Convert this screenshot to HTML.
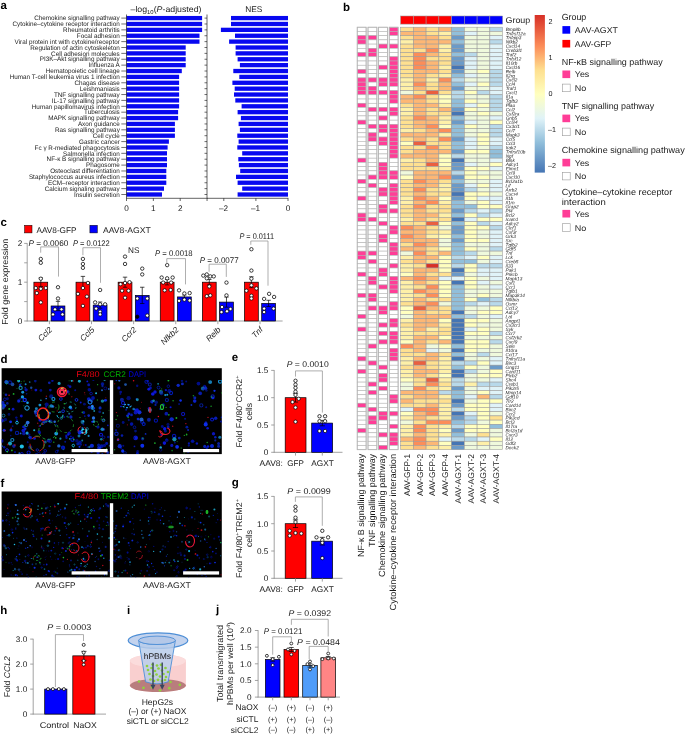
<!DOCTYPE html>
<html lang="en"><head><meta charset="utf-8"><title>Figure</title>
<style>
html,body{margin:0;padding:0;background:#fff;}
body{width:685px;height:734px;overflow:hidden;}
svg{display:block;font-family:"Liberation Sans",sans-serif;text-rendering:geometricPrecision;}
</style></head><body>
<svg width="685" height="734" viewBox="0 0 685 734">
<rect width="685" height="734" fill="#fff"/>
<text x="0.50" y="9.00" font-size="11.5" font-weight="bold" fill="#000">a</text>
<text x="119.80" y="20.30" font-size="6.5" text-anchor="end" textLength="85.6" lengthAdjust="spacingAndGlyphs" fill="#1a1a1a">Chemokine signalling pathway</text>
<line x1="121.30" y1="18.10" x2="126.50" y2="18.10" stroke="#111" stroke-width="0.6"/>
<rect x="126.50" y="15.95" width="75.60" height="4.30" fill="#0808f0"/>
<rect x="231.00" y="15.95" width="57.00" height="4.30" fill="#0808f0"/>
<line x1="204.50" y1="18.10" x2="207.00" y2="18.10" stroke="#111" stroke-width="0.6"/>
<text x="119.80" y="26.18" font-size="6.5" text-anchor="end" textLength="107.4" lengthAdjust="spacingAndGlyphs" fill="#1a1a1a">Cytokine–cytokine receptor interaction</text>
<line x1="121.30" y1="23.98" x2="126.50" y2="23.98" stroke="#111" stroke-width="0.6"/>
<rect x="126.50" y="21.83" width="75.60" height="4.30" fill="#0808f0"/>
<rect x="231.00" y="21.83" width="57.00" height="4.30" fill="#0808f0"/>
<line x1="204.50" y1="23.98" x2="207.00" y2="23.98" stroke="#111" stroke-width="0.6"/>
<text x="119.80" y="32.06" font-size="6.5" text-anchor="end" textLength="56.7" lengthAdjust="spacingAndGlyphs" fill="#1a1a1a">Rheumatoid arthritis</text>
<line x1="121.30" y1="29.86" x2="126.50" y2="29.86" stroke="#111" stroke-width="0.6"/>
<rect x="126.50" y="27.71" width="75.60" height="4.30" fill="#0808f0"/>
<rect x="220.90" y="27.71" width="67.10" height="4.30" fill="#0808f0"/>
<line x1="204.50" y1="29.86" x2="207.00" y2="29.86" stroke="#111" stroke-width="0.6"/>
<text x="119.80" y="37.94" font-size="6.5" text-anchor="end" textLength="43.0" lengthAdjust="spacingAndGlyphs" fill="#1a1a1a">Focal adhesion</text>
<line x1="121.30" y1="35.74" x2="126.50" y2="35.74" stroke="#111" stroke-width="0.6"/>
<rect x="126.50" y="33.59" width="73.00" height="4.30" fill="#0808f0"/>
<rect x="235.00" y="33.59" width="53.00" height="4.30" fill="#0808f0"/>
<line x1="204.50" y1="35.74" x2="207.00" y2="35.74" stroke="#111" stroke-width="0.6"/>
<text x="119.80" y="43.82" font-size="6.5" text-anchor="end" textLength="105.2" lengthAdjust="spacingAndGlyphs" fill="#1a1a1a">Viral protein int with cytokine/receptor</text>
<line x1="121.30" y1="41.62" x2="126.50" y2="41.62" stroke="#111" stroke-width="0.6"/>
<rect x="126.50" y="39.47" width="73.00" height="4.30" fill="#0808f0"/>
<rect x="229.10" y="39.47" width="58.90" height="4.30" fill="#0808f0"/>
<line x1="204.50" y1="41.62" x2="207.00" y2="41.62" stroke="#111" stroke-width="0.6"/>
<text x="119.80" y="49.70" font-size="6.5" text-anchor="end" textLength="89.5" lengthAdjust="spacingAndGlyphs" fill="#1a1a1a">Regulation of actin cytoskeleton</text>
<line x1="121.30" y1="47.50" x2="126.50" y2="47.50" stroke="#111" stroke-width="0.6"/>
<rect x="126.50" y="45.35" width="59.20" height="4.30" fill="#0808f0"/>
<rect x="235.60" y="45.35" width="52.40" height="4.30" fill="#0808f0"/>
<line x1="204.50" y1="47.50" x2="207.00" y2="47.50" stroke="#111" stroke-width="0.6"/>
<text x="119.80" y="55.58" font-size="6.5" text-anchor="end" textLength="68.7" lengthAdjust="spacingAndGlyphs" fill="#1a1a1a">Cell adhesion molecules</text>
<line x1="121.30" y1="53.38" x2="126.50" y2="53.38" stroke="#111" stroke-width="0.6"/>
<rect x="126.50" y="51.23" width="59.20" height="4.30" fill="#0808f0"/>
<rect x="235.60" y="51.23" width="52.40" height="4.30" fill="#0808f0"/>
<line x1="204.50" y1="53.38" x2="207.00" y2="53.38" stroke="#111" stroke-width="0.6"/>
<text x="119.80" y="61.46" font-size="6.5" text-anchor="end" textLength="80.0" lengthAdjust="spacingAndGlyphs" fill="#1a1a1a">PI3K–Akt signalling pathway</text>
<line x1="121.30" y1="59.26" x2="126.50" y2="59.26" stroke="#111" stroke-width="0.6"/>
<rect x="126.50" y="57.11" width="59.20" height="4.30" fill="#0808f0"/>
<rect x="237.60" y="57.11" width="50.40" height="4.30" fill="#0808f0"/>
<line x1="204.50" y1="59.26" x2="207.00" y2="59.26" stroke="#111" stroke-width="0.6"/>
<text x="119.80" y="67.34" font-size="6.5" text-anchor="end" textLength="31.4" lengthAdjust="spacingAndGlyphs" fill="#1a1a1a">Influenza A</text>
<line x1="121.30" y1="65.14" x2="126.50" y2="65.14" stroke="#111" stroke-width="0.6"/>
<rect x="126.50" y="62.99" width="59.20" height="4.30" fill="#0808f0"/>
<rect x="239.90" y="62.99" width="48.10" height="4.30" fill="#0808f0"/>
<line x1="204.50" y1="65.14" x2="207.00" y2="65.14" stroke="#111" stroke-width="0.6"/>
<text x="119.80" y="73.22" font-size="6.5" text-anchor="end" textLength="74.0" lengthAdjust="spacingAndGlyphs" fill="#1a1a1a">Hematopoietic cell lineage</text>
<line x1="121.30" y1="71.02" x2="126.50" y2="71.02" stroke="#111" stroke-width="0.6"/>
<rect x="126.50" y="68.87" width="55.30" height="4.30" fill="#0808f0"/>
<rect x="233.30" y="68.87" width="54.70" height="4.30" fill="#0808f0"/>
<line x1="204.50" y1="71.02" x2="207.00" y2="71.02" stroke="#111" stroke-width="0.6"/>
<text x="119.80" y="79.10" font-size="6.5" text-anchor="end" textLength="110.1" lengthAdjust="spacingAndGlyphs" fill="#1a1a1a">Human T-cell leukemia virus 1 infection</text>
<line x1="121.30" y1="76.90" x2="126.50" y2="76.90" stroke="#111" stroke-width="0.6"/>
<rect x="126.50" y="74.75" width="52.60" height="4.30" fill="#0808f0"/>
<rect x="239.30" y="74.75" width="48.70" height="4.30" fill="#0808f0"/>
<line x1="204.50" y1="76.90" x2="207.00" y2="76.90" stroke="#111" stroke-width="0.6"/>
<text x="119.80" y="84.98" font-size="6.5" text-anchor="end" textLength="45.4" lengthAdjust="spacingAndGlyphs" fill="#1a1a1a">Chagas disease</text>
<line x1="121.30" y1="82.78" x2="126.50" y2="82.78" stroke="#111" stroke-width="0.6"/>
<rect x="126.50" y="80.63" width="52.60" height="4.30" fill="#0808f0"/>
<rect x="232.40" y="80.63" width="55.60" height="4.30" fill="#0808f0"/>
<line x1="204.50" y1="82.78" x2="207.00" y2="82.78" stroke="#111" stroke-width="0.6"/>
<text x="119.80" y="90.86" font-size="6.5" text-anchor="end" textLength="40.1" lengthAdjust="spacingAndGlyphs" fill="#1a1a1a">Leishmaniasis</text>
<line x1="121.30" y1="88.66" x2="126.50" y2="88.66" stroke="#111" stroke-width="0.6"/>
<rect x="126.50" y="86.51" width="52.60" height="4.30" fill="#0808f0"/>
<rect x="234.70" y="86.51" width="53.30" height="4.30" fill="#0808f0"/>
<line x1="204.50" y1="88.66" x2="207.00" y2="88.66" stroke="#111" stroke-width="0.6"/>
<text x="119.80" y="96.74" font-size="6.5" text-anchor="end" textLength="65.9" lengthAdjust="spacingAndGlyphs" fill="#1a1a1a">TNF signalling pathway</text>
<line x1="121.30" y1="94.54" x2="126.50" y2="94.54" stroke="#111" stroke-width="0.6"/>
<rect x="126.50" y="92.39" width="52.60" height="4.30" fill="#0808f0"/>
<rect x="234.00" y="92.39" width="54.00" height="4.30" fill="#0808f0"/>
<line x1="204.50" y1="94.54" x2="207.00" y2="94.54" stroke="#111" stroke-width="0.6"/>
<text x="119.80" y="102.62" font-size="6.5" text-anchor="end" textLength="68.0" lengthAdjust="spacingAndGlyphs" fill="#1a1a1a">IL-17 signalling pathway</text>
<line x1="121.30" y1="100.42" x2="126.50" y2="100.42" stroke="#111" stroke-width="0.6"/>
<rect x="126.50" y="98.27" width="52.60" height="4.30" fill="#0808f0"/>
<rect x="235.30" y="98.27" width="52.70" height="4.30" fill="#0808f0"/>
<line x1="204.50" y1="100.42" x2="207.00" y2="100.42" stroke="#111" stroke-width="0.6"/>
<text x="119.80" y="108.50" font-size="6.5" text-anchor="end" textLength="88.0" lengthAdjust="spacingAndGlyphs" fill="#1a1a1a">Human papillomavirus infection</text>
<line x1="121.30" y1="106.30" x2="126.50" y2="106.30" stroke="#111" stroke-width="0.6"/>
<rect x="126.50" y="104.15" width="52.60" height="4.30" fill="#0808f0"/>
<rect x="241.60" y="104.15" width="46.40" height="4.30" fill="#0808f0"/>
<line x1="204.50" y1="106.30" x2="207.00" y2="106.30" stroke="#111" stroke-width="0.6"/>
<text x="119.80" y="114.38" font-size="6.5" text-anchor="end" textLength="35.7" lengthAdjust="spacingAndGlyphs" fill="#1a1a1a">Tuberculosis</text>
<line x1="121.30" y1="112.18" x2="126.50" y2="112.18" stroke="#111" stroke-width="0.6"/>
<rect x="126.50" y="110.03" width="51.60" height="4.30" fill="#0808f0"/>
<rect x="237.60" y="110.03" width="50.40" height="4.30" fill="#0808f0"/>
<line x1="204.50" y1="112.18" x2="207.00" y2="112.18" stroke="#111" stroke-width="0.6"/>
<text x="119.80" y="120.26" font-size="6.5" text-anchor="end" textLength="71.5" lengthAdjust="spacingAndGlyphs" fill="#1a1a1a">MAPK signalling pathway</text>
<line x1="121.30" y1="118.06" x2="126.50" y2="118.06" stroke="#111" stroke-width="0.6"/>
<rect x="126.50" y="115.91" width="51.60" height="4.30" fill="#0808f0"/>
<rect x="240.90" y="115.91" width="47.10" height="4.30" fill="#0808f0"/>
<line x1="204.50" y1="118.06" x2="207.00" y2="118.06" stroke="#111" stroke-width="0.6"/>
<text x="119.80" y="126.14" font-size="6.5" text-anchor="end" textLength="41.9" lengthAdjust="spacingAndGlyphs" fill="#1a1a1a">Axon guidance</text>
<line x1="121.30" y1="123.94" x2="126.50" y2="123.94" stroke="#111" stroke-width="0.6"/>
<rect x="126.50" y="121.79" width="48.40" height="4.30" fill="#0808f0"/>
<rect x="238.60" y="121.79" width="49.40" height="4.30" fill="#0808f0"/>
<line x1="204.50" y1="123.94" x2="207.00" y2="123.94" stroke="#111" stroke-width="0.6"/>
<text x="119.80" y="132.02" font-size="6.5" text-anchor="end" textLength="64.8" lengthAdjust="spacingAndGlyphs" fill="#1a1a1a">Ras signalling pathway</text>
<line x1="121.30" y1="129.82" x2="126.50" y2="129.82" stroke="#111" stroke-width="0.6"/>
<rect x="126.50" y="127.67" width="48.40" height="4.30" fill="#0808f0"/>
<rect x="239.90" y="127.67" width="48.10" height="4.30" fill="#0808f0"/>
<line x1="204.50" y1="129.82" x2="207.00" y2="129.82" stroke="#111" stroke-width="0.6"/>
<text x="119.80" y="137.90" font-size="6.5" text-anchor="end" textLength="27.1" lengthAdjust="spacingAndGlyphs" fill="#1a1a1a">Cell cycle</text>
<line x1="121.30" y1="135.70" x2="126.50" y2="135.70" stroke="#111" stroke-width="0.6"/>
<rect x="126.50" y="133.55" width="48.40" height="4.30" fill="#0808f0"/>
<rect x="237.30" y="133.55" width="50.70" height="4.30" fill="#0808f0"/>
<line x1="204.50" y1="135.70" x2="207.00" y2="135.70" stroke="#111" stroke-width="0.6"/>
<text x="119.80" y="143.78" font-size="6.5" text-anchor="end" textLength="40.8" lengthAdjust="spacingAndGlyphs" fill="#1a1a1a">Gastric cancer</text>
<line x1="121.30" y1="141.58" x2="126.50" y2="141.58" stroke="#111" stroke-width="0.6"/>
<rect x="126.50" y="139.43" width="42.40" height="4.30" fill="#0808f0"/>
<rect x="238.60" y="139.43" width="49.40" height="4.30" fill="#0808f0"/>
<line x1="204.50" y1="141.58" x2="207.00" y2="141.58" stroke="#111" stroke-width="0.6"/>
<text x="119.80" y="149.66" font-size="6.5" text-anchor="end" textLength="85.2" lengthAdjust="spacingAndGlyphs" fill="#1a1a1a">Fc γ R-mediated phagocytosis</text>
<line x1="121.30" y1="147.46" x2="126.50" y2="147.46" stroke="#111" stroke-width="0.6"/>
<rect x="126.50" y="145.31" width="41.10" height="4.30" fill="#0808f0"/>
<rect x="237.30" y="145.31" width="50.70" height="4.30" fill="#0808f0"/>
<line x1="204.50" y1="147.46" x2="207.00" y2="147.46" stroke="#111" stroke-width="0.6"/>
<text x="119.80" y="155.54" font-size="6.5" text-anchor="end" textLength="56.7" lengthAdjust="spacingAndGlyphs" fill="#1a1a1a">Salmonella infection</text>
<line x1="121.30" y1="153.34" x2="126.50" y2="153.34" stroke="#111" stroke-width="0.6"/>
<rect x="126.50" y="151.19" width="40.50" height="4.30" fill="#0808f0"/>
<rect x="242.20" y="151.19" width="45.80" height="4.30" fill="#0808f0"/>
<line x1="204.50" y1="153.34" x2="207.00" y2="153.34" stroke="#111" stroke-width="0.6"/>
<text x="119.80" y="161.42" font-size="6.5" text-anchor="end" textLength="73.2" lengthAdjust="spacingAndGlyphs" fill="#1a1a1a">NF-κ B signalling pathway</text>
<line x1="121.30" y1="159.22" x2="126.50" y2="159.22" stroke="#111" stroke-width="0.6"/>
<rect x="126.50" y="157.07" width="40.50" height="4.30" fill="#0808f0"/>
<rect x="238.30" y="157.07" width="49.70" height="4.30" fill="#0808f0"/>
<line x1="204.50" y1="159.22" x2="207.00" y2="159.22" stroke="#111" stroke-width="0.6"/>
<text x="119.80" y="167.30" font-size="6.5" text-anchor="end" textLength="33.8" lengthAdjust="spacingAndGlyphs" fill="#1a1a1a">Phagosome</text>
<line x1="121.30" y1="165.10" x2="126.50" y2="165.10" stroke="#111" stroke-width="0.6"/>
<rect x="126.50" y="162.95" width="40.50" height="4.30" fill="#0808f0"/>
<rect x="238.90" y="162.95" width="49.10" height="4.30" fill="#0808f0"/>
<line x1="204.50" y1="165.10" x2="207.00" y2="165.10" stroke="#111" stroke-width="0.6"/>
<text x="119.80" y="173.18" font-size="6.5" text-anchor="end" textLength="69.6" lengthAdjust="spacingAndGlyphs" fill="#1a1a1a">Osteoclast differentiation</text>
<line x1="121.30" y1="170.98" x2="126.50" y2="170.98" stroke="#111" stroke-width="0.6"/>
<rect x="126.50" y="168.83" width="39.80" height="4.30" fill="#0808f0"/>
<rect x="240.20" y="168.83" width="47.80" height="4.30" fill="#0808f0"/>
<line x1="204.50" y1="170.98" x2="207.00" y2="170.98" stroke="#111" stroke-width="0.6"/>
<text x="119.80" y="179.06" font-size="6.5" text-anchor="end" textLength="90.9" lengthAdjust="spacingAndGlyphs" fill="#1a1a1a">Staphylococcus aureus infection</text>
<line x1="121.30" y1="176.86" x2="126.50" y2="176.86" stroke="#111" stroke-width="0.6"/>
<rect x="126.50" y="174.71" width="39.80" height="4.30" fill="#0808f0"/>
<rect x="236.00" y="174.71" width="52.00" height="4.30" fill="#0808f0"/>
<line x1="204.50" y1="176.86" x2="207.00" y2="176.86" stroke="#111" stroke-width="0.6"/>
<text x="119.80" y="184.94" font-size="6.5" text-anchor="end" textLength="71.8" lengthAdjust="spacingAndGlyphs" fill="#1a1a1a">ECM–receptor interaction</text>
<line x1="121.30" y1="182.74" x2="126.50" y2="182.74" stroke="#111" stroke-width="0.6"/>
<rect x="126.50" y="180.59" width="39.80" height="4.30" fill="#0808f0"/>
<rect x="237.60" y="180.59" width="50.40" height="4.30" fill="#0808f0"/>
<line x1="204.50" y1="182.74" x2="207.00" y2="182.74" stroke="#111" stroke-width="0.6"/>
<text x="119.80" y="190.82" font-size="6.5" text-anchor="end" textLength="75.0" lengthAdjust="spacingAndGlyphs" fill="#1a1a1a">Calcium signaling pathway</text>
<line x1="121.30" y1="188.62" x2="126.50" y2="188.62" stroke="#111" stroke-width="0.6"/>
<rect x="126.50" y="186.47" width="37.50" height="4.30" fill="#0808f0"/>
<rect x="242.20" y="186.47" width="45.80" height="4.30" fill="#0808f0"/>
<line x1="204.50" y1="188.62" x2="207.00" y2="188.62" stroke="#111" stroke-width="0.6"/>
<text x="119.80" y="196.70" font-size="6.5" text-anchor="end" textLength="45.8" lengthAdjust="spacingAndGlyphs" fill="#1a1a1a">Insulin secretion</text>
<line x1="121.30" y1="194.50" x2="126.50" y2="194.50" stroke="#111" stroke-width="0.6"/>
<rect x="126.50" y="192.35" width="35.50" height="4.30" fill="#0808f0"/>
<rect x="237.60" y="192.35" width="50.40" height="4.30" fill="#0808f0"/>
<line x1="204.50" y1="194.50" x2="207.00" y2="194.50" stroke="#111" stroke-width="0.6"/>
<line x1="126.50" y1="14.50" x2="126.50" y2="198.30" stroke="#111" stroke-width="0.65"/>
<line x1="126.20" y1="198.30" x2="207.30" y2="198.30" stroke="#111" stroke-width="0.65"/>
<line x1="207.00" y1="14.50" x2="207.00" y2="198.30" stroke="#111" stroke-width="0.65"/>
<line x1="126.50" y1="198.30" x2="126.50" y2="201.00" stroke="#111" stroke-width="0.65"/>
<text x="126.50" y="211.00" font-size="8.2" text-anchor="middle" fill="#1a1a1a">0</text>
<line x1="153.35" y1="198.30" x2="153.35" y2="201.00" stroke="#111" stroke-width="0.65"/>
<text x="153.35" y="211.00" font-size="8.2" text-anchor="middle" fill="#1a1a1a">1</text>
<line x1="180.20" y1="198.30" x2="180.20" y2="201.00" stroke="#111" stroke-width="0.65"/>
<text x="180.20" y="211.00" font-size="8.2" text-anchor="middle" fill="#1a1a1a">2</text>
<line x1="207.05" y1="198.30" x2="207.05" y2="201.00" stroke="#111" stroke-width="0.65"/>
<line x1="207.00" y1="198.30" x2="288.30" y2="198.30" stroke="#111" stroke-width="0.65"/>
<line x1="223.80" y1="198.30" x2="223.80" y2="201.00" stroke="#111" stroke-width="0.65"/>
<text x="223.50" y="211.00" font-size="8.2" text-anchor="middle" fill="#1a1a1a">–2</text>
<line x1="255.90" y1="198.30" x2="255.90" y2="201.00" stroke="#111" stroke-width="0.65"/>
<text x="255.60" y="211.00" font-size="8.2" text-anchor="middle" fill="#1a1a1a">–1</text>
<line x1="288.00" y1="198.30" x2="288.00" y2="201.00" stroke="#111" stroke-width="0.65"/>
<text x="288.00" y="211.00" font-size="8.2" text-anchor="middle" fill="#1a1a1a">0</text>
<text x="130.5" y="12.2" font-size="8.3" fill="#1a1a1a" textLength="71" lengthAdjust="spacingAndGlyphs">–log<tspan font-size="5.6" dy="1.8">10</tspan><tspan dy="-1.8">(</tspan><tspan font-style="italic">P</tspan>-adjusted)</text>
<text x="253.80" y="12.20" font-size="8.3" text-anchor="middle" fill="#1a1a1a">NES</text>
<text x="0.50" y="226.00" font-size="11.5" font-weight="bold" fill="#000">c</text>
<rect x="24.60" y="225.30" width="7.40" height="7.60" fill="#ff0000" stroke="#000" stroke-width="0.5"/>
<text x="36.40" y="232.60" font-size="8.2" textLength="40.2" lengthAdjust="spacingAndGlyphs" fill="#1a1a1a">AAV8-GFP</text>
<rect x="89.90" y="225.30" width="7.40" height="7.60" fill="#0000ff" stroke="#000" stroke-width="0.5"/>
<text x="103.00" y="232.60" font-size="8.2" textLength="47.8" lengthAdjust="spacingAndGlyphs" fill="#1a1a1a">AAV8-AGXT</text>
<line x1="27.20" y1="243.20" x2="27.20" y2="321.30" stroke="#8c8c8c" stroke-width="0.8"/>
<line x1="26.80" y1="321.00" x2="282.60" y2="321.00" stroke="#8c8c8c" stroke-width="0.8"/>
<line x1="24.20" y1="321.00" x2="27.20" y2="321.00" stroke="#8c8c8c" stroke-width="0.8"/>
<text x="22.30" y="323.90" font-size="8.2" text-anchor="end" fill="#1a1a1a">0</text>
<line x1="24.20" y1="301.60" x2="27.20" y2="301.60" stroke="#8c8c8c" stroke-width="0.8"/>
<line x1="24.20" y1="282.20" x2="27.20" y2="282.20" stroke="#8c8c8c" stroke-width="0.8"/>
<text x="22.30" y="285.10" font-size="8.2" text-anchor="end" fill="#1a1a1a">1</text>
<line x1="24.20" y1="262.80" x2="27.20" y2="262.80" stroke="#8c8c8c" stroke-width="0.8"/>
<line x1="24.20" y1="243.40" x2="27.20" y2="243.40" stroke="#8c8c8c" stroke-width="0.8"/>
<text x="22.30" y="246.30" font-size="8.2" text-anchor="end" fill="#1a1a1a">2</text>
<text x="8.50" y="281.80" font-size="8.7" text-anchor="middle" transform="rotate(-90 8.50 281.80)" textLength="86.0" lengthAdjust="spacingAndGlyphs" fill="#1a1a1a">Fold gene expression</text>
<rect x="33.90" y="282.20" width="13.80" height="38.80" fill="#ff0000" stroke="#000" stroke-width="0.7"/>
<rect x="51.10" y="305.98" width="13.80" height="15.02" fill="#0000ff" stroke="#000" stroke-width="0.7"/>
<line x1="40.80" y1="277.93" x2="40.80" y2="286.47" stroke="#000" stroke-width="0.7"/>
<line x1="38.60" y1="277.93" x2="43.00" y2="277.93" stroke="#000" stroke-width="0.7"/>
<line x1="38.60" y1="286.47" x2="43.00" y2="286.47" stroke="#000" stroke-width="0.7"/>
<line x1="58.00" y1="301.33" x2="58.00" y2="310.64" stroke="#000" stroke-width="0.7"/>
<line x1="55.80" y1="301.33" x2="60.20" y2="301.33" stroke="#000" stroke-width="0.7"/>
<line x1="55.80" y1="310.64" x2="60.20" y2="310.64" stroke="#000" stroke-width="0.7"/>
<circle cx="40.80" cy="258.92" r="1.7" fill="#fff" stroke="#000" stroke-width="0.75"/>
<circle cx="40.80" cy="262.80" r="1.7" fill="#fff" stroke="#000" stroke-width="0.75"/>
<circle cx="40.80" cy="278.71" r="1.7" fill="#fff" stroke="#000" stroke-width="0.75"/>
<circle cx="35.80" cy="288.02" r="1.7" fill="#fff" stroke="#000" stroke-width="0.75"/>
<circle cx="40.80" cy="288.80" r="1.7" fill="#fff" stroke="#000" stroke-width="0.75"/>
<circle cx="45.80" cy="288.02" r="1.7" fill="#fff" stroke="#000" stroke-width="0.75"/>
<circle cx="36.80" cy="293.06" r="1.7" fill="#fff" stroke="#000" stroke-width="0.75"/>
<circle cx="40.80" cy="302.38" r="1.7" fill="#fff" stroke="#000" stroke-width="0.75"/>
<circle cx="58.00" cy="287.24" r="1.7" fill="#fff" stroke="#000" stroke-width="0.75"/>
<circle cx="58.00" cy="298.50" r="1.7" fill="#fff" stroke="#000" stroke-width="0.75"/>
<circle cx="55.00" cy="309.36" r="1.7" fill="#fff" stroke="#000" stroke-width="0.75"/>
<circle cx="61.50" cy="309.36" r="1.7" fill="#fff" stroke="#000" stroke-width="0.75"/>
<circle cx="53.00" cy="314.40" r="1.7" fill="#fff" stroke="#000" stroke-width="0.75"/>
<circle cx="62.50" cy="314.40" r="1.7" fill="#fff" stroke="#000" stroke-width="0.75"/>
<line x1="49.40" y1="321.00" x2="49.40" y2="324.20" stroke="#8c8c8c" stroke-width="0.8"/>
<text x="52.80" y="330.20" font-size="8.2" text-anchor="end" font-style="italic" transform="rotate(-45 52.80 330.20)" fill="#1a1a1a">Ccl2</text>
<rect x="76.02" y="282.20" width="13.80" height="38.80" fill="#ff0000" stroke="#000" stroke-width="0.7"/>
<rect x="93.22" y="305.09" width="13.80" height="15.91" fill="#0000ff" stroke="#000" stroke-width="0.7"/>
<line x1="82.92" y1="276.38" x2="82.92" y2="288.02" stroke="#000" stroke-width="0.7"/>
<line x1="80.72" y1="276.38" x2="85.12" y2="276.38" stroke="#000" stroke-width="0.7"/>
<line x1="80.72" y1="288.02" x2="85.12" y2="288.02" stroke="#000" stroke-width="0.7"/>
<line x1="100.12" y1="301.99" x2="100.12" y2="308.20" stroke="#000" stroke-width="0.7"/>
<line x1="97.92" y1="301.99" x2="102.32" y2="301.99" stroke="#000" stroke-width="0.7"/>
<line x1="97.92" y1="308.20" x2="102.32" y2="308.20" stroke="#000" stroke-width="0.7"/>
<circle cx="82.92" cy="258.92" r="1.7" fill="#fff" stroke="#000" stroke-width="0.75"/>
<circle cx="82.92" cy="263.96" r="1.7" fill="#fff" stroke="#000" stroke-width="0.75"/>
<circle cx="82.92" cy="267.84" r="1.7" fill="#fff" stroke="#000" stroke-width="0.75"/>
<circle cx="87.92" cy="282.98" r="1.7" fill="#fff" stroke="#000" stroke-width="0.75"/>
<circle cx="82.92" cy="288.02" r="1.7" fill="#fff" stroke="#000" stroke-width="0.75"/>
<circle cx="77.92" cy="293.84" r="1.7" fill="#fff" stroke="#000" stroke-width="0.75"/>
<circle cx="86.92" cy="296.56" r="1.7" fill="#fff" stroke="#000" stroke-width="0.75"/>
<circle cx="82.92" cy="305.87" r="1.7" fill="#fff" stroke="#000" stroke-width="0.75"/>
<circle cx="100.12" cy="289.96" r="1.7" fill="#fff" stroke="#000" stroke-width="0.75"/>
<circle cx="95.12" cy="302.38" r="1.7" fill="#fff" stroke="#000" stroke-width="0.75"/>
<circle cx="100.12" cy="304.32" r="1.7" fill="#fff" stroke="#000" stroke-width="0.75"/>
<circle cx="105.12" cy="304.32" r="1.7" fill="#fff" stroke="#000" stroke-width="0.75"/>
<circle cx="96.12" cy="308.58" r="1.7" fill="#fff" stroke="#000" stroke-width="0.75"/>
<circle cx="100.12" cy="311.69" r="1.7" fill="#fff" stroke="#000" stroke-width="0.75"/>
<circle cx="100.12" cy="314.40" r="1.7" fill="#fff" stroke="#000" stroke-width="0.75"/>
<line x1="91.52" y1="321.00" x2="91.52" y2="324.20" stroke="#8c8c8c" stroke-width="0.8"/>
<text x="94.92" y="330.20" font-size="8.2" text-anchor="end" font-style="italic" transform="rotate(-45 94.92 330.20)" fill="#1a1a1a">Ccl5</text>
<rect x="118.14" y="282.20" width="13.80" height="38.80" fill="#ff0000" stroke="#000" stroke-width="0.7"/>
<rect x="135.34" y="295.39" width="13.80" height="25.61" fill="#0000ff" stroke="#000" stroke-width="0.7"/>
<line x1="125.04" y1="277.16" x2="125.04" y2="287.24" stroke="#000" stroke-width="0.7"/>
<line x1="122.84" y1="277.16" x2="127.24" y2="277.16" stroke="#000" stroke-width="0.7"/>
<line x1="122.84" y1="287.24" x2="127.24" y2="287.24" stroke="#000" stroke-width="0.7"/>
<line x1="142.24" y1="287.24" x2="142.24" y2="303.54" stroke="#000" stroke-width="0.7"/>
<line x1="140.04" y1="287.24" x2="144.44" y2="287.24" stroke="#000" stroke-width="0.7"/>
<line x1="140.04" y1="303.54" x2="144.44" y2="303.54" stroke="#000" stroke-width="0.7"/>
<circle cx="125.04" cy="256.59" r="1.7" fill="#fff" stroke="#000" stroke-width="0.75"/>
<circle cx="125.04" cy="263.96" r="1.7" fill="#fff" stroke="#000" stroke-width="0.75"/>
<circle cx="125.04" cy="282.98" r="1.7" fill="#fff" stroke="#000" stroke-width="0.75"/>
<circle cx="120.54" cy="284.14" r="1.7" fill="#fff" stroke="#000" stroke-width="0.75"/>
<circle cx="129.54" cy="282.20" r="1.7" fill="#fff" stroke="#000" stroke-width="0.75"/>
<circle cx="122.04" cy="290.74" r="1.7" fill="#fff" stroke="#000" stroke-width="0.75"/>
<circle cx="128.54" cy="290.74" r="1.7" fill="#fff" stroke="#000" stroke-width="0.75"/>
<circle cx="125.04" cy="297.72" r="1.7" fill="#fff" stroke="#000" stroke-width="0.75"/>
<circle cx="142.24" cy="268.62" r="1.7" fill="#fff" stroke="#000" stroke-width="0.75"/>
<circle cx="142.24" cy="274.44" r="1.7" fill="#fff" stroke="#000" stroke-width="0.75"/>
<circle cx="137.24" cy="298.50" r="1.7" fill="#fff" stroke="#000" stroke-width="0.75"/>
<circle cx="147.24" cy="298.50" r="1.7" fill="#fff" stroke="#000" stroke-width="0.75"/>
<circle cx="137.24" cy="316.73" r="1.7" fill="#000" stroke="#000" stroke-width="0.75"/>
<circle cx="147.24" cy="315.57" r="1.7" fill="#fff" stroke="#000" stroke-width="0.75"/>
<line x1="133.64" y1="321.00" x2="133.64" y2="324.20" stroke="#8c8c8c" stroke-width="0.8"/>
<text x="137.04" y="330.20" font-size="8.2" text-anchor="end" font-style="italic" transform="rotate(-45 137.04 330.20)" fill="#1a1a1a">Ccr2</text>
<rect x="160.26" y="282.20" width="13.80" height="38.80" fill="#ff0000" stroke="#000" stroke-width="0.7"/>
<rect x="177.46" y="296.94" width="13.80" height="24.06" fill="#0000ff" stroke="#000" stroke-width="0.7"/>
<line x1="167.16" y1="279.48" x2="167.16" y2="284.92" stroke="#000" stroke-width="0.7"/>
<line x1="164.96" y1="279.48" x2="169.36" y2="279.48" stroke="#000" stroke-width="0.7"/>
<line x1="164.96" y1="284.92" x2="169.36" y2="284.92" stroke="#000" stroke-width="0.7"/>
<line x1="184.36" y1="295.00" x2="184.36" y2="298.88" stroke="#000" stroke-width="0.7"/>
<line x1="182.16" y1="295.00" x2="186.56" y2="295.00" stroke="#000" stroke-width="0.7"/>
<line x1="182.16" y1="298.88" x2="186.56" y2="298.88" stroke="#000" stroke-width="0.7"/>
<circle cx="167.16" cy="265.13" r="1.7" fill="#fff" stroke="#000" stroke-width="0.75"/>
<circle cx="161.66" cy="277.54" r="1.7" fill="#fff" stroke="#000" stroke-width="0.75"/>
<circle cx="167.16" cy="278.32" r="1.7" fill="#fff" stroke="#000" stroke-width="0.75"/>
<circle cx="172.66" cy="277.54" r="1.7" fill="#fff" stroke="#000" stroke-width="0.75"/>
<circle cx="163.16" cy="282.59" r="1.7" fill="#fff" stroke="#000" stroke-width="0.75"/>
<circle cx="171.16" cy="282.59" r="1.7" fill="#fff" stroke="#000" stroke-width="0.75"/>
<circle cx="164.66" cy="290.35" r="1.7" fill="#fff" stroke="#000" stroke-width="0.75"/>
<circle cx="170.66" cy="289.96" r="1.7" fill="#fff" stroke="#000" stroke-width="0.75"/>
<circle cx="179.06" cy="290.35" r="1.7" fill="#fff" stroke="#000" stroke-width="0.75"/>
<circle cx="184.36" cy="293.45" r="1.7" fill="#fff" stroke="#000" stroke-width="0.75"/>
<circle cx="189.66" cy="293.06" r="1.7" fill="#fff" stroke="#000" stroke-width="0.75"/>
<circle cx="179.06" cy="300.82" r="1.7" fill="#fff" stroke="#000" stroke-width="0.75"/>
<circle cx="184.36" cy="299.66" r="1.7" fill="#fff" stroke="#000" stroke-width="0.75"/>
<circle cx="189.66" cy="300.44" r="1.7" fill="#fff" stroke="#000" stroke-width="0.75"/>
<line x1="175.76" y1="321.00" x2="175.76" y2="324.20" stroke="#8c8c8c" stroke-width="0.8"/>
<text x="179.16" y="330.20" font-size="8.2" text-anchor="end" font-style="italic" transform="rotate(-45 179.16 330.20)" fill="#1a1a1a">Nfkb2</text>
<rect x="202.38" y="282.20" width="13.80" height="38.80" fill="#ff0000" stroke="#000" stroke-width="0.7"/>
<rect x="219.58" y="302.10" width="13.80" height="18.90" fill="#0000ff" stroke="#000" stroke-width="0.7"/>
<line x1="209.28" y1="279.48" x2="209.28" y2="284.92" stroke="#000" stroke-width="0.7"/>
<line x1="207.08" y1="279.48" x2="211.48" y2="279.48" stroke="#000" stroke-width="0.7"/>
<line x1="207.08" y1="284.92" x2="211.48" y2="284.92" stroke="#000" stroke-width="0.7"/>
<line x1="226.48" y1="297.06" x2="226.48" y2="307.15" stroke="#000" stroke-width="0.7"/>
<line x1="224.28" y1="297.06" x2="228.68" y2="297.06" stroke="#000" stroke-width="0.7"/>
<line x1="224.28" y1="307.15" x2="228.68" y2="307.15" stroke="#000" stroke-width="0.7"/>
<circle cx="203.28" cy="275.60" r="1.7" fill="#fff" stroke="#000" stroke-width="0.75"/>
<circle cx="206.78" cy="274.44" r="1.7" fill="#fff" stroke="#000" stroke-width="0.75"/>
<circle cx="210.28" cy="276.38" r="1.7" fill="#fff" stroke="#000" stroke-width="0.75"/>
<circle cx="213.78" cy="276.38" r="1.7" fill="#fff" stroke="#000" stroke-width="0.75"/>
<circle cx="206.78" cy="278.32" r="1.7" fill="#fff" stroke="#000" stroke-width="0.75"/>
<circle cx="209.28" cy="286.47" r="1.7" fill="#fff" stroke="#000" stroke-width="0.75"/>
<circle cx="210.28" cy="295.39" r="1.7" fill="#fff" stroke="#000" stroke-width="0.75"/>
<circle cx="206.78" cy="296.17" r="1.7" fill="#fff" stroke="#000" stroke-width="0.75"/>
<circle cx="226.48" cy="282.59" r="1.7" fill="#fff" stroke="#000" stroke-width="0.75"/>
<circle cx="226.48" cy="295.39" r="1.7" fill="#fff" stroke="#000" stroke-width="0.75"/>
<circle cx="221.98" cy="307.03" r="1.7" fill="#fff" stroke="#000" stroke-width="0.75"/>
<circle cx="230.48" cy="308.97" r="1.7" fill="#fff" stroke="#000" stroke-width="0.75"/>
<circle cx="221.48" cy="312.08" r="1.7" fill="#fff" stroke="#000" stroke-width="0.75"/>
<circle cx="226.98" cy="311.30" r="1.7" fill="#fff" stroke="#000" stroke-width="0.75"/>
<line x1="217.88" y1="321.00" x2="217.88" y2="324.20" stroke="#8c8c8c" stroke-width="0.8"/>
<text x="221.28" y="330.20" font-size="8.2" text-anchor="end" font-style="italic" transform="rotate(-45 221.28 330.20)" fill="#1a1a1a">Relb</text>
<rect x="244.50" y="282.20" width="13.80" height="38.80" fill="#ff0000" stroke="#000" stroke-width="0.7"/>
<rect x="261.70" y="303.38" width="13.80" height="17.62" fill="#0000ff" stroke="#000" stroke-width="0.7"/>
<line x1="251.40" y1="276.77" x2="251.40" y2="287.63" stroke="#000" stroke-width="0.7"/>
<line x1="249.20" y1="276.77" x2="253.60" y2="276.77" stroke="#000" stroke-width="0.7"/>
<line x1="249.20" y1="287.63" x2="253.60" y2="287.63" stroke="#000" stroke-width="0.7"/>
<line x1="268.60" y1="300.28" x2="268.60" y2="306.49" stroke="#000" stroke-width="0.7"/>
<line x1="266.40" y1="300.28" x2="270.80" y2="300.28" stroke="#000" stroke-width="0.7"/>
<line x1="266.40" y1="306.49" x2="270.80" y2="306.49" stroke="#000" stroke-width="0.7"/>
<circle cx="251.40" cy="249.22" r="1.7" fill="#fff" stroke="#000" stroke-width="0.75"/>
<circle cx="251.40" cy="270.56" r="1.7" fill="#fff" stroke="#000" stroke-width="0.75"/>
<circle cx="251.40" cy="278.71" r="1.7" fill="#fff" stroke="#000" stroke-width="0.75"/>
<circle cx="251.40" cy="285.30" r="1.7" fill="#fff" stroke="#000" stroke-width="0.75"/>
<circle cx="256.40" cy="288.41" r="1.7" fill="#fff" stroke="#000" stroke-width="0.75"/>
<circle cx="246.40" cy="290.74" r="1.7" fill="#fff" stroke="#000" stroke-width="0.75"/>
<circle cx="251.40" cy="295.78" r="1.7" fill="#fff" stroke="#000" stroke-width="0.75"/>
<circle cx="251.40" cy="298.50" r="1.7" fill="#fff" stroke="#000" stroke-width="0.75"/>
<circle cx="269.10" cy="293.84" r="1.7" fill="#fff" stroke="#000" stroke-width="0.75"/>
<circle cx="274.10" cy="296.94" r="1.7" fill="#fff" stroke="#000" stroke-width="0.75"/>
<circle cx="264.10" cy="298.88" r="1.7" fill="#fff" stroke="#000" stroke-width="0.75"/>
<circle cx="264.10" cy="308.58" r="1.7" fill="#fff" stroke="#000" stroke-width="0.75"/>
<circle cx="273.60" cy="308.58" r="1.7" fill="#fff" stroke="#000" stroke-width="0.75"/>
<circle cx="264.10" cy="312.08" r="1.7" fill="#fff" stroke="#000" stroke-width="0.75"/>
<line x1="260.00" y1="321.00" x2="260.00" y2="324.20" stroke="#8c8c8c" stroke-width="0.8"/>
<text x="263.40" y="330.20" font-size="8.2" text-anchor="end" font-style="italic" transform="rotate(-45 263.40 330.20)" fill="#1a1a1a">Tnf</text>
<text x="28.40" y="245.50" font-size="8.2" fill="#1a1a1a" textLength="39.9" lengthAdjust="spacingAndGlyphs"><tspan font-style="italic">P</tspan> = 0.0060</text>
<path d="M40.70 252.70V246.90H58.50V276.60" fill="none" stroke="#8c8c8c" stroke-width="0.7"/>
<text x="72.90" y="246.30" font-size="8.2" fill="#1a1a1a" textLength="36.9" lengthAdjust="spacingAndGlyphs"><tspan font-style="italic">P</tspan> = 0.0122</text>
<path d="M82.90 255.20V247.70H100.50V282.80" fill="none" stroke="#8c8c8c" stroke-width="0.7"/>
<text x="133.80" y="253.10" font-size="8.2" text-anchor="middle" fill="#1a1a1a">NS</text>
<text x="155.00" y="256.40" font-size="8.2" fill="#1a1a1a" textLength="37.5" lengthAdjust="spacingAndGlyphs"><tspan font-style="italic">P</tspan> = 0.0018</text>
<path d="M166.80 264.00V258.60H185.50V284.40" fill="none" stroke="#8c8c8c" stroke-width="0.7"/>
<text x="199.80" y="262.90" font-size="8.2" fill="#1a1a1a" textLength="38.9" lengthAdjust="spacingAndGlyphs"><tspan font-style="italic">P</tspan> = 0.0077</text>
<path d="M209.10 271.80V264.20H226.30V276.90" fill="none" stroke="#8c8c8c" stroke-width="0.7"/>
<text x="239.40" y="239.40" font-size="8.2" fill="#1a1a1a" textLength="34.6" lengthAdjust="spacingAndGlyphs"><tspan font-style="italic">P</tspan> = 0.0111</text>
<path d="M250.80 244.80V241.00H268.00V285.70" fill="none" stroke="#8c8c8c" stroke-width="0.7"/>
<defs><filter id="bl" x="-5%" y="-5%" width="110%" height="110%"><feGaussianBlur stdDeviation="0.35"/></filter></defs>
<text x="0.50" y="362.60" font-size="11.5" font-weight="bold" fill="#000">d</text>
<rect x="1.60" y="368.20" width="220.20" height="85.90" fill="#000"/>
<clipPath id="cl11"><rect x="1.6" y="380" width="108.30000000000001" height="74.10000000000002"/></clipPath>
<g clip-path="url(#cl11)" filter="url(#bl)">
<circle cx="50.6" cy="421.5" r="1.98" fill="#0820c8" opacity="0.63"/>
<circle cx="69.8" cy="438.8" r="0.92" fill="#1aa0e8" opacity="0.79"/>
<circle cx="98.0" cy="427.0" r="1.56" fill="#0614b0" opacity="0.84"/>
<circle cx="18.7" cy="381.1" r="1.48" fill="#1aa0e8" opacity="0.95"/>
<circle cx="66.5" cy="437.7" r="1.22" fill="#0820c8" opacity="0.78"/>
<circle cx="70.9" cy="417.0" r="1.65" fill="#1030f0" opacity="0.73"/>
<circle cx="102.5" cy="386.2" r="1.13" fill="#1030f0" opacity="0.56"/>
<circle cx="62.6" cy="388.0" r="0.94" fill="#1aa0e8" opacity="0.98"/>
<circle cx="93.4" cy="380.0" r="1.07" fill="#0614b0" opacity="0.72"/>
<circle cx="35.3" cy="381.1" r="1.32" fill="#0820c8" opacity="0.66"/>
<circle cx="12.5" cy="384.4" r="1.82" fill="#2a78f0" opacity="0.63"/>
<circle cx="108.3" cy="437.0" r="1.34" fill="#0614b0" opacity="0.74"/>
<circle cx="24.7" cy="400.0" r="1.63" fill="none" stroke="#1030f0" stroke-width="1.12" opacity="1.00"/>
<circle cx="21.9" cy="453.8" r="1.26" fill="none" stroke="#0a18e0" stroke-width="0.86" opacity="1.00"/>
<circle cx="29.6" cy="437.3" r="1.22" fill="#1aa0e8" opacity="0.58"/>
<circle cx="24.2" cy="427.2" r="0.82" fill="#0614b0" opacity="0.61"/>
<circle cx="65.2" cy="441.7" r="0.97" fill="#0820c8" opacity="0.69"/>
<circle cx="26.3" cy="425.2" r="1.38" fill="none" stroke="#2a78f0" stroke-width="0.95" opacity="0.97"/>
<circle cx="104.5" cy="445.4" r="1.57" fill="#0a18e0" opacity="0.60"/>
<circle cx="29.2" cy="434.8" r="1.30" fill="#0614b0" opacity="0.68"/>
<circle cx="20.6" cy="433.4" r="0.89" fill="#2a78f0" opacity="0.84"/>
<circle cx="68.3" cy="385.5" r="1.07" fill="#0a18e0" opacity="0.58"/>
<circle cx="46.2" cy="398.5" r="0.86" fill="#2a78f0" opacity="0.81"/>
<circle cx="98.1" cy="452.7" r="1.64" fill="#0820c8" opacity="0.82"/>
<circle cx="53.0" cy="406.5" r="1.20" fill="#2a78f0" opacity="0.84"/>
<circle cx="36.1" cy="454.1" r="0.90" fill="#0a18e0" opacity="0.96"/>
<circle cx="81.4" cy="432.1" r="1.82" fill="#1030f0" opacity="0.59"/>
<circle cx="10.0" cy="443.5" r="2.01" fill="#20c8f0" opacity="0.81"/>
<circle cx="43.0" cy="423.2" r="1.26" fill="none" stroke="#2a78f0" stroke-width="0.87" opacity="0.60"/>
<circle cx="46.7" cy="404.5" r="2.00" fill="#0614b0" opacity="0.75"/>
<circle cx="10.7" cy="435.6" r="0.84" fill="#0614b0" opacity="0.56"/>
<circle cx="105.3" cy="388.4" r="1.44" fill="none" stroke="#0614b0" stroke-width="0.99" opacity="0.67"/>
<circle cx="34.2" cy="430.2" r="1.06" fill="#20c8f0" opacity="0.85"/>
<circle cx="49.5" cy="446.1" r="1.22" fill="#0820c8" opacity="0.84"/>
<circle cx="88.6" cy="435.9" r="1.06" fill="#1aa0e8" opacity="0.81"/>
<circle cx="35.9" cy="390.1" r="1.44" fill="#0a18e0" opacity="0.87"/>
<circle cx="104.5" cy="400.5" r="1.02" fill="#1030f0" opacity="0.97"/>
<circle cx="91.6" cy="408.3" r="1.47" fill="#0614b0" opacity="0.69"/>
<circle cx="91.4" cy="400.6" r="1.26" fill="none" stroke="#1030f0" stroke-width="0.87" opacity="0.81"/>
<circle cx="87.3" cy="381.4" r="0.97" fill="#0a18e0" opacity="0.90"/>
<circle cx="30.5" cy="437.7" r="1.82" fill="#0a18e0" opacity="0.75"/>
<circle cx="72.5" cy="439.8" r="1.62" fill="none" stroke="#0820c8" stroke-width="1.11" opacity="0.92"/>
<circle cx="79.0" cy="435.9" r="1.48" fill="#1aa0e8" opacity="0.67"/>
<circle cx="39.0" cy="431.7" r="1.47" fill="#0820c8" opacity="0.73"/>
<circle cx="87.4" cy="447.2" r="0.91" fill="#0614b0" opacity="0.61"/>
<circle cx="100.1" cy="407.9" r="1.53" fill="#1030f0" opacity="0.76"/>
<circle cx="23.8" cy="433.5" r="1.85" fill="#0a18e0" opacity="0.65"/>
<circle cx="107.8" cy="452.4" r="1.49" fill="#1030f0" opacity="0.67"/>
<circle cx="79.4" cy="381.2" r="1.45" fill="#20c8f0" opacity="0.80"/>
<circle cx="84.8" cy="416.1" r="0.84" fill="#0a18e0" opacity="0.74"/>
<circle cx="5.4" cy="419.5" r="1.68" fill="#0614b0" opacity="0.62"/>
<circle cx="80.0" cy="442.2" r="1.68" fill="#0614b0" opacity="0.81"/>
<circle cx="83.7" cy="412.6" r="1.52" fill="#0820c8" opacity="0.79"/>
<circle cx="93.0" cy="421.5" r="1.20" fill="#0820c8" opacity="0.69"/>
<circle cx="16.9" cy="420.4" r="1.15" fill="#0614b0" opacity="0.79"/>
<circle cx="56.1" cy="424.8" r="0.84" fill="#0614b0" opacity="0.79"/>
<circle cx="108.8" cy="389.0" r="0.92" fill="#2a78f0" opacity="0.76"/>
<circle cx="101.3" cy="439.3" r="1.32" fill="#20c8f0" opacity="0.61"/>
<circle cx="48.6" cy="440.4" r="1.95" fill="#1030f0" opacity="0.60"/>
<circle cx="4.8" cy="399.3" r="1.36" fill="none" stroke="#0a18e0" stroke-width="0.93" opacity="0.64"/>
<circle cx="40.1" cy="425.9" r="0.93" fill="#0a18e0" opacity="0.93"/>
<circle cx="69.1" cy="433.2" r="1.70" fill="#0a18e0" opacity="0.72"/>
<circle cx="23.7" cy="426.8" r="1.62" fill="#0820c8" opacity="0.65"/>
<circle cx="89.4" cy="446.9" r="1.20" fill="#1aa0e8" opacity="0.65"/>
<circle cx="109.7" cy="445.8" r="0.97" fill="#2a78f0" opacity="0.59"/>
<circle cx="103.5" cy="420.3" r="1.36" fill="none" stroke="#2a78f0" stroke-width="0.94" opacity="0.86"/>
<circle cx="23.4" cy="430.6" r="1.97" fill="#0a18e0" opacity="0.87"/>
<circle cx="38.8" cy="454.0" r="1.49" fill="none" stroke="#0614b0" stroke-width="1.03" opacity="0.60"/>
<circle cx="61.3" cy="418.1" r="1.22" fill="none" stroke="#1aa0e8" stroke-width="0.84" opacity="0.60"/>
<circle cx="18.7" cy="401.0" r="1.66" fill="#0820c8" opacity="0.98"/>
<circle cx="84.4" cy="404.2" r="1.40" fill="#0614b0" opacity="0.64"/>
<circle cx="6.0" cy="394.8" r="1.32" fill="#1030f0" opacity="0.73"/>
<circle cx="22.7" cy="392.2" r="1.46" fill="#1aa0e8" opacity="0.91"/>
<circle cx="77.9" cy="443.8" r="1.61" fill="#0820c8" opacity="0.78"/>
<circle cx="88.8" cy="399.1" r="1.97" fill="#0820c8" opacity="0.92"/>
<circle cx="98.7" cy="445.2" r="1.69" fill="#0820c8" opacity="0.73"/>
<circle cx="52.4" cy="380.8" r="1.26" fill="#0a18e0" opacity="0.65"/>
<circle cx="103.9" cy="429.4" r="1.23" fill="#0820c8" opacity="0.79"/>
<circle cx="43.8" cy="454.1" r="1.30" fill="none" stroke="#0614b0" stroke-width="0.89" opacity="0.99"/>
<circle cx="68.2" cy="434.7" r="1.13" fill="#0a18e0" opacity="0.89"/>
<circle cx="71.8" cy="380.8" r="1.13" fill="#20c8f0" opacity="0.80"/>
<circle cx="56.6" cy="451.7" r="1.22" fill="none" stroke="#0614b0" stroke-width="0.84" opacity="0.91"/>
<circle cx="66.3" cy="436.3" r="0.86" fill="#0820c8" opacity="0.72"/>
<circle cx="106.7" cy="443.4" r="1.49" fill="#0614b0" opacity="0.98"/>
<circle cx="47.2" cy="419.0" r="1.25" fill="none" stroke="#1030f0" stroke-width="0.86" opacity="0.77"/>
<circle cx="102.3" cy="429.2" r="1.76" fill="#1aa0e8" opacity="0.81"/>
<circle cx="7.3" cy="403.4" r="1.31" fill="#1030f0" opacity="0.58"/>
<circle cx="99.7" cy="411.8" r="1.41" fill="#0820c8" opacity="0.57"/>
<circle cx="12.3" cy="440.0" r="1.57" fill="none" stroke="#1aa0e8" stroke-width="1.08" opacity="0.82"/>
<circle cx="69.2" cy="413.8" r="1.06" fill="#2a78f0" opacity="0.62"/>
<circle cx="40.9" cy="390.4" r="1.33" fill="#0614b0" opacity="0.71"/>
<circle cx="82.2" cy="440.4" r="0.98" fill="#1aa0e8" opacity="0.66"/>
<circle cx="13.9" cy="446.1" r="1.80" fill="#1030f0" opacity="0.67"/>
<circle cx="80.1" cy="431.8" r="1.04" fill="#1aa0e8" opacity="0.64"/>
<circle cx="28.6" cy="452.6" r="1.58" fill="none" stroke="#0a18e0" stroke-width="1.08" opacity="0.83"/>
<circle cx="29.7" cy="382.0" r="0.85" fill="#20c8f0" opacity="0.58"/>
<circle cx="11.0" cy="430.1" r="1.50" fill="#1030f0" opacity="0.77"/>
<circle cx="39.9" cy="405.1" r="1.43" fill="#1aa0e8" opacity="0.91"/>
<circle cx="50.0" cy="440.9" r="1.50" fill="none" stroke="#0614b0" stroke-width="1.03" opacity="0.74"/>
<circle cx="89.3" cy="407.3" r="1.64" fill="#1030f0" opacity="0.68"/>
<circle cx="91.1" cy="393.6" r="1.31" fill="none" stroke="#0614b0" stroke-width="0.90" opacity="0.94"/>
<circle cx="10.6" cy="421.8" r="1.42" fill="#1030f0" opacity="0.92"/>
<circle cx="2.6" cy="403.0" r="1.97" fill="#1030f0" opacity="0.77"/>
<circle cx="25.3" cy="428.7" r="1.22" fill="#1030f0" opacity="0.87"/>
<circle cx="63.3" cy="448.1" r="2.00" fill="#0614b0" opacity="0.79"/>
<circle cx="51.2" cy="396.4" r="2.04" fill="#0820c8" opacity="0.59"/>
<circle cx="4.2" cy="430.2" r="1.55" fill="#1030f0" opacity="0.91"/>
<circle cx="92.2" cy="421.7" r="1.03" fill="#1030f0" opacity="0.92"/>
<circle cx="25.6" cy="384.3" r="1.00" fill="#1aa0e8" opacity="0.84"/>
<circle cx="88.7" cy="384.7" r="1.50" fill="#0a18e0" opacity="0.70"/>
<circle cx="31.2" cy="387.8" r="1.20" fill="#2a78f0" opacity="0.61"/>
<circle cx="82.4" cy="428.1" r="1.11" fill="#2a78f0" opacity="0.70"/>
<circle cx="51.3" cy="406.0" r="1.83" fill="#1aa0e8" opacity="0.77"/>
<circle cx="79.7" cy="432.5" r="1.97" fill="#1030f0" opacity="0.93"/>
<circle cx="91.9" cy="445.8" r="2.03" fill="#1030f0" opacity="0.87"/>
<circle cx="47.3" cy="411.2" r="0.99" fill="#0614b0" opacity="0.86"/>
<circle cx="36.4" cy="408.8" r="1.48" fill="#1aa0e8" opacity="0.76"/>
<circle cx="80.7" cy="402.5" r="1.00" fill="#0a18e0" opacity="0.89"/>
<circle cx="3.5" cy="415.6" r="1.46" fill="none" stroke="#1aa0e8" stroke-width="1.00" opacity="0.63"/>
<circle cx="27.1" cy="433.1" r="1.56" fill="#1aa0e8" opacity="0.95"/>
<circle cx="100.2" cy="449.5" r="1.60" fill="#0614b0" opacity="0.93"/>
<circle cx="45.2" cy="450.8" r="1.32" fill="none" stroke="#0a18e0" stroke-width="0.90" opacity="0.77"/>
<circle cx="7.0" cy="450.2" r="1.46" fill="none" stroke="#1030f0" stroke-width="1.00" opacity="0.90"/>
<circle cx="101.7" cy="446.1" r="1.92" fill="#0614b0" opacity="0.91"/>
<circle cx="67.2" cy="391.7" r="1.00" fill="#20c8f0" opacity="0.96"/>
<circle cx="89.3" cy="389.7" r="1.75" fill="#0a18e0" opacity="0.62"/>
<circle cx="1.7" cy="440.9" r="1.88" fill="#0a18e0" opacity="0.71"/>
<circle cx="58.8" cy="445.9" r="1.69" fill="#2a78f0" opacity="0.81"/>
<circle cx="34.5" cy="438.5" r="1.33" fill="#0a18e0" opacity="0.90"/>
<circle cx="49.3" cy="382.8" r="1.33" fill="#1030f0" opacity="0.69"/>
<circle cx="45.5" cy="421.2" r="2.08" fill="#0a18e0" opacity="0.71"/>
<circle cx="13.1" cy="409.2" r="1.39" fill="#0a18e0" opacity="0.84"/>
<circle cx="2.9" cy="407.9" r="1.71" fill="#2a78f0" opacity="0.60"/>
<circle cx="79.5" cy="446.8" r="0.99" fill="#1030f0" opacity="0.98"/>
<circle cx="83.4" cy="421.2" r="0.91" fill="#20c8f0" opacity="0.88"/>
<circle cx="37.3" cy="450.0" r="1.22" fill="none" stroke="#1030f0" stroke-width="0.84" opacity="0.75"/>
<circle cx="12.6" cy="426.1" r="0.97" fill="#0820c8" opacity="0.63"/>
<circle cx="45.2" cy="442.0" r="1.56" fill="#1aa0e8" opacity="0.56"/>
<circle cx="102.0" cy="390.3" r="1.06" fill="#2a78f0" opacity="0.72"/>
<circle cx="37.5" cy="410.5" r="0.82" fill="#1030f0" opacity="0.99"/>
<circle cx="87.1" cy="428.9" r="1.26" fill="none" stroke="#20c8f0" stroke-width="0.87" opacity="0.63"/>
<circle cx="49.4" cy="421.3" r="1.06" fill="#20c8f0" opacity="0.92"/>
<circle cx="67.8" cy="391.7" r="1.78" fill="#0820c8" opacity="0.71"/>
<circle cx="17.0" cy="432.9" r="1.65" fill="none" stroke="#0820c8" stroke-width="1.13" opacity="0.81"/>
<circle cx="73.0" cy="437.5" r="0.97" fill="#0614b0" opacity="0.86"/>
<circle cx="15.0" cy="452.1" r="0.97" fill="#0a18e0" opacity="0.80"/>
<circle cx="30.2" cy="447.4" r="2.07" fill="#0820c8" opacity="0.61"/>
<circle cx="27.7" cy="422.5" r="1.86" fill="#2a78f0" opacity="0.92"/>
<circle cx="102.3" cy="454.0" r="0.98" fill="#0614b0" opacity="0.83"/>
<circle cx="70.9" cy="436.6" r="1.00" fill="#0a18e0" opacity="0.61"/>
<circle cx="43.4" cy="422.2" r="1.02" fill="#1030f0" opacity="0.66"/>
<circle cx="102.5" cy="384.0" r="1.80" fill="#0820c8" opacity="0.73"/>
<circle cx="98.7" cy="447.7" r="1.52" fill="#1030f0" opacity="0.77"/>
<circle cx="62.9" cy="447.1" r="1.47" fill="#0614b0" opacity="0.74"/>
<circle cx="4.2" cy="447.2" r="1.18" fill="#0614b0" opacity="0.88"/>
<circle cx="66.3" cy="435.7" r="1.19" fill="#0a18e0" opacity="0.66"/>
<circle cx="93.0" cy="398.0" r="1.92" fill="#0614b0" opacity="0.86"/>
<circle cx="27.5" cy="402.7" r="1.31" fill="#1aa0e8" opacity="1.00"/>
<circle cx="80.7" cy="444.6" r="1.27" fill="#0820c8" opacity="0.65"/>
<circle cx="82.5" cy="422.0" r="1.96" fill="#1aa0e8" opacity="0.61"/>
<circle cx="104.6" cy="380.0" r="1.11" fill="#20c8f0" opacity="0.63"/>
<circle cx="49.3" cy="413.3" r="1.48" fill="#2a78f0" opacity="0.81"/>
<circle cx="6.6" cy="382.3" r="1.95" fill="#20c8f0" opacity="0.61"/>
<circle cx="85.7" cy="445.1" r="1.06" fill="#0a18e0" opacity="0.64"/>
<circle cx="92.3" cy="406.2" r="1.40" fill="#2a78f0" opacity="1.00"/>
<circle cx="23.5" cy="426.9" r="1.05" fill="#0a18e0" opacity="0.84"/>
<circle cx="105.7" cy="400.3" r="1.34" fill="#1030f0" opacity="0.86"/>
<circle cx="103.2" cy="413.0" r="0.90" fill="#20c8f0" opacity="0.60"/>
<circle cx="76.5" cy="399.9" r="1.38" fill="none" stroke="#1030f0" stroke-width="0.95" opacity="0.91"/>
<circle cx="73.3" cy="445.5" r="1.24" fill="none" stroke="#20c8f0" stroke-width="0.86" opacity="0.95"/>
<circle cx="26.1" cy="389.8" r="1.65" fill="#0a18e0" opacity="0.75"/>
<circle cx="59.1" cy="383.4" r="1.57" fill="#20c8f0" opacity="0.74"/>
<circle cx="19.4" cy="453.2" r="1.04" fill="#2a78f0" opacity="0.80"/>
<circle cx="21.8" cy="446.5" r="2.06" fill="#20c8f0" opacity="0.96"/>
<circle cx="1.9" cy="446.1" r="0.88" fill="#2a78f0" opacity="0.96"/>
<circle cx="36.3" cy="415.8" r="0.84" fill="#2a78f0" opacity="0.86"/>
<circle cx="58.0" cy="450.5" r="1.02" fill="#0820c8" opacity="0.60"/>
<circle cx="60.9" cy="399.0" r="1.37" fill="none" stroke="#1030f0" stroke-width="0.94" opacity="0.77"/>
<circle cx="64.4" cy="417.0" r="0.85" fill="#0a18e0" opacity="0.81"/>
<circle cx="96.1" cy="393.3" r="0.99" fill="#20c8f0" opacity="0.91"/>
<circle cx="56.2" cy="433.6" r="1.90" fill="#1aa0e8" opacity="0.96"/>
<circle cx="60.4" cy="438.7" r="1.10" fill="#20c8f0" opacity="0.74"/>
<circle cx="76.9" cy="440.7" r="1.75" fill="#0614b0" opacity="0.59"/>
<circle cx="20.2" cy="398.9" r="1.00" fill="#0614b0" opacity="0.58"/>
<circle cx="46.1" cy="407.0" r="1.08" fill="#0a18e0" opacity="0.61"/>
<circle cx="83.4" cy="424.5" r="0.97" fill="#0a18e0" opacity="0.55"/>
<circle cx="46.0" cy="418.9" r="0.92" fill="#0614b0" opacity="0.74"/>
<circle cx="9.9" cy="382.5" r="1.66" fill="none" stroke="#0820c8" stroke-width="1.14" opacity="0.68"/>
<circle cx="94.2" cy="411.0" r="0.91" fill="#20c8f0" opacity="0.70"/>
<circle cx="107.9" cy="425.3" r="0.85" fill="#0a18e0" opacity="0.88"/>
<circle cx="63.0" cy="447.6" r="1.55" fill="none" stroke="#0820c8" stroke-width="1.06" opacity="0.76"/>
<circle cx="92.9" cy="408.2" r="1.80" fill="#20c8f0" opacity="0.66"/>
<circle cx="88.7" cy="415.6" r="1.31" fill="#1030f0" opacity="0.76"/>
<circle cx="21.3" cy="416.1" r="1.49" fill="#0a18e0" opacity="0.86"/>
<circle cx="40.9" cy="400.3" r="0.82" fill="#20c8f0" opacity="0.78"/>
<circle cx="25.2" cy="387.7" r="0.87" fill="#1030f0" opacity="0.61"/>
<circle cx="27.7" cy="442.2" r="0.95" fill="#0614b0" opacity="0.75"/>
<circle cx="94.1" cy="408.3" r="1.13" fill="#0a18e0" opacity="0.69"/>
<circle cx="67.4" cy="416.2" r="1.04" fill="#0820c8" opacity="0.56"/>
<circle cx="35.4" cy="411.4" r="1.50" fill="#2a78f0" opacity="0.80"/>
<circle cx="35.6" cy="413.5" r="1.28" fill="#1030f0" opacity="0.79"/>
<circle cx="50.3" cy="390.1" r="1.46" fill="#0a18e0" opacity="0.68"/>
<circle cx="6.0" cy="381.8" r="1.29" fill="none" stroke="#1030f0" stroke-width="0.88" opacity="0.85"/>
<circle cx="94.0" cy="421.4" r="1.25" fill="#20c8f0" opacity="0.66"/>
<circle cx="70.1" cy="386.7" r="1.35" fill="#0a18e0" opacity="0.77"/>
<circle cx="102.4" cy="401.1" r="1.70" fill="#20c8f0" opacity="0.64"/>
<circle cx="39.6" cy="432.8" r="1.47" fill="#0614b0" opacity="0.91"/>
<circle cx="53.4" cy="399.0" r="1.51" fill="none" stroke="#1aa0e8" stroke-width="1.04" opacity="0.96"/>
<circle cx="100.1" cy="447.6" r="1.15" fill="#1030f0" opacity="0.76"/>
<circle cx="4.1" cy="405.7" r="1.94" fill="#1030f0" opacity="0.92"/>
<circle cx="71.2" cy="408.5" r="1.24" fill="#0a18e0" opacity="0.81"/>
<circle cx="103.7" cy="437.2" r="1.28" fill="none" stroke="#0614b0" stroke-width="0.88" opacity="0.83"/>
<circle cx="9.0" cy="414.4" r="1.38" fill="#0614b0" opacity="0.57"/>
<circle cx="16.3" cy="417.6" r="1.20" fill="#0a18e0" opacity="0.62"/>
<circle cx="22.4" cy="396.9" r="1.67" fill="#1aa0e8" opacity="0.97"/>
<circle cx="2.0" cy="420.5" r="1.89" fill="#0a18e0" opacity="0.83"/>
<circle cx="91.6" cy="451.8" r="1.23" fill="#0a18e0" opacity="0.69"/>
<circle cx="79.1" cy="431.5" r="1.68" fill="#0820c8" opacity="0.62"/>
<circle cx="54.7" cy="421.8" r="1.27" fill="#2a78f0" opacity="0.85"/>
<circle cx="101.0" cy="434.7" r="1.54" fill="none" stroke="#0a18e0" stroke-width="1.06" opacity="0.95"/>
<circle cx="93.5" cy="418.0" r="1.67" fill="#2a78f0" opacity="0.94"/>
<circle cx="7.4" cy="398.8" r="1.45" fill="#0614b0" opacity="0.66"/>
<circle cx="70.3" cy="407.2" r="1.67" fill="#1aa0e8" opacity="0.93"/>
<circle cx="63.1" cy="411.2" r="1.36" fill="none" stroke="#1030f0" stroke-width="0.94" opacity="0.91"/>
<circle cx="26.6" cy="393.7" r="0.82" fill="#0820c8" opacity="0.67"/>
<circle cx="75.2" cy="390.3" r="1.00" fill="#0a18e0" opacity="0.64"/>
<circle cx="40.2" cy="419.9" r="1.83" fill="#0a18e0" opacity="0.92"/>
<circle cx="20.1" cy="385.0" r="1.36" fill="#1030f0" opacity="0.65"/>
<circle cx="17.0" cy="422.7" r="1.33" fill="none" stroke="#20c8f0" stroke-width="0.92" opacity="0.91"/>
<circle cx="20.6" cy="387.9" r="1.60" fill="none" stroke="#20c8f0" stroke-width="1.10" opacity="0.74"/>
<circle cx="97.4" cy="400.0" r="0.73" fill="#20c030" opacity="0.64"/>
<circle cx="44.9" cy="403.9" r="0.49" fill="#20c030" opacity="0.60"/>
<circle cx="18.0" cy="380.5" r="0.83" fill="#20c030" opacity="0.84"/>
<circle cx="2.0" cy="404.9" r="0.52" fill="#20c030" opacity="0.89"/>
<circle cx="109.0" cy="410.3" r="0.47" fill="#20c030" opacity="0.68"/>
<circle cx="24.9" cy="425.7" r="0.86" fill="#20c030" opacity="0.63"/>
<circle cx="22.0" cy="401.5" r="0.57" fill="#20c030" opacity="0.90"/>
<circle cx="63.5" cy="449.7" r="0.47" fill="#20c030" opacity="0.93"/>
<circle cx="103.9" cy="419.9" r="0.79" fill="#20c030" opacity="0.64"/>
<circle cx="4.2" cy="421.2" r="0.48" fill="#20c030" opacity="0.73"/>
<circle cx="97.6" cy="384.7" r="0.63" fill="#20c030" opacity="0.88"/>
<circle cx="101.7" cy="416.7" r="0.60" fill="#20c030" opacity="0.77"/>
<circle cx="73.7" cy="439.5" r="0.83" fill="#20c030" opacity="0.97"/>
<circle cx="53.8" cy="442.2" r="0.65" fill="#20c030" opacity="0.95"/>
<circle cx="69.1" cy="380.7" r="0.52" fill="#20c030" opacity="0.66"/>
<circle cx="80.0" cy="417.5" r="0.59" fill="#20c030" opacity="1.00"/>
<circle cx="69.5" cy="413.3" r="0.61" fill="#20c030" opacity="0.53"/>
<circle cx="21.1" cy="383.5" r="0.52" fill="#20c030" opacity="0.65"/>
<circle cx="23.9" cy="405.7" r="0.53" fill="#20c030" opacity="0.69"/>
<circle cx="21.3" cy="381.6" r="0.65" fill="#20c030" opacity="0.53"/>
<circle cx="11.9" cy="450.4" r="0.87" fill="#20c030" opacity="0.88"/>
<circle cx="3.9" cy="392.9" r="0.48" fill="#20c030" opacity="0.79"/>
<circle cx="64.3" cy="403.8" r="0.69" fill="#20c030" opacity="0.97"/>
<circle cx="55.7" cy="437.8" r="0.89" fill="#20c030" opacity="0.91"/>
<circle cx="9.2" cy="408.9" r="0.91" fill="#20c030" opacity="0.94"/>
<circle cx="85.8" cy="418.9" r="0.46" fill="#20c030" opacity="0.87"/>
<circle cx="73.3" cy="447.5" r="0.48" fill="#20c030" opacity="0.81"/>
<circle cx="106.6" cy="448.5" r="0.51" fill="#20c030" opacity="0.87"/>
<circle cx="82.2" cy="412.3" r="0.68" fill="#20c030" opacity="0.92"/>
<circle cx="55.9" cy="407.8" r="0.72" fill="#20c030" opacity="0.52"/>
<circle cx="101.2" cy="419.1" r="0.68" fill="#20c030" opacity="0.64"/>
<circle cx="6.6" cy="384.0" r="0.61" fill="#20c030" opacity="0.77"/>
<circle cx="69.1" cy="394.0" r="0.68" fill="#20c030" opacity="0.78"/>
<circle cx="7.3" cy="451.7" r="0.83" fill="#20c030" opacity="0.95"/>
<circle cx="13.6" cy="393.9" r="0.91" fill="#20c030" opacity="0.89"/>
<circle cx="17.0" cy="388.5" r="0.50" fill="#20c030" opacity="0.63"/>
<circle cx="5.7" cy="405.4" r="0.71" fill="#20c030" opacity="0.67"/>
<circle cx="24.1" cy="381.1" r="0.66" fill="#20c030" opacity="0.74"/>
<circle cx="105.8" cy="397.7" r="0.50" fill="#e01020" opacity="0.72"/>
<circle cx="83.6" cy="445.0" r="0.49" fill="#e01020" opacity="0.75"/>
<circle cx="7.7" cy="444.5" r="0.94" fill="#e01020" opacity="0.53"/>
<circle cx="103.6" cy="440.1" r="0.54" fill="#e01020" opacity="0.67"/>
<circle cx="102.2" cy="450.8" r="0.56" fill="#e01020" opacity="0.64"/>
<circle cx="5.0" cy="430.5" r="0.68" fill="#e01020" opacity="0.74"/>
<circle cx="11.2" cy="428.1" r="0.72" fill="#e01020" opacity="0.66"/>
<circle cx="105.2" cy="451.9" r="0.73" fill="#e01020" opacity="1.00"/>
<circle cx="42.6" cy="440.5" r="0.80" fill="#e01020" opacity="0.92"/>
<circle cx="104.0" cy="428.8" r="0.55" fill="#e01020" opacity="0.60"/>
<circle cx="84.6" cy="392.7" r="0.74" fill="#e01020" opacity="0.52"/>
<circle cx="38.9" cy="426.2" r="0.60" fill="#e01020" opacity="0.50"/>
<circle cx="9.1" cy="395.2" r="0.81" fill="#e01020" opacity="0.94"/>
<circle cx="85.0" cy="394.8" r="0.49" fill="#e01020" opacity="0.63"/>
<circle cx="31.8" cy="389.9" r="0.51" fill="#e01020" opacity="0.55"/>
<circle cx="57.2" cy="411.0" r="0.70" fill="#e01020" opacity="0.56"/>
<circle cx="14.9" cy="445.0" r="0.93" fill="#e01020" opacity="0.54"/>
<circle cx="71.8" cy="396.7" r="0.69" fill="#e01020" opacity="0.60"/>
<circle cx="46.4" cy="396.3" r="0.77" fill="#e01020" opacity="0.68"/>
<circle cx="37.7" cy="423.3" r="0.78" fill="#e01020" opacity="0.63"/>
<circle cx="73.3" cy="380.9" r="0.76" fill="#e01020" opacity="0.51"/>
<circle cx="42.2" cy="424.0" r="0.88" fill="#e01020" opacity="0.69"/>
<ellipse cx="43" cy="414" rx="5.5" ry="6" fill="none" stroke="#f02020" stroke-width="1.3"/>
<ellipse cx="44" cy="415" rx="5" ry="5.5" fill="none" stroke="#f0c020" stroke-width="0.8" stroke-dasharray="4 9"/>
<ellipse cx="62" cy="392" rx="4.5" ry="4.5" fill="none" stroke="#f01830" stroke-width="1.6"/>
<ellipse cx="63" cy="390" rx="2.5" ry="2" fill="none" stroke="#e8e030" stroke-width="1.2" stroke-dasharray="3 5"/>
<ellipse cx="37" cy="444" rx="7" ry="7.5" fill="none" stroke="#d01818" stroke-width="0.9" stroke-dasharray="9 5"/>
<ellipse cx="37" cy="444" rx="7.5" ry="8" fill="none" stroke="#20b030" stroke-width="0.7" stroke-dasharray="5 12"/>
<ellipse cx="82" cy="430" rx="4" ry="3.5" fill="none" stroke="#e02030" stroke-width="1.0" stroke-dasharray="6 4"/>
<ellipse cx="84" cy="432" rx="3" ry="2.5" fill="none" stroke="#20d0f0" stroke-width="1.0" stroke-dasharray="4 5"/>
<ellipse cx="54" cy="407" rx="5" ry="5" fill="none" stroke="#20b030" stroke-width="0.7" stroke-dasharray="3 4"/>
<ellipse cx="60" cy="415" rx="3" ry="3" fill="none" stroke="#20c8f0" stroke-width="1.0" stroke-dasharray="3 3"/>
<ellipse cx="27" cy="408" rx="2.2" ry="2.2" fill="none" stroke="#20a8f0" stroke-width="1.0"/>
<ellipse cx="90" cy="402" rx="2" ry="2" fill="none" stroke="#2088f0" stroke-width="1.0"/>
<ellipse cx="47.8" cy="430.5" rx="9" ry="9" fill="none" stroke="#20b038" stroke-width="0.8" stroke-dasharray="3 2.5"/>
<ellipse cx="65.5" cy="424.6" rx="8" ry="8" fill="none" stroke="#20b038" stroke-width="0.7" stroke-dasharray="2.5 3"/>
<ellipse cx="62" cy="392" rx="2.2" ry="2.2" fill="none" stroke="#f03050" stroke-width="2.2"/>
<ellipse cx="70" cy="407" rx="6" ry="5" fill="none" stroke="#20b8a0" stroke-width="0.7" stroke-dasharray="2 3"/>
<ellipse cx="84" cy="431" rx="2.5" ry="2" fill="none" stroke="#30d8f0" stroke-width="1.6" stroke-dasharray="2 2"/>
<ellipse cx="96" cy="424" rx="2.5" ry="2.5" fill="none" stroke="#20b038" stroke-width="0.9" stroke-dasharray="1.5 1.5"/>
</g>
<clipPath id="cl12"><rect x="113.2" y="380" width="108.60000000000001" height="74.10000000000002"/></clipPath>
<g clip-path="url(#cl12)" filter="url(#bl)">
<circle cx="164.7" cy="428.7" r="1.70" fill="#0a18e0" opacity="1.00"/>
<circle cx="183.1" cy="414.1" r="1.57" fill="none" stroke="#0a18e0" stroke-width="1.08" opacity="0.85"/>
<circle cx="161.0" cy="392.0" r="2.02" fill="#1aa0e8" opacity="0.58"/>
<circle cx="149.8" cy="410.0" r="1.94" fill="#1aa0e8" opacity="0.92"/>
<circle cx="137.4" cy="453.3" r="1.38" fill="#0614b0" opacity="0.99"/>
<circle cx="171.8" cy="445.4" r="1.56" fill="#0a18e0" opacity="0.80"/>
<circle cx="168.3" cy="386.2" r="1.30" fill="none" stroke="#0614b0" stroke-width="0.89" opacity="0.76"/>
<circle cx="116.5" cy="433.8" r="1.68" fill="none" stroke="#1030f0" stroke-width="1.16" opacity="0.71"/>
<circle cx="188.1" cy="429.9" r="0.98" fill="#1030f0" opacity="0.72"/>
<circle cx="175.5" cy="436.7" r="1.06" fill="#0614b0" opacity="0.56"/>
<circle cx="116.0" cy="430.1" r="0.88" fill="#0a18e0" opacity="0.89"/>
<circle cx="137.2" cy="385.8" r="1.19" fill="#0614b0" opacity="0.70"/>
<circle cx="182.4" cy="383.9" r="1.43" fill="#1030f0" opacity="0.76"/>
<circle cx="188.9" cy="443.4" r="1.14" fill="#0614b0" opacity="0.97"/>
<circle cx="152.8" cy="394.0" r="1.81" fill="#0a18e0" opacity="0.98"/>
<circle cx="200.2" cy="393.3" r="1.87" fill="#0820c8" opacity="0.83"/>
<circle cx="221.6" cy="417.3" r="0.86" fill="#1030f0" opacity="0.84"/>
<circle cx="138.1" cy="419.1" r="1.46" fill="#1030f0" opacity="0.86"/>
<circle cx="161.5" cy="434.7" r="1.42" fill="#0a18e0" opacity="0.68"/>
<circle cx="215.7" cy="418.2" r="1.74" fill="#0820c8" opacity="0.88"/>
<circle cx="116.3" cy="380.3" r="0.86" fill="#1030f0" opacity="0.74"/>
<circle cx="139.4" cy="412.3" r="2.12" fill="#1030f0" opacity="0.89"/>
<circle cx="177.1" cy="446.8" r="1.87" fill="#1030f0" opacity="0.99"/>
<circle cx="155.0" cy="391.9" r="1.73" fill="#0a18e0" opacity="0.91"/>
<circle cx="212.1" cy="419.6" r="1.49" fill="none" stroke="#0a18e0" stroke-width="1.03" opacity="0.87"/>
<circle cx="142.6" cy="438.8" r="1.73" fill="#0a18e0" opacity="0.65"/>
<circle cx="121.0" cy="406.4" r="0.93" fill="#0a18e0" opacity="0.87"/>
<circle cx="186.9" cy="427.2" r="1.40" fill="#0820c8" opacity="0.77"/>
<circle cx="161.4" cy="393.3" r="1.36" fill="none" stroke="#0820c8" stroke-width="0.94" opacity="0.95"/>
<circle cx="137.6" cy="451.4" r="1.31" fill="#0614b0" opacity="0.68"/>
<circle cx="169.3" cy="390.9" r="2.02" fill="#0614b0" opacity="0.72"/>
<circle cx="198.5" cy="383.6" r="1.84" fill="#0614b0" opacity="0.78"/>
<circle cx="118.9" cy="387.9" r="1.58" fill="#0a18e0" opacity="0.70"/>
<circle cx="152.4" cy="402.8" r="1.00" fill="#0820c8" opacity="0.66"/>
<circle cx="118.2" cy="439.5" r="1.20" fill="#1030f0" opacity="0.73"/>
<circle cx="208.0" cy="446.5" r="1.25" fill="#0a18e0" opacity="0.93"/>
<circle cx="179.3" cy="438.1" r="1.37" fill="#1030f0" opacity="0.70"/>
<circle cx="215.3" cy="440.4" r="1.07" fill="#1030f0" opacity="0.60"/>
<circle cx="142.3" cy="445.8" r="1.97" fill="#1030f0" opacity="0.99"/>
<circle cx="196.9" cy="443.6" r="1.24" fill="#0a18e0" opacity="0.80"/>
<circle cx="117.8" cy="440.0" r="1.08" fill="#1030f0" opacity="0.97"/>
<circle cx="219.8" cy="437.3" r="1.55" fill="#1aa0e8" opacity="0.71"/>
<circle cx="167.3" cy="394.8" r="0.95" fill="#1aa0e8" opacity="0.91"/>
<circle cx="168.1" cy="427.1" r="1.44" fill="#0614b0" opacity="0.93"/>
<circle cx="210.2" cy="382.1" r="1.94" fill="#1aa0e8" opacity="0.77"/>
<circle cx="188.2" cy="450.9" r="1.38" fill="none" stroke="#0614b0" stroke-width="0.95" opacity="0.98"/>
<circle cx="121.0" cy="447.9" r="1.28" fill="#0614b0" opacity="0.59"/>
<circle cx="119.3" cy="380.6" r="1.15" fill="#2a78f0" opacity="0.80"/>
<circle cx="213.5" cy="433.8" r="1.68" fill="#0a18e0" opacity="0.82"/>
<circle cx="163.3" cy="405.0" r="1.68" fill="#0820c8" opacity="0.73"/>
<circle cx="149.8" cy="384.4" r="1.50" fill="none" stroke="#1030f0" stroke-width="1.03" opacity="0.61"/>
<circle cx="165.9" cy="390.1" r="1.19" fill="#0a18e0" opacity="0.77"/>
<circle cx="192.6" cy="441.2" r="1.82" fill="#0614b0" opacity="0.89"/>
<circle cx="201.3" cy="405.4" r="1.60" fill="none" stroke="#1030f0" stroke-width="1.10" opacity="0.58"/>
<circle cx="142.1" cy="421.8" r="1.55" fill="none" stroke="#0614b0" stroke-width="1.06" opacity="0.89"/>
<circle cx="158.6" cy="387.6" r="1.44" fill="none" stroke="#0820c8" stroke-width="0.99" opacity="0.71"/>
<circle cx="180.6" cy="400.5" r="1.27" fill="#1030f0" opacity="0.97"/>
<circle cx="178.2" cy="385.3" r="1.65" fill="#1030f0" opacity="0.83"/>
<circle cx="206.4" cy="390.5" r="1.27" fill="#0614b0" opacity="0.57"/>
<circle cx="148.9" cy="419.8" r="1.93" fill="#1030f0" opacity="0.62"/>
<circle cx="123.0" cy="403.0" r="1.50" fill="none" stroke="#0a18e0" stroke-width="1.03" opacity="0.93"/>
<circle cx="134.5" cy="427.3" r="1.33" fill="none" stroke="#0614b0" stroke-width="0.92" opacity="0.88"/>
<circle cx="127.6" cy="415.8" r="1.41" fill="#1030f0" opacity="0.87"/>
<circle cx="194.8" cy="397.7" r="1.52" fill="#1030f0" opacity="0.71"/>
<circle cx="146.5" cy="381.8" r="1.60" fill="none" stroke="#0614b0" stroke-width="1.10" opacity="0.85"/>
<circle cx="165.4" cy="431.1" r="1.51" fill="#0820c8" opacity="0.67"/>
<circle cx="158.1" cy="383.8" r="0.89" fill="#20c8f0" opacity="0.66"/>
<circle cx="136.1" cy="437.7" r="1.55" fill="#1030f0" opacity="0.82"/>
<circle cx="214.5" cy="390.8" r="1.13" fill="#1030f0" opacity="0.97"/>
<circle cx="170.6" cy="407.2" r="1.07" fill="#0a18e0" opacity="0.91"/>
<circle cx="141.5" cy="419.5" r="2.02" fill="#2a78f0" opacity="0.78"/>
<circle cx="174.9" cy="442.7" r="0.90" fill="#0614b0" opacity="0.72"/>
<circle cx="204.6" cy="386.3" r="1.55" fill="#0614b0" opacity="0.80"/>
<circle cx="204.7" cy="446.4" r="1.55" fill="#1030f0" opacity="0.74"/>
<circle cx="128.5" cy="404.9" r="0.92" fill="#1030f0" opacity="1.00"/>
<circle cx="137.1" cy="410.2" r="1.88" fill="#0a18e0" opacity="0.90"/>
<circle cx="207.6" cy="428.2" r="1.30" fill="#0a18e0" opacity="0.84"/>
<circle cx="202.8" cy="388.5" r="1.89" fill="#1aa0e8" opacity="0.61"/>
<circle cx="171.1" cy="393.1" r="1.53" fill="none" stroke="#0820c8" stroke-width="1.05" opacity="0.92"/>
<circle cx="128.9" cy="413.9" r="1.43" fill="#0820c8" opacity="0.92"/>
<circle cx="194.7" cy="401.1" r="1.82" fill="#0820c8" opacity="0.98"/>
<circle cx="151.8" cy="401.7" r="1.63" fill="#1030f0" opacity="0.70"/>
<circle cx="171.7" cy="419.3" r="2.13" fill="#1030f0" opacity="0.83"/>
<circle cx="212.9" cy="397.7" r="1.54" fill="#0820c8" opacity="0.95"/>
<circle cx="122.7" cy="451.0" r="1.63" fill="#1030f0" opacity="1.00"/>
<circle cx="160.7" cy="447.5" r="1.24" fill="#20c8f0" opacity="0.85"/>
<circle cx="165.3" cy="395.1" r="1.11" fill="#1aa0e8" opacity="0.85"/>
<circle cx="166.8" cy="439.9" r="1.04" fill="#0614b0" opacity="0.79"/>
<circle cx="155.5" cy="404.9" r="1.08" fill="#0820c8" opacity="0.82"/>
<circle cx="131.5" cy="414.9" r="1.42" fill="#0820c8" opacity="0.84"/>
<circle cx="136.4" cy="399.0" r="0.92" fill="#0614b0" opacity="0.78"/>
<circle cx="160.3" cy="409.0" r="1.09" fill="#0820c8" opacity="0.84"/>
<circle cx="128.8" cy="420.1" r="1.05" fill="#0820c8" opacity="0.57"/>
<circle cx="164.4" cy="443.1" r="1.80" fill="#0a18e0" opacity="0.94"/>
<circle cx="221.2" cy="421.6" r="1.13" fill="#0614b0" opacity="0.91"/>
<circle cx="218.6" cy="446.2" r="1.51" fill="#1030f0" opacity="0.66"/>
<circle cx="155.9" cy="420.6" r="1.63" fill="none" stroke="#0a18e0" stroke-width="1.12" opacity="0.74"/>
<circle cx="203.5" cy="389.3" r="1.09" fill="#0820c8" opacity="0.85"/>
<circle cx="186.2" cy="381.4" r="0.99" fill="#0614b0" opacity="0.68"/>
<circle cx="135.7" cy="412.5" r="2.04" fill="#0a18e0" opacity="0.78"/>
<circle cx="120.7" cy="392.1" r="1.36" fill="#0a18e0" opacity="0.62"/>
<circle cx="121.9" cy="399.7" r="2.00" fill="#1030f0" opacity="0.60"/>
<circle cx="131.6" cy="424.1" r="1.81" fill="#0614b0" opacity="0.92"/>
<circle cx="153.6" cy="400.8" r="1.30" fill="#20c8f0" opacity="0.67"/>
<circle cx="188.8" cy="445.6" r="1.16" fill="#0614b0" opacity="0.70"/>
<circle cx="126.2" cy="409.7" r="1.03" fill="#0614b0" opacity="0.86"/>
<circle cx="206.9" cy="447.9" r="1.34" fill="#0614b0" opacity="0.86"/>
<circle cx="123.3" cy="445.8" r="1.03" fill="#0614b0" opacity="0.69"/>
<circle cx="145.6" cy="433.9" r="0.89" fill="#1030f0" opacity="0.77"/>
<circle cx="174.1" cy="436.1" r="1.69" fill="none" stroke="#0a18e0" stroke-width="1.16" opacity="0.74"/>
<circle cx="148.9" cy="408.3" r="1.25" fill="#0a18e0" opacity="0.69"/>
<circle cx="150.5" cy="388.0" r="1.38" fill="#0a18e0" opacity="0.74"/>
<circle cx="135.6" cy="437.9" r="1.70" fill="none" stroke="#0a18e0" stroke-width="1.17" opacity="0.88"/>
<circle cx="125.0" cy="452.9" r="1.38" fill="none" stroke="#0820c8" stroke-width="0.95" opacity="0.56"/>
<circle cx="206.2" cy="407.2" r="1.05" fill="#0a18e0" opacity="0.59"/>
<circle cx="122.0" cy="435.6" r="1.29" fill="#0820c8" opacity="0.83"/>
<circle cx="191.4" cy="405.0" r="0.96" fill="#1030f0" opacity="0.75"/>
<circle cx="125.5" cy="384.6" r="1.45" fill="#2a78f0" opacity="0.66"/>
<circle cx="147.6" cy="381.0" r="1.24" fill="#0614b0" opacity="0.94"/>
<circle cx="148.8" cy="389.2" r="1.47" fill="#0a18e0" opacity="0.99"/>
<circle cx="119.7" cy="446.2" r="2.10" fill="#1030f0" opacity="0.84"/>
<circle cx="205.9" cy="422.9" r="1.55" fill="#0820c8" opacity="0.81"/>
<circle cx="215.3" cy="437.3" r="1.26" fill="#0820c8" opacity="0.91"/>
<circle cx="143.7" cy="424.1" r="1.48" fill="none" stroke="#0820c8" stroke-width="1.02" opacity="0.92"/>
<circle cx="166.7" cy="440.2" r="1.34" fill="none" stroke="#0614b0" stroke-width="0.92" opacity="0.85"/>
<circle cx="212.0" cy="446.1" r="2.02" fill="#1030f0" opacity="0.86"/>
<circle cx="220.1" cy="381.6" r="1.64" fill="none" stroke="#1aa0e8" stroke-width="1.13" opacity="0.90"/>
<circle cx="162.3" cy="426.5" r="1.43" fill="#0a18e0" opacity="0.60"/>
<circle cx="185.1" cy="418.7" r="0.98" fill="#0a18e0" opacity="0.62"/>
<circle cx="134.5" cy="446.4" r="0.91" fill="#0a18e0" opacity="0.74"/>
<circle cx="160.7" cy="449.9" r="1.31" fill="none" stroke="#0614b0" stroke-width="0.90" opacity="0.57"/>
<circle cx="134.9" cy="409.6" r="1.18" fill="#1030f0" opacity="0.72"/>
<circle cx="133.6" cy="409.0" r="1.25" fill="#1aa0e8" opacity="0.64"/>
<circle cx="166.3" cy="413.7" r="1.85" fill="#0820c8" opacity="0.83"/>
<circle cx="123.2" cy="422.5" r="1.40" fill="#0614b0" opacity="0.72"/>
<circle cx="168.0" cy="424.4" r="1.55" fill="#0614b0" opacity="0.58"/>
<circle cx="137.3" cy="399.7" r="1.46" fill="#20c8f0" opacity="0.68"/>
<circle cx="135.5" cy="431.1" r="1.38" fill="#0820c8" opacity="0.59"/>
<circle cx="218.6" cy="443.4" r="1.50" fill="#1030f0" opacity="0.65"/>
<circle cx="117.9" cy="425.8" r="1.54" fill="none" stroke="#0614b0" stroke-width="1.06" opacity="0.57"/>
<circle cx="182.0" cy="380.8" r="1.19" fill="#0614b0" opacity="0.63"/>
<circle cx="174.4" cy="439.3" r="2.12" fill="#20c8f0" opacity="0.71"/>
<circle cx="212.7" cy="396.5" r="1.64" fill="none" stroke="#1030f0" stroke-width="1.13" opacity="0.60"/>
<circle cx="156.2" cy="402.3" r="1.77" fill="#0820c8" opacity="0.58"/>
<circle cx="120.4" cy="394.0" r="1.01" fill="#0614b0" opacity="0.61"/>
<circle cx="205.7" cy="388.2" r="1.59" fill="#1030f0" opacity="0.75"/>
<circle cx="128.6" cy="398.2" r="2.10" fill="#0614b0" opacity="0.63"/>
<circle cx="205.7" cy="424.6" r="2.01" fill="#1030f0" opacity="0.96"/>
<circle cx="166.9" cy="400.0" r="1.58" fill="none" stroke="#0820c8" stroke-width="1.09" opacity="0.78"/>
<circle cx="179.1" cy="404.0" r="0.84" fill="#0a18e0" opacity="0.76"/>
<circle cx="221.7" cy="392.9" r="0.69" fill="#20c030" opacity="0.81"/>
<circle cx="184.2" cy="453.0" r="0.51" fill="#20c030" opacity="0.77"/>
<circle cx="128.2" cy="417.4" r="0.81" fill="#20c030" opacity="0.70"/>
<circle cx="166.1" cy="407.3" r="0.63" fill="#20c030" opacity="0.85"/>
<circle cx="184.3" cy="435.3" r="0.62" fill="#20c030" opacity="0.94"/>
<circle cx="114.6" cy="449.7" r="0.74" fill="#20c030" opacity="0.64"/>
<circle cx="116.1" cy="419.5" r="0.81" fill="#20c030" opacity="0.71"/>
<circle cx="172.1" cy="450.6" r="0.85" fill="#20c030" opacity="0.57"/>
<circle cx="186.6" cy="434.7" r="0.84" fill="#20c030" opacity="0.75"/>
<circle cx="160.1" cy="390.4" r="0.60" fill="#20c030" opacity="0.79"/>
<circle cx="168.4" cy="380.5" r="0.93" fill="#20c030" opacity="0.91"/>
<circle cx="207.2" cy="442.5" r="0.79" fill="#20c030" opacity="0.75"/>
<circle cx="193.4" cy="395.8" r="0.80" fill="#20c030" opacity="0.74"/>
<circle cx="211.1" cy="406.3" r="0.80" fill="#20c030" opacity="0.76"/>
<circle cx="177.2" cy="441.6" r="0.61" fill="#20c030" opacity="0.54"/>
<circle cx="161.6" cy="388.9" r="0.69" fill="#20c030" opacity="0.52"/>
<circle cx="168.8" cy="414.8" r="0.88" fill="#20c030" opacity="0.79"/>
<circle cx="154.9" cy="443.1" r="0.91" fill="#20c030" opacity="0.86"/>
<circle cx="163.7" cy="434.1" r="0.92" fill="#20c030" opacity="0.80"/>
<circle cx="186.7" cy="434.1" r="0.58" fill="#20c030" opacity="0.84"/>
<circle cx="176.4" cy="418.0" r="0.93" fill="#20c030" opacity="0.88"/>
<circle cx="181.2" cy="448.1" r="0.80" fill="#20c030" opacity="0.54"/>
<circle cx="211.5" cy="396.9" r="0.71" fill="#20c030" opacity="0.90"/>
<circle cx="117.5" cy="415.8" r="0.76" fill="#20c030" opacity="0.61"/>
<circle cx="173.1" cy="400.7" r="0.77" fill="#20c030" opacity="0.77"/>
<circle cx="142.8" cy="438.4" r="0.86" fill="#20c030" opacity="0.68"/>
<circle cx="133.6" cy="380.8" r="0.80" fill="#e01020" opacity="0.95"/>
<circle cx="118.1" cy="439.5" r="0.93" fill="#e01020" opacity="0.89"/>
<circle cx="158.4" cy="416.5" r="0.75" fill="#e01020" opacity="1.00"/>
<circle cx="160.3" cy="444.8" r="0.58" fill="#e01020" opacity="0.58"/>
<circle cx="116.5" cy="412.6" r="0.72" fill="#e01020" opacity="0.69"/>
<circle cx="208.0" cy="417.4" r="0.65" fill="#e01020" opacity="0.84"/>
<circle cx="172.7" cy="426.3" r="0.77" fill="#e01020" opacity="0.76"/>
<circle cx="127.4" cy="424.8" r="0.64" fill="#e01020" opacity="0.61"/>
<circle cx="141.5" cy="402.2" r="0.50" fill="#e01020" opacity="0.64"/>
<circle cx="114.7" cy="383.7" r="0.71" fill="#e01020" opacity="0.53"/>
<circle cx="140.5" cy="408.2" r="0.49" fill="#e01020" opacity="0.68"/>
<circle cx="185.9" cy="423.7" r="0.58" fill="#e01020" opacity="0.98"/>
<ellipse cx="165" cy="431" rx="5" ry="3.5" fill="none" stroke="#f01828" stroke-width="1.1" stroke-dasharray="14 8"/>
<ellipse cx="160" cy="434" rx="2.5" ry="3" fill="none" stroke="#f01828" stroke-width="0.9" stroke-dasharray="6 6"/>
<ellipse cx="162" cy="407" rx="1.5" ry="2.5" fill="none" stroke="#20c030" stroke-width="1.2"/>
<ellipse cx="127" cy="406" rx="4" ry="1.6" fill="none" stroke="#20a0e0" stroke-width="1.2" stroke-dasharray="2 1.5"/>
<ellipse cx="150" cy="410" rx="0.8" ry="3" fill="none" stroke="#e01828" stroke-width="0.9"/>
</g>
<rect x="109.90" y="380.20" width="3.30" height="73.90" fill="#fff"/>
<rect x="71.60" y="449.00" width="36.00" height="3.20" fill="#fff"/>
<rect x="183.10" y="449.00" width="36.00" height="3.20" fill="#fff"/>
<text x="76.20" y="377.00" font-size="8.2" textLength="23.5" lengthAdjust="spacingAndGlyphs" fill="#e00010">F4/80</text>
<text x="103.40" y="377.00" font-size="8.2" textLength="22.5" lengthAdjust="spacingAndGlyphs" fill="#00b000">CCR2</text>
<text x="128.60" y="377.00" font-size="8.2" textLength="17.4" lengthAdjust="spacingAndGlyphs" fill="#0000e0">DAPI</text>
<text x="55.40" y="464.30" font-size="8.2" text-anchor="middle" textLength="40.2" lengthAdjust="spacingAndGlyphs" fill="#1a1a1a">AAV8-GFP</text>
<text x="166.90" y="464.30" font-size="8.2" text-anchor="middle" textLength="47.8" lengthAdjust="spacingAndGlyphs" fill="#1a1a1a">AAV8-AGXT</text>
<text x="0.50" y="487.00" font-size="11.5" font-weight="bold" fill="#000">f</text>
<rect x="1.60" y="491.50" width="220.20" height="85.90" fill="#000"/>
<clipPath id="cl21"><rect x="1.6" y="503" width="108.30000000000001" height="74.39999999999998"/></clipPath>
<g clip-path="url(#cl21)" filter="url(#bl)">
<circle cx="19.5" cy="554.3" r="0.86" fill="#0820c8" opacity="0.99"/>
<circle cx="105.9" cy="516.7" r="0.78" fill="#0a18e0" opacity="0.59"/>
<circle cx="65.0" cy="508.2" r="0.96" fill="#1aa0e8" opacity="0.80"/>
<circle cx="109.4" cy="560.3" r="0.70" fill="#1030f0" opacity="0.70"/>
<circle cx="76.8" cy="551.3" r="0.85" fill="none" stroke="#2a78f0" stroke-width="0.58" opacity="0.88"/>
<circle cx="102.1" cy="536.7" r="0.80" fill="#20c8f0" opacity="0.45"/>
<circle cx="73.6" cy="538.0" r="0.98" fill="#1aa0e8" opacity="0.49"/>
<circle cx="98.4" cy="559.2" r="0.94" fill="#0a18e0" opacity="0.43"/>
<circle cx="91.2" cy="518.0" r="1.05" fill="#0614b0" opacity="0.54"/>
<circle cx="55.9" cy="526.7" r="0.75" fill="#1aa0e8" opacity="0.45"/>
<circle cx="79.1" cy="576.1" r="0.43" fill="#2a78f0" opacity="0.84"/>
<circle cx="25.6" cy="548.3" r="0.80" fill="#0820c8" opacity="0.79"/>
<circle cx="69.4" cy="565.0" r="0.65" fill="#1030f0" opacity="0.51"/>
<circle cx="19.9" cy="571.7" r="0.54" fill="#0820c8" opacity="0.79"/>
<circle cx="74.8" cy="569.9" r="1.08" fill="#0820c8" opacity="0.97"/>
<circle cx="97.2" cy="539.5" r="0.68" fill="#1aa0e8" opacity="0.46"/>
<circle cx="9.1" cy="562.9" r="0.76" fill="none" stroke="#1030f0" stroke-width="0.52" opacity="0.38"/>
<circle cx="33.0" cy="534.2" r="0.54" fill="#20c8f0" opacity="0.77"/>
<circle cx="17.4" cy="514.2" r="0.92" fill="#1aa0e8" opacity="0.97"/>
<circle cx="80.5" cy="505.1" r="0.57" fill="#0820c8" opacity="0.92"/>
<circle cx="66.7" cy="534.7" r="0.82" fill="#1030f0" opacity="0.44"/>
<circle cx="16.7" cy="556.6" r="0.69" fill="#2a78f0" opacity="0.37"/>
<circle cx="65.9" cy="550.9" r="1.00" fill="#1030f0" opacity="0.79"/>
<circle cx="89.6" cy="513.3" r="0.52" fill="#0820c8" opacity="0.37"/>
<circle cx="50.0" cy="513.5" r="1.01" fill="#0820c8" opacity="0.55"/>
<circle cx="44.5" cy="569.1" r="0.85" fill="#20c8f0" opacity="0.48"/>
<circle cx="83.6" cy="547.9" r="0.77" fill="#0a18e0" opacity="0.86"/>
<circle cx="2.4" cy="537.5" r="0.47" fill="#0820c8" opacity="0.91"/>
<circle cx="26.9" cy="574.7" r="0.67" fill="none" stroke="#0820c8" stroke-width="0.46" opacity="0.60"/>
<circle cx="99.2" cy="525.0" r="0.77" fill="#0a18e0" opacity="0.70"/>
<circle cx="8.1" cy="547.3" r="0.65" fill="#1030f0" opacity="0.80"/>
<circle cx="58.5" cy="544.7" r="0.47" fill="#0820c8" opacity="0.58"/>
<circle cx="36.1" cy="576.9" r="0.50" fill="#1aa0e8" opacity="0.76"/>
<circle cx="89.1" cy="575.7" r="0.77" fill="#0614b0" opacity="0.66"/>
<circle cx="57.2" cy="568.1" r="0.47" fill="#2a78f0" opacity="0.63"/>
<circle cx="28.4" cy="555.4" r="0.78" fill="none" stroke="#0614b0" stroke-width="0.54" opacity="0.87"/>
<circle cx="37.1" cy="519.9" r="1.05" fill="#0a18e0" opacity="0.66"/>
<circle cx="79.3" cy="569.3" r="0.96" fill="#1030f0" opacity="0.51"/>
<circle cx="43.4" cy="548.7" r="0.79" fill="none" stroke="#0a18e0" stroke-width="0.54" opacity="0.46"/>
<circle cx="96.4" cy="556.3" r="0.49" fill="#2a78f0" opacity="0.55"/>
<circle cx="103.8" cy="558.2" r="0.74" fill="#1aa0e8" opacity="0.81"/>
<circle cx="23.9" cy="527.9" r="0.69" fill="none" stroke="#1030f0" stroke-width="0.47" opacity="0.40"/>
<circle cx="57.3" cy="573.3" r="1.08" fill="#0820c8" opacity="0.50"/>
<circle cx="79.2" cy="514.7" r="0.69" fill="#0614b0" opacity="0.75"/>
<circle cx="32.0" cy="516.0" r="0.69" fill="#1aa0e8" opacity="0.98"/>
<circle cx="24.9" cy="529.1" r="0.85" fill="#1030f0" opacity="0.36"/>
<circle cx="5.9" cy="548.2" r="0.72" fill="none" stroke="#1aa0e8" stroke-width="0.50" opacity="0.96"/>
<circle cx="107.0" cy="517.2" r="0.68" fill="#1aa0e8" opacity="0.44"/>
<circle cx="87.3" cy="564.2" r="0.79" fill="#1aa0e8" opacity="0.62"/>
<circle cx="97.2" cy="521.2" r="0.65" fill="none" stroke="#0614b0" stroke-width="0.45" opacity="0.92"/>
<circle cx="64.6" cy="509.0" r="1.04" fill="#0820c8" opacity="0.45"/>
<circle cx="58.6" cy="542.8" r="0.76" fill="#1030f0" opacity="0.45"/>
<circle cx="18.2" cy="524.4" r="0.69" fill="none" stroke="#1aa0e8" stroke-width="0.47" opacity="0.78"/>
<circle cx="12.2" cy="564.6" r="0.67" fill="#0820c8" opacity="0.37"/>
<circle cx="55.2" cy="553.6" r="0.70" fill="none" stroke="#1aa0e8" stroke-width="0.48" opacity="0.50"/>
<circle cx="28.7" cy="517.8" r="0.56" fill="#0614b0" opacity="0.40"/>
<circle cx="91.2" cy="518.9" r="0.45" fill="#0820c8" opacity="0.36"/>
<circle cx="41.5" cy="538.6" r="1.01" fill="#0a18e0" opacity="0.94"/>
<circle cx="25.1" cy="560.9" r="0.83" fill="none" stroke="#0a18e0" stroke-width="0.57" opacity="0.98"/>
<circle cx="103.6" cy="572.7" r="0.77" fill="none" stroke="#20c8f0" stroke-width="0.53" opacity="0.46"/>
<circle cx="4.3" cy="531.0" r="0.93" fill="#2a78f0" opacity="0.68"/>
<circle cx="26.1" cy="541.3" r="0.62" fill="#1030f0" opacity="0.94"/>
<circle cx="27.6" cy="547.6" r="0.66" fill="#1030f0" opacity="0.72"/>
<circle cx="109.3" cy="570.8" r="0.86" fill="none" stroke="#0820c8" stroke-width="0.59" opacity="0.83"/>
<circle cx="59.3" cy="530.6" r="1.10" fill="#1aa0e8" opacity="0.51"/>
<circle cx="71.0" cy="560.4" r="0.94" fill="#1030f0" opacity="0.47"/>
<circle cx="25.7" cy="538.5" r="0.45" fill="#0820c8" opacity="0.37"/>
<circle cx="90.7" cy="546.6" r="0.78" fill="none" stroke="#0820c8" stroke-width="0.53" opacity="1.00"/>
<circle cx="44.2" cy="503.3" r="0.70" fill="none" stroke="#0614b0" stroke-width="0.48" opacity="0.48"/>
<circle cx="81.1" cy="563.4" r="0.75" fill="#20c8f0" opacity="0.95"/>
<circle cx="15.9" cy="527.8" r="0.67" fill="#0614b0" opacity="0.74"/>
<circle cx="76.7" cy="567.4" r="0.94" fill="#1030f0" opacity="0.83"/>
<circle cx="15.1" cy="569.5" r="0.66" fill="none" stroke="#1aa0e8" stroke-width="0.46" opacity="0.83"/>
<circle cx="15.7" cy="558.9" r="0.85" fill="none" stroke="#2a78f0" stroke-width="0.58" opacity="0.54"/>
<circle cx="24.0" cy="540.0" r="0.91" fill="#2a78f0" opacity="0.94"/>
<circle cx="58.2" cy="503.7" r="1.00" fill="#20c8f0" opacity="0.80"/>
<circle cx="14.9" cy="568.5" r="0.87" fill="#2a78f0" opacity="0.50"/>
<circle cx="54.4" cy="543.0" r="0.80" fill="#0a18e0" opacity="0.76"/>
<circle cx="41.2" cy="528.8" r="0.94" fill="#0614b0" opacity="0.82"/>
<circle cx="49.2" cy="520.3" r="1.00" fill="#0820c8" opacity="0.85"/>
<circle cx="82.7" cy="528.7" r="0.53" fill="#20c8f0" opacity="0.56"/>
<circle cx="37.2" cy="519.0" r="0.46" fill="#1aa0e8" opacity="0.36"/>
<circle cx="18.7" cy="514.4" r="0.80" fill="#2a78f0" opacity="0.43"/>
<circle cx="45.5" cy="559.6" r="0.56" fill="#0a18e0" opacity="0.41"/>
<circle cx="27.9" cy="547.6" r="0.49" fill="#2a78f0" opacity="0.86"/>
<circle cx="102.2" cy="555.0" r="0.98" fill="#1030f0" opacity="0.87"/>
<circle cx="97.4" cy="534.1" r="0.82" fill="#20c8f0" opacity="0.85"/>
<circle cx="21.3" cy="571.9" r="0.48" fill="#0614b0" opacity="0.82"/>
<circle cx="59.1" cy="515.2" r="0.66" fill="#1030f0" opacity="0.60"/>
<circle cx="88.4" cy="507.0" r="0.62" fill="#20c8f0" opacity="0.88"/>
<circle cx="16.5" cy="556.7" r="0.64" fill="#1030f0" opacity="0.78"/>
<circle cx="49.5" cy="520.2" r="0.68" fill="#0614b0" opacity="0.68"/>
<circle cx="13.1" cy="575.3" r="0.57" fill="#0820c8" opacity="0.38"/>
<circle cx="69.4" cy="548.3" r="0.72" fill="#0a18e0" opacity="0.63"/>
<circle cx="23.3" cy="505.4" r="0.57" fill="#1030f0" opacity="0.36"/>
<circle cx="85.4" cy="566.3" r="0.86" fill="none" stroke="#20c8f0" stroke-width="0.59" opacity="0.69"/>
<circle cx="31.9" cy="547.2" r="0.79" fill="none" stroke="#0614b0" stroke-width="0.54" opacity="0.44"/>
<circle cx="99.4" cy="551.5" r="0.62" fill="#0a18e0" opacity="0.92"/>
<circle cx="28.2" cy="577.2" r="0.65" fill="#0820c8" opacity="0.82"/>
<circle cx="4.6" cy="546.0" r="0.84" fill="none" stroke="#2a78f0" stroke-width="0.58" opacity="0.85"/>
<circle cx="14.7" cy="504.8" r="0.57" fill="#0820c8" opacity="0.67"/>
<circle cx="77.6" cy="541.2" r="1.08" fill="#0614b0" opacity="0.60"/>
<circle cx="85.0" cy="541.6" r="0.46" fill="#0a18e0" opacity="0.46"/>
<circle cx="13.6" cy="538.2" r="0.48" fill="#1aa0e8" opacity="0.68"/>
<circle cx="33.6" cy="536.2" r="0.91" fill="#0614b0" opacity="0.97"/>
<circle cx="31.8" cy="503.4" r="0.70" fill="#1030f0" opacity="0.65"/>
<circle cx="99.9" cy="568.6" r="0.61" fill="#2a78f0" opacity="0.57"/>
<circle cx="103.0" cy="529.2" r="0.68" fill="none" stroke="#1030f0" stroke-width="0.47" opacity="0.87"/>
<circle cx="106.5" cy="506.2" r="0.77" fill="none" stroke="#0a18e0" stroke-width="0.53" opacity="0.38"/>
<circle cx="36.8" cy="553.8" r="0.58" fill="#20c8f0" opacity="0.75"/>
<circle cx="19.9" cy="559.6" r="0.49" fill="#1030f0" opacity="0.62"/>
<circle cx="36.9" cy="557.1" r="0.69" fill="#1030f0" opacity="0.83"/>
<circle cx="80.6" cy="521.2" r="0.64" fill="#20c8f0" opacity="0.85"/>
<circle cx="22.1" cy="574.1" r="0.85" fill="#0614b0" opacity="0.65"/>
<circle cx="86.6" cy="516.9" r="0.68" fill="none" stroke="#0614b0" stroke-width="0.46" opacity="0.94"/>
<circle cx="79.0" cy="539.2" r="1.04" fill="#2a78f0" opacity="0.94"/>
<circle cx="2.6" cy="560.0" r="0.88" fill="none" stroke="#0a18e0" stroke-width="0.60" opacity="0.76"/>
<circle cx="104.6" cy="574.8" r="0.72" fill="#1030f0" opacity="0.99"/>
<circle cx="95.1" cy="561.6" r="0.76" fill="#2a78f0" opacity="0.54"/>
<circle cx="84.3" cy="519.7" r="0.47" fill="#0820c8" opacity="0.95"/>
<circle cx="72.4" cy="544.5" r="0.95" fill="#0a18e0" opacity="0.59"/>
<circle cx="100.3" cy="550.7" r="1.03" fill="#0614b0" opacity="0.54"/>
<circle cx="72.9" cy="538.2" r="0.95" fill="#1030f0" opacity="0.56"/>
<circle cx="54.0" cy="534.3" r="0.58" fill="#1030f0" opacity="0.48"/>
<circle cx="21.1" cy="543.2" r="1.08" fill="#2a78f0" opacity="0.47"/>
<circle cx="53.7" cy="547.4" r="0.61" fill="#0a18e0" opacity="0.91"/>
<circle cx="71.3" cy="549.8" r="0.50" fill="#1aa0e8" opacity="0.48"/>
<circle cx="59.8" cy="554.8" r="0.77" fill="#0820c8" opacity="0.77"/>
<circle cx="77.3" cy="577.1" r="0.80" fill="none" stroke="#0820c8" stroke-width="0.55" opacity="0.63"/>
<circle cx="33.2" cy="531.0" r="0.56" fill="#1030f0" opacity="0.96"/>
<circle cx="69.8" cy="566.8" r="0.76" fill="#0820c8" opacity="0.39"/>
<circle cx="40.8" cy="530.8" r="0.66" fill="#0a18e0" opacity="0.52"/>
<circle cx="19.0" cy="569.6" r="0.81" fill="none" stroke="#2a78f0" stroke-width="0.56" opacity="0.87"/>
<circle cx="85.1" cy="515.8" r="0.66" fill="none" stroke="#0a18e0" stroke-width="0.46" opacity="0.37"/>
<circle cx="74.5" cy="564.5" r="0.65" fill="none" stroke="#20c8f0" stroke-width="0.45" opacity="0.60"/>
<circle cx="86.7" cy="576.0" r="0.52" fill="#0614b0" opacity="0.77"/>
<circle cx="50.1" cy="533.0" r="1.08" fill="#2a78f0" opacity="0.79"/>
<circle cx="91.4" cy="510.4" r="0.87" fill="none" stroke="#20c8f0" stroke-width="0.60" opacity="0.87"/>
<circle cx="45.1" cy="557.3" r="0.61" fill="#0614b0" opacity="0.38"/>
<circle cx="84.6" cy="571.0" r="0.65" fill="none" stroke="#2a78f0" stroke-width="0.45" opacity="0.67"/>
<circle cx="12.6" cy="532.6" r="0.87" fill="#1030f0" opacity="0.92"/>
<circle cx="46.2" cy="550.9" r="0.46" fill="#1030f0" opacity="0.51"/>
<circle cx="30.2" cy="545.7" r="0.81" fill="#2a78f0" opacity="0.86"/>
<circle cx="42.8" cy="528.5" r="1.07" fill="#0820c8" opacity="0.55"/>
<circle cx="32.4" cy="564.3" r="0.71" fill="none" stroke="#2a78f0" stroke-width="0.49" opacity="0.41"/>
<circle cx="73.5" cy="570.5" r="0.86" fill="none" stroke="#0614b0" stroke-width="0.59" opacity="0.56"/>
<circle cx="29.7" cy="561.2" r="0.52" fill="#0a18e0" opacity="0.48"/>
<circle cx="69.7" cy="542.4" r="1.08" fill="#0614b0" opacity="0.42"/>
<circle cx="99.1" cy="509.5" r="0.85" fill="#0614b0" opacity="0.47"/>
<circle cx="26.3" cy="563.8" r="0.44" fill="#0820c8" opacity="0.38"/>
<circle cx="66.4" cy="547.5" r="0.74" fill="none" stroke="#0614b0" stroke-width="0.51" opacity="0.53"/>
<circle cx="64.7" cy="523.0" r="1.10" fill="#0820c8" opacity="0.95"/>
<circle cx="47.4" cy="507.6" r="1.09" fill="#1030f0" opacity="0.37"/>
<circle cx="15.5" cy="575.1" r="0.80" fill="#1030f0" opacity="0.96"/>
<circle cx="51.8" cy="559.2" r="0.48" fill="#0a18e0" opacity="0.52"/>
<circle cx="36.0" cy="516.7" r="0.45" fill="#0820c8" opacity="0.72"/>
<circle cx="91.3" cy="541.1" r="0.53" fill="#0820c8" opacity="0.86"/>
<circle cx="107.6" cy="522.3" r="0.90" fill="#1030f0" opacity="0.60"/>
<circle cx="100.2" cy="508.3" r="1.08" fill="#1030f0" opacity="0.51"/>
<circle cx="25.1" cy="514.7" r="0.75" fill="#0614b0" opacity="0.97"/>
<circle cx="19.4" cy="542.5" r="0.75" fill="#1aa0e8" opacity="0.44"/>
<circle cx="29.8" cy="506.0" r="0.86" fill="#0820c8" opacity="0.66"/>
<circle cx="91.6" cy="518.0" r="0.67" fill="#0a18e0" opacity="0.91"/>
<circle cx="15.7" cy="528.9" r="0.71" fill="#1030f0" opacity="0.58"/>
<circle cx="41.7" cy="567.6" r="0.67" fill="none" stroke="#1030f0" stroke-width="0.46" opacity="0.92"/>
<circle cx="86.6" cy="521.3" r="0.60" fill="#0614b0" opacity="0.49"/>
<circle cx="66.4" cy="528.2" r="0.80" fill="#0a18e0" opacity="0.72"/>
<circle cx="88.2" cy="514.7" r="0.88" fill="#0820c8" opacity="0.89"/>
<circle cx="48.8" cy="551.0" r="0.53" fill="#0a18e0" opacity="0.57"/>
<circle cx="14.5" cy="544.6" r="0.77" fill="#20c8f0" opacity="0.96"/>
<circle cx="32.4" cy="504.3" r="0.59" fill="#0820c8" opacity="0.39"/>
<circle cx="37.8" cy="557.1" r="0.66" fill="#2a78f0" opacity="0.91"/>
<circle cx="40.3" cy="564.0" r="0.58" fill="#0820c8" opacity="0.98"/>
<circle cx="89.7" cy="556.7" r="0.76" fill="#0614b0" opacity="0.46"/>
<circle cx="39.9" cy="514.2" r="0.73" fill="#1030f0" opacity="0.71"/>
<circle cx="109.3" cy="538.2" r="1.09" fill="#20c8f0" opacity="0.55"/>
<circle cx="25.9" cy="507.2" r="0.65" fill="#2a78f0" opacity="0.87"/>
<circle cx="66.6" cy="504.5" r="0.87" fill="#20c8f0" opacity="0.64"/>
<circle cx="91.9" cy="554.0" r="0.92" fill="#1aa0e8" opacity="0.80"/>
<circle cx="9.3" cy="548.7" r="0.70" fill="#0a18e0" opacity="0.64"/>
<circle cx="63.2" cy="561.3" r="0.89" fill="#0a18e0" opacity="0.44"/>
<circle cx="99.2" cy="517.7" r="0.96" fill="#0a18e0" opacity="0.72"/>
<circle cx="38.9" cy="561.1" r="0.64" fill="#0a18e0" opacity="0.54"/>
<circle cx="46.1" cy="556.6" r="0.47" fill="#0614b0" opacity="0.62"/>
<circle cx="103.5" cy="506.0" r="0.58" fill="#20c8f0" opacity="0.93"/>
<circle cx="70.6" cy="537.1" r="0.48" fill="#1030f0" opacity="0.60"/>
<circle cx="69.9" cy="570.7" r="0.83" fill="#1aa0e8" opacity="0.66"/>
<circle cx="96.5" cy="566.5" r="0.67" fill="#0820c8" opacity="0.57"/>
<circle cx="106.1" cy="504.2" r="0.83" fill="none" stroke="#0820c8" stroke-width="0.57" opacity="0.88"/>
<circle cx="49.7" cy="510.7" r="0.66" fill="#2a78f0" opacity="0.47"/>
<circle cx="51.3" cy="550.6" r="0.97" fill="#1030f0" opacity="0.64"/>
<circle cx="17.2" cy="575.7" r="0.67" fill="#1030f0" opacity="0.86"/>
<circle cx="71.5" cy="569.8" r="0.97" fill="#1aa0e8" opacity="0.74"/>
<circle cx="36.7" cy="539.0" r="0.47" fill="#20c8f0" opacity="0.92"/>
<circle cx="18.0" cy="548.2" r="0.44" fill="#1030f0" opacity="0.48"/>
<circle cx="68.4" cy="543.1" r="0.87" fill="#0820c8" opacity="0.41"/>
<circle cx="50.4" cy="556.7" r="0.51" fill="#1030f0" opacity="0.75"/>
<circle cx="30.7" cy="517.4" r="0.86" fill="#1aa0e8" opacity="0.35"/>
<circle cx="38.2" cy="506.1" r="0.74" fill="#20c8f0" opacity="0.69"/>
<circle cx="67.9" cy="572.0" r="0.51" fill="#2a78f0" opacity="0.87"/>
<circle cx="2.0" cy="556.9" r="0.85" fill="#0614b0" opacity="0.95"/>
<circle cx="15.9" cy="505.1" r="0.99" fill="#2a78f0" opacity="0.92"/>
<circle cx="22.8" cy="562.5" r="0.61" fill="#0820c8" opacity="0.88"/>
<circle cx="16.7" cy="574.7" r="0.68" fill="#0614b0" opacity="0.91"/>
<circle cx="54.6" cy="505.2" r="0.80" fill="#0614b0" opacity="0.72"/>
<circle cx="10.6" cy="511.0" r="0.54" fill="#0614b0" opacity="0.47"/>
<circle cx="41.6" cy="546.2" r="0.69" fill="#1aa0e8" opacity="0.36"/>
<circle cx="87.6" cy="516.8" r="0.90" fill="#2a78f0" opacity="0.70"/>
<circle cx="17.3" cy="521.2" r="1.03" fill="#2a78f0" opacity="0.60"/>
<circle cx="41.9" cy="547.8" r="0.71" fill="none" stroke="#0614b0" stroke-width="0.49" opacity="0.65"/>
<circle cx="58.7" cy="511.2" r="0.65" fill="#2a78f0" opacity="0.64"/>
<circle cx="77.9" cy="532.9" r="0.48" fill="#1aa0e8" opacity="0.43"/>
<circle cx="108.0" cy="505.5" r="0.73" fill="none" stroke="#1030f0" stroke-width="0.50" opacity="0.95"/>
<circle cx="46.7" cy="564.5" r="0.88" fill="#0820c8" opacity="0.92"/>
<circle cx="63.0" cy="542.7" r="0.66" fill="none" stroke="#1aa0e8" stroke-width="0.45" opacity="0.67"/>
<circle cx="79.0" cy="505.5" r="0.47" fill="#20c8f0" opacity="0.60"/>
<circle cx="103.6" cy="521.2" r="0.77" fill="#0820c8" opacity="0.45"/>
<circle cx="9.1" cy="535.3" r="0.88" fill="none" stroke="#1aa0e8" stroke-width="0.60" opacity="0.99"/>
<circle cx="106.8" cy="574.9" r="0.73" fill="#20c8f0" opacity="0.38"/>
<circle cx="50.1" cy="523.3" r="0.54" fill="#0820c8" opacity="0.74"/>
<circle cx="17.7" cy="510.4" r="0.78" fill="#2a78f0" opacity="0.83"/>
<circle cx="52.5" cy="520.7" r="0.47" fill="#0614b0" opacity="0.53"/>
<circle cx="99.0" cy="548.2" r="0.74" fill="#2a78f0" opacity="0.91"/>
<circle cx="105.7" cy="546.9" r="1.05" fill="#1030f0" opacity="0.52"/>
<circle cx="70.1" cy="545.0" r="0.76" fill="#1aa0e8" opacity="0.48"/>
<circle cx="37.9" cy="509.4" r="0.65" fill="#20c8f0" opacity="0.69"/>
<circle cx="60.6" cy="509.6" r="0.81" fill="#0820c8" opacity="0.76"/>
<circle cx="55.2" cy="530.8" r="0.97" fill="#0820c8" opacity="0.41"/>
<circle cx="4.0" cy="569.5" r="0.55" fill="#0614b0" opacity="0.57"/>
<circle cx="47.9" cy="545.7" r="0.81" fill="none" stroke="#1aa0e8" stroke-width="0.56" opacity="0.86"/>
<circle cx="34.6" cy="567.8" r="1.02" fill="#1030f0" opacity="0.96"/>
<circle cx="27.8" cy="563.0" r="0.99" fill="#1aa0e8" opacity="0.65"/>
<circle cx="9.2" cy="521.8" r="0.61" fill="#1030f0" opacity="0.40"/>
<circle cx="52.2" cy="575.7" r="1.09" fill="#1030f0" opacity="0.61"/>
<circle cx="8.0" cy="513.3" r="0.69" fill="none" stroke="#0614b0" stroke-width="0.48" opacity="0.95"/>
<circle cx="108.5" cy="524.2" r="0.93" fill="#0820c8" opacity="0.42"/>
<circle cx="90.5" cy="517.9" r="0.69" fill="#0820c8" opacity="0.56"/>
<circle cx="89.0" cy="531.2" r="1.03" fill="#1aa0e8" opacity="0.39"/>
<circle cx="7.2" cy="535.5" r="0.74" fill="#0820c8" opacity="0.63"/>
<circle cx="84.5" cy="514.5" r="0.73" fill="#0614b0" opacity="0.85"/>
<circle cx="83.2" cy="570.3" r="0.77" fill="#0a18e0" opacity="0.44"/>
<circle cx="69.2" cy="537.8" r="0.82" fill="#0a18e0" opacity="0.98"/>
<circle cx="25.7" cy="509.6" r="0.84" fill="#1aa0e8" opacity="0.77"/>
<circle cx="77.8" cy="560.3" r="0.68" fill="#1aa0e8" opacity="0.43"/>
<circle cx="94.5" cy="528.6" r="0.77" fill="none" stroke="#1030f0" stroke-width="0.53" opacity="0.41"/>
<circle cx="18.9" cy="546.0" r="0.68" fill="#0820c8" opacity="0.36"/>
<circle cx="75.9" cy="511.8" r="0.83" fill="#2a78f0" opacity="0.43"/>
<circle cx="49.3" cy="541.3" r="1.00" fill="#20c8f0" opacity="0.72"/>
<circle cx="83.5" cy="571.5" r="0.99" fill="#1aa0e8" opacity="0.47"/>
<circle cx="87.0" cy="536.1" r="0.54" fill="#0614b0" opacity="0.64"/>
<circle cx="42.9" cy="512.8" r="0.70" fill="#1030f0" opacity="0.74"/>
<circle cx="11.9" cy="529.6" r="0.85" fill="none" stroke="#0614b0" stroke-width="0.58" opacity="0.74"/>
<circle cx="25.5" cy="556.6" r="0.83" fill="#1aa0e8" opacity="0.39"/>
<circle cx="53.7" cy="576.6" r="0.88" fill="#0820c8" opacity="0.50"/>
<circle cx="82.0" cy="547.1" r="0.85" fill="#1aa0e8" opacity="0.91"/>
<circle cx="18.2" cy="518.5" r="1.00" fill="#20c8f0" opacity="0.61"/>
<circle cx="90.5" cy="544.3" r="0.49" fill="#20c8f0" opacity="0.52"/>
<circle cx="65.5" cy="517.9" r="0.74" fill="none" stroke="#0820c8" stroke-width="0.51" opacity="0.74"/>
<circle cx="87.8" cy="545.9" r="1.07" fill="#1030f0" opacity="0.46"/>
<circle cx="45.9" cy="508.4" r="1.03" fill="#2a78f0" opacity="0.48"/>
<circle cx="78.6" cy="514.8" r="0.74" fill="#1030f0" opacity="0.43"/>
<circle cx="95.4" cy="557.4" r="0.56" fill="#0a18e0" opacity="0.51"/>
<circle cx="83.4" cy="558.8" r="0.84" fill="#20c8f0" opacity="0.87"/>
<circle cx="8.1" cy="515.5" r="0.46" fill="#0614b0" opacity="0.86"/>
<circle cx="60.3" cy="535.4" r="0.66" fill="#2a78f0" opacity="0.56"/>
<circle cx="57.8" cy="515.0" r="0.55" fill="#20c8f0" opacity="0.83"/>
<circle cx="58.1" cy="559.0" r="0.96" fill="#0614b0" opacity="0.87"/>
<circle cx="6.6" cy="515.5" r="0.61" fill="#2a78f0" opacity="0.59"/>
<circle cx="99.4" cy="528.1" r="0.77" fill="none" stroke="#0820c8" stroke-width="0.53" opacity="0.95"/>
<circle cx="11.1" cy="575.0" r="0.78" fill="#0820c8" opacity="0.45"/>
<circle cx="36.0" cy="563.9" r="0.64" fill="#20c8f0" opacity="0.56"/>
<circle cx="75.4" cy="507.5" r="0.65" fill="#0614b0" opacity="0.67"/>
<circle cx="42.4" cy="513.6" r="0.80" fill="#20c8f0" opacity="0.43"/>
<circle cx="21.4" cy="543.1" r="0.52" fill="#1aa0e8" opacity="0.39"/>
<circle cx="78.1" cy="524.3" r="0.57" fill="#0614b0" opacity="0.97"/>
<circle cx="102.5" cy="542.2" r="0.57" fill="#0820c8" opacity="0.41"/>
<circle cx="56.5" cy="516.4" r="0.63" fill="#0820c8" opacity="0.51"/>
<circle cx="78.7" cy="511.9" r="0.58" fill="#20c8f0" opacity="0.72"/>
<circle cx="95.6" cy="571.4" r="0.78" fill="#0820c8" opacity="0.82"/>
<circle cx="84.1" cy="566.3" r="0.61" fill="#2a78f0" opacity="0.56"/>
<circle cx="8.2" cy="504.7" r="0.67" fill="none" stroke="#0614b0" stroke-width="0.46" opacity="0.74"/>
<circle cx="70.7" cy="523.0" r="0.58" fill="#1aa0e8" opacity="0.66"/>
<circle cx="43.9" cy="564.8" r="0.69" fill="#0a18e0" opacity="0.61"/>
<circle cx="84.6" cy="560.0" r="0.81" fill="none" stroke="#0a18e0" stroke-width="0.55" opacity="0.83"/>
<circle cx="65.4" cy="508.6" r="0.63" fill="#1030f0" opacity="0.81"/>
<circle cx="65.7" cy="526.5" r="0.43" fill="#20c8f0" opacity="0.53"/>
<circle cx="9.3" cy="524.7" r="0.57" fill="#0a18e0" opacity="0.91"/>
<circle cx="108.4" cy="506.4" r="0.99" fill="#0820c8" opacity="0.60"/>
<circle cx="32.5" cy="564.5" r="0.55" fill="#0820c8" opacity="0.78"/>
<circle cx="31.5" cy="530.2" r="0.62" fill="#1030f0" opacity="0.59"/>
<circle cx="31.3" cy="558.5" r="0.54" fill="#2a78f0" opacity="0.95"/>
<circle cx="46.2" cy="574.6" r="0.92" fill="#1030f0" opacity="0.52"/>
<circle cx="74.1" cy="535.3" r="0.82" fill="#1030f0" opacity="0.52"/>
<circle cx="87.6" cy="536.1" r="0.80" fill="#0a18e0" opacity="0.95"/>
<circle cx="13.2" cy="570.5" r="0.57" fill="#20c8f0" opacity="0.66"/>
<circle cx="6.4" cy="520.3" r="0.72" fill="none" stroke="#0820c8" stroke-width="0.49" opacity="0.89"/>
<circle cx="38.1" cy="521.4" r="0.68" fill="#0a18e0" opacity="0.52"/>
<circle cx="62.4" cy="548.2" r="1.09" fill="#0a18e0" opacity="0.73"/>
<circle cx="29.9" cy="567.1" r="0.44" fill="#0a18e0" opacity="0.62"/>
<circle cx="3.9" cy="544.8" r="0.68" fill="none" stroke="#0a18e0" stroke-width="0.47" opacity="0.77"/>
<circle cx="93.2" cy="508.6" r="0.60" fill="#0a18e0" opacity="0.83"/>
<circle cx="101.5" cy="576.9" r="0.51" fill="#20c8f0" opacity="0.37"/>
<circle cx="80.7" cy="565.9" r="0.97" fill="#0820c8" opacity="0.52"/>
<circle cx="9.9" cy="511.9" r="0.46" fill="#0a18e0" opacity="0.36"/>
<circle cx="68.7" cy="524.3" r="0.73" fill="none" stroke="#20c8f0" stroke-width="0.50" opacity="0.84"/>
<circle cx="86.0" cy="547.6" r="0.66" fill="none" stroke="#0820c8" stroke-width="0.46" opacity="0.89"/>
<circle cx="55.3" cy="559.2" r="0.43" fill="#0820c8" opacity="0.41"/>
<circle cx="62.5" cy="517.0" r="0.76" fill="#0820c8" opacity="0.40"/>
<circle cx="96.6" cy="572.7" r="0.53" fill="#20c8f0" opacity="0.78"/>
<circle cx="25.8" cy="562.7" r="0.80" fill="#2a78f0" opacity="0.49"/>
<circle cx="73.7" cy="549.4" r="0.48" fill="#0a18e0" opacity="0.96"/>
<circle cx="83.5" cy="557.3" r="0.77" fill="#0614b0" opacity="0.43"/>
<circle cx="94.3" cy="510.6" r="0.85" fill="#0a18e0" opacity="0.88"/>
<circle cx="26.7" cy="528.9" r="0.59" fill="#2a78f0" opacity="0.88"/>
<circle cx="16.4" cy="559.3" r="0.50" fill="#0a18e0" opacity="0.92"/>
<circle cx="43.9" cy="575.5" r="0.71" fill="#0820c8" opacity="0.45"/>
<circle cx="6.5" cy="554.7" r="0.58" fill="#20c8f0" opacity="0.46"/>
<circle cx="43.8" cy="550.8" r="0.56" fill="#20c8f0" opacity="0.83"/>
<circle cx="49.2" cy="571.6" r="0.79" fill="#0a18e0" opacity="0.81"/>
<circle cx="2.8" cy="520.7" r="1.09" fill="#1030f0" opacity="0.81"/>
<circle cx="74.7" cy="573.6" r="0.74" fill="#0820c8" opacity="0.66"/>
<circle cx="72.8" cy="532.7" r="0.75" fill="none" stroke="#0614b0" stroke-width="0.51" opacity="0.36"/>
<circle cx="51.9" cy="531.6" r="0.44" fill="#20c8f0" opacity="0.61"/>
<circle cx="60.6" cy="514.2" r="0.45" fill="#1030f0" opacity="0.87"/>
<circle cx="84.3" cy="572.2" r="1.06" fill="#2a78f0" opacity="0.80"/>
<circle cx="54.4" cy="571.5" r="0.65" fill="none" stroke="#0a18e0" stroke-width="0.44" opacity="0.69"/>
<circle cx="17.1" cy="560.4" r="1.06" fill="#0614b0" opacity="0.94"/>
<circle cx="16.9" cy="538.1" r="0.54" fill="#0820c8" opacity="0.83"/>
<circle cx="48.6" cy="570.9" r="0.95" fill="#1030f0" opacity="0.84"/>
<circle cx="11.2" cy="562.7" r="0.51" fill="#0a18e0" opacity="0.81"/>
<circle cx="41.8" cy="508.3" r="0.86" fill="#20c030" opacity="0.77"/>
<circle cx="67.7" cy="548.6" r="0.94" fill="#20c030" opacity="0.65"/>
<circle cx="63.4" cy="557.6" r="0.79" fill="#20c030" opacity="0.96"/>
<circle cx="6.0" cy="562.3" r="0.47" fill="#20c030" opacity="0.66"/>
<circle cx="39.8" cy="562.6" r="0.89" fill="#20c030" opacity="0.78"/>
<circle cx="61.8" cy="552.5" r="0.46" fill="#20c030" opacity="0.69"/>
<circle cx="50.5" cy="506.6" r="0.60" fill="#20c030" opacity="0.64"/>
<circle cx="15.5" cy="517.1" r="0.64" fill="#20c030" opacity="0.83"/>
<circle cx="93.8" cy="526.7" r="0.84" fill="#20c030" opacity="0.86"/>
<circle cx="12.7" cy="517.9" r="0.89" fill="#20c030" opacity="0.57"/>
<circle cx="69.5" cy="546.5" r="0.85" fill="#20c030" opacity="0.89"/>
<circle cx="90.1" cy="513.2" r="0.81" fill="#20c030" opacity="0.95"/>
<circle cx="73.7" cy="574.3" r="0.49" fill="#20c030" opacity="0.73"/>
<circle cx="106.4" cy="525.5" r="0.62" fill="#20c030" opacity="0.65"/>
<circle cx="42.2" cy="535.1" r="0.70" fill="#20c030" opacity="0.63"/>
<circle cx="55.8" cy="572.2" r="0.62" fill="#20c030" opacity="0.62"/>
<circle cx="100.9" cy="555.8" r="0.85" fill="#20c030" opacity="0.96"/>
<circle cx="108.1" cy="525.6" r="0.45" fill="#20c030" opacity="0.87"/>
<circle cx="73.1" cy="531.9" r="0.90" fill="#e01020" opacity="0.90"/>
<circle cx="63.4" cy="548.6" r="0.66" fill="#e01020" opacity="0.59"/>
<circle cx="33.5" cy="557.1" r="0.70" fill="#e01020" opacity="0.76"/>
<circle cx="72.5" cy="572.7" r="0.51" fill="#e01020" opacity="0.55"/>
<circle cx="84.9" cy="519.1" r="0.73" fill="#e01020" opacity="0.75"/>
<circle cx="74.2" cy="550.5" r="0.65" fill="#e01020" opacity="0.80"/>
<circle cx="102.8" cy="565.5" r="0.68" fill="#e01020" opacity="0.87"/>
<circle cx="33.0" cy="571.8" r="0.45" fill="#e01020" opacity="0.78"/>
<circle cx="84.6" cy="570.9" r="0.72" fill="#e01020" opacity="0.76"/>
<circle cx="67.4" cy="559.3" r="0.64" fill="#e01020" opacity="0.82"/>
<circle cx="29.2" cy="508.9" r="0.49" fill="#e01020" opacity="0.59"/>
<circle cx="45.6" cy="512.8" r="0.84" fill="#e01020" opacity="0.84"/>
<circle cx="43.2" cy="516.3" r="0.66" fill="#e01020" opacity="0.94"/>
<circle cx="92.2" cy="554.3" r="0.64" fill="#e01020" opacity="0.92"/>
<circle cx="56.6" cy="528.3" r="0.90" fill="#e01020" opacity="0.84"/>
<circle cx="7.7" cy="508.1" r="0.69" fill="#e01020" opacity="0.89"/>
<circle cx="49.0" cy="542.5" r="0.52" fill="#e01020" opacity="0.80"/>
<circle cx="45.9" cy="529.9" r="0.56" fill="#e01020" opacity="0.80"/>
<circle cx="91.4" cy="542.6" r="0.75" fill="#e01020" opacity="0.78"/>
<circle cx="78.4" cy="554.9" r="0.46" fill="#e01020" opacity="0.98"/>
<circle cx="54.9" cy="506.7" r="0.81" fill="#e01020" opacity="0.88"/>
<circle cx="41.3" cy="547.6" r="0.47" fill="#e01020" opacity="0.87"/>
<ellipse cx="27" cy="512" rx="4" ry="5" fill="none" stroke="#e81828" stroke-width="1.0" stroke-dasharray="12 4"/>
<ellipse cx="28" cy="510" rx="3.5" ry="3" fill="none" stroke="#e8a020" stroke-width="0.8" stroke-dasharray="4 14"/>
<ellipse cx="74" cy="548" rx="5" ry="5" fill="none" stroke="#e81828" stroke-width="1.0" stroke-dasharray="14 4"/>
<ellipse cx="85" cy="557" rx="4" ry="5" fill="none" stroke="#e81828" stroke-width="1.0" stroke-dasharray="12 5"/>
<ellipse cx="48" cy="531" rx="3.5" ry="4" fill="none" stroke="#d01828" stroke-width="0.8" stroke-dasharray="7 5"/>
<ellipse cx="37" cy="558" rx="4" ry="2.5" fill="none" stroke="#20a030" stroke-width="0.9" stroke-dasharray="2 2"/>
<ellipse cx="75" cy="512" rx="3" ry="2" fill="none" stroke="#20a030" stroke-width="0.8" stroke-dasharray="2 2"/>
</g>
<clipPath id="cl22"><rect x="113.2" y="503" width="108.60000000000001" height="74.39999999999998"/></clipPath>
<g clip-path="url(#cl22)" filter="url(#bl)">
<circle cx="217.3" cy="513.4" r="0.44" fill="#0820c8" opacity="0.81"/>
<circle cx="193.5" cy="568.4" r="0.77" fill="none" stroke="#20c8f0" stroke-width="0.53" opacity="0.97"/>
<circle cx="178.5" cy="572.3" r="0.71" fill="none" stroke="#0a18e0" stroke-width="0.49" opacity="0.73"/>
<circle cx="141.9" cy="534.4" r="0.55" fill="#2a78f0" opacity="0.96"/>
<circle cx="197.3" cy="574.5" r="0.81" fill="#1030f0" opacity="0.52"/>
<circle cx="147.1" cy="561.1" r="0.86" fill="none" stroke="#0820c8" stroke-width="0.59" opacity="0.53"/>
<circle cx="188.3" cy="535.1" r="0.66" fill="#0614b0" opacity="0.95"/>
<circle cx="168.2" cy="541.5" r="0.70" fill="#0820c8" opacity="0.55"/>
<circle cx="153.8" cy="546.3" r="0.63" fill="#0614b0" opacity="0.84"/>
<circle cx="210.9" cy="534.8" r="0.49" fill="#0a18e0" opacity="0.63"/>
<circle cx="156.9" cy="572.2" r="1.07" fill="#0614b0" opacity="0.35"/>
<circle cx="134.2" cy="505.2" r="0.68" fill="#20c8f0" opacity="0.76"/>
<circle cx="161.4" cy="507.7" r="0.52" fill="#0820c8" opacity="0.78"/>
<circle cx="124.2" cy="517.5" r="0.51" fill="#2a78f0" opacity="0.65"/>
<circle cx="205.1" cy="540.1" r="0.78" fill="#0614b0" opacity="0.66"/>
<circle cx="120.4" cy="556.1" r="0.86" fill="none" stroke="#2a78f0" stroke-width="0.59" opacity="0.52"/>
<circle cx="133.5" cy="529.1" r="0.47" fill="#2a78f0" opacity="0.80"/>
<circle cx="160.4" cy="523.0" r="0.45" fill="#1030f0" opacity="0.79"/>
<circle cx="221.1" cy="542.8" r="0.76" fill="#1aa0e8" opacity="0.53"/>
<circle cx="123.8" cy="538.0" r="0.57" fill="#2a78f0" opacity="0.94"/>
<circle cx="170.2" cy="516.4" r="0.59" fill="#0a18e0" opacity="0.48"/>
<circle cx="195.1" cy="550.2" r="0.46" fill="#0614b0" opacity="0.65"/>
<circle cx="140.2" cy="520.2" r="0.61" fill="#2a78f0" opacity="0.72"/>
<circle cx="132.6" cy="574.6" r="0.64" fill="#1aa0e8" opacity="0.74"/>
<circle cx="117.8" cy="539.2" r="0.45" fill="#0a18e0" opacity="0.49"/>
<circle cx="201.3" cy="536.7" r="0.70" fill="none" stroke="#0614b0" stroke-width="0.48" opacity="0.44"/>
<circle cx="207.0" cy="563.8" r="0.43" fill="#2a78f0" opacity="0.42"/>
<circle cx="205.1" cy="574.0" r="0.85" fill="#1030f0" opacity="0.90"/>
<circle cx="133.7" cy="523.7" r="0.53" fill="#0614b0" opacity="0.80"/>
<circle cx="202.0" cy="575.4" r="0.55" fill="#0a18e0" opacity="0.60"/>
<circle cx="184.4" cy="517.5" r="0.53" fill="#20c8f0" opacity="0.57"/>
<circle cx="119.1" cy="542.0" r="1.00" fill="#20c8f0" opacity="0.91"/>
<circle cx="170.5" cy="560.1" r="0.44" fill="#0a18e0" opacity="0.87"/>
<circle cx="202.8" cy="510.3" r="0.47" fill="#2a78f0" opacity="0.55"/>
<circle cx="147.1" cy="570.9" r="0.82" fill="#1030f0" opacity="0.56"/>
<circle cx="199.3" cy="506.9" r="0.58" fill="#1030f0" opacity="0.79"/>
<circle cx="113.6" cy="521.0" r="0.51" fill="#1aa0e8" opacity="0.96"/>
<circle cx="125.4" cy="570.5" r="0.99" fill="#0820c8" opacity="0.66"/>
<circle cx="151.6" cy="563.5" r="0.63" fill="#1030f0" opacity="0.94"/>
<circle cx="163.6" cy="523.8" r="0.79" fill="#1aa0e8" opacity="0.84"/>
<circle cx="173.6" cy="536.1" r="0.60" fill="#1aa0e8" opacity="0.42"/>
<circle cx="165.4" cy="562.6" r="0.77" fill="#20c8f0" opacity="0.48"/>
<circle cx="127.6" cy="552.6" r="1.03" fill="#0a18e0" opacity="0.61"/>
<circle cx="205.8" cy="535.8" r="0.57" fill="#0a18e0" opacity="0.42"/>
<circle cx="204.8" cy="559.1" r="0.48" fill="#1030f0" opacity="0.76"/>
<circle cx="115.4" cy="571.5" r="0.66" fill="none" stroke="#1aa0e8" stroke-width="0.45" opacity="0.73"/>
<circle cx="199.3" cy="557.9" r="0.73" fill="#0614b0" opacity="0.78"/>
<circle cx="162.2" cy="562.5" r="0.71" fill="#0820c8" opacity="0.86"/>
<circle cx="137.7" cy="542.4" r="0.71" fill="none" stroke="#0820c8" stroke-width="0.49" opacity="0.75"/>
<circle cx="163.2" cy="563.1" r="1.09" fill="#2a78f0" opacity="0.50"/>
<circle cx="127.1" cy="557.8" r="0.46" fill="#1030f0" opacity="0.77"/>
<circle cx="125.0" cy="563.0" r="0.77" fill="#0614b0" opacity="0.43"/>
<circle cx="153.7" cy="551.3" r="0.60" fill="#20c8f0" opacity="1.00"/>
<circle cx="149.6" cy="539.0" r="0.54" fill="#0a18e0" opacity="0.52"/>
<circle cx="126.3" cy="515.6" r="0.91" fill="#1030f0" opacity="0.80"/>
<circle cx="148.6" cy="561.3" r="0.64" fill="#0a18e0" opacity="0.75"/>
<circle cx="152.6" cy="503.7" r="0.79" fill="#0614b0" opacity="0.76"/>
<circle cx="149.6" cy="535.0" r="0.92" fill="#20c8f0" opacity="0.52"/>
<circle cx="179.9" cy="523.3" r="0.92" fill="#20c8f0" opacity="0.68"/>
<circle cx="188.1" cy="543.0" r="0.53" fill="#0a18e0" opacity="0.64"/>
<circle cx="155.0" cy="508.5" r="0.68" fill="none" stroke="#0614b0" stroke-width="0.47" opacity="0.49"/>
<circle cx="174.2" cy="570.2" r="1.06" fill="#0a18e0" opacity="0.38"/>
<circle cx="147.5" cy="564.9" r="0.73" fill="#1aa0e8" opacity="1.00"/>
<circle cx="134.2" cy="534.4" r="0.86" fill="#1030f0" opacity="0.55"/>
<circle cx="192.7" cy="530.3" r="0.48" fill="#0820c8" opacity="0.44"/>
<circle cx="159.0" cy="514.3" r="0.78" fill="none" stroke="#1030f0" stroke-width="0.54" opacity="0.83"/>
<circle cx="210.9" cy="563.2" r="0.78" fill="#0614b0" opacity="0.47"/>
<circle cx="136.2" cy="557.6" r="0.46" fill="#20c8f0" opacity="0.43"/>
<circle cx="151.2" cy="511.3" r="0.58" fill="#20c8f0" opacity="0.46"/>
<circle cx="141.3" cy="570.8" r="0.96" fill="#0614b0" opacity="0.42"/>
<circle cx="128.0" cy="513.0" r="0.95" fill="#1030f0" opacity="0.58"/>
<circle cx="180.0" cy="552.8" r="0.71" fill="none" stroke="#0820c8" stroke-width="0.49" opacity="0.48"/>
<circle cx="130.1" cy="521.8" r="1.08" fill="#0820c8" opacity="0.95"/>
<circle cx="203.8" cy="524.8" r="0.51" fill="#1aa0e8" opacity="0.83"/>
<circle cx="115.5" cy="550.2" r="0.68" fill="none" stroke="#0614b0" stroke-width="0.46" opacity="0.69"/>
<circle cx="169.0" cy="520.8" r="0.64" fill="#1aa0e8" opacity="0.41"/>
<circle cx="195.3" cy="535.9" r="0.78" fill="none" stroke="#1030f0" stroke-width="0.53" opacity="0.50"/>
<circle cx="177.9" cy="553.3" r="0.89" fill="#0a18e0" opacity="0.37"/>
<circle cx="169.8" cy="531.7" r="0.67" fill="#0a18e0" opacity="0.59"/>
<circle cx="216.1" cy="548.3" r="0.67" fill="#2a78f0" opacity="0.85"/>
<circle cx="123.4" cy="525.0" r="0.67" fill="none" stroke="#0614b0" stroke-width="0.46" opacity="0.56"/>
<circle cx="152.7" cy="512.0" r="0.61" fill="#1030f0" opacity="0.53"/>
<circle cx="121.1" cy="558.0" r="0.87" fill="none" stroke="#0614b0" stroke-width="0.60" opacity="0.71"/>
<circle cx="201.1" cy="510.3" r="0.53" fill="#1aa0e8" opacity="0.50"/>
<circle cx="160.0" cy="509.6" r="0.68" fill="#0614b0" opacity="0.64"/>
<circle cx="218.8" cy="536.7" r="0.97" fill="#0a18e0" opacity="0.67"/>
<circle cx="215.0" cy="562.6" r="0.80" fill="#1030f0" opacity="0.99"/>
<circle cx="178.0" cy="547.2" r="0.69" fill="#0614b0" opacity="0.59"/>
<circle cx="211.4" cy="557.1" r="0.86" fill="none" stroke="#0a18e0" stroke-width="0.59" opacity="0.59"/>
<circle cx="185.0" cy="558.9" r="0.92" fill="#0a18e0" opacity="0.66"/>
<circle cx="198.2" cy="503.8" r="0.59" fill="#1aa0e8" opacity="0.38"/>
<circle cx="132.9" cy="518.6" r="0.57" fill="#0a18e0" opacity="0.58"/>
<circle cx="116.1" cy="559.2" r="0.71" fill="#0820c8" opacity="0.72"/>
<circle cx="200.6" cy="541.0" r="0.82" fill="#2a78f0" opacity="0.55"/>
<circle cx="149.3" cy="574.9" r="0.74" fill="none" stroke="#0820c8" stroke-width="0.51" opacity="0.70"/>
<circle cx="167.5" cy="554.5" r="0.49" fill="#20c8f0" opacity="0.47"/>
<circle cx="162.0" cy="562.8" r="0.80" fill="#1aa0e8" opacity="0.54"/>
<circle cx="181.0" cy="553.1" r="0.59" fill="#0a18e0" opacity="0.54"/>
<circle cx="186.3" cy="549.5" r="0.68" fill="none" stroke="#0820c8" stroke-width="0.47" opacity="1.00"/>
<circle cx="182.2" cy="525.2" r="0.77" fill="#0820c8" opacity="0.78"/>
<circle cx="198.5" cy="536.2" r="0.57" fill="#2a78f0" opacity="0.92"/>
<circle cx="115.1" cy="545.8" r="1.06" fill="#0820c8" opacity="0.52"/>
<circle cx="155.6" cy="573.6" r="0.61" fill="#1aa0e8" opacity="0.89"/>
<circle cx="176.6" cy="535.7" r="0.81" fill="#1030f0" opacity="0.83"/>
<circle cx="198.8" cy="521.9" r="0.45" fill="#1aa0e8" opacity="0.42"/>
<circle cx="174.8" cy="561.5" r="0.76" fill="#1030f0" opacity="0.84"/>
<circle cx="182.4" cy="525.6" r="0.78" fill="#0820c8" opacity="0.77"/>
<circle cx="197.4" cy="555.2" r="1.05" fill="#0820c8" opacity="0.96"/>
<circle cx="177.5" cy="566.5" r="0.72" fill="none" stroke="#1030f0" stroke-width="0.50" opacity="0.68"/>
<circle cx="166.4" cy="556.2" r="0.63" fill="#1030f0" opacity="0.70"/>
<circle cx="200.2" cy="569.3" r="1.08" fill="#20c8f0" opacity="0.86"/>
<circle cx="160.4" cy="520.3" r="0.76" fill="#0a18e0" opacity="0.96"/>
<circle cx="140.7" cy="547.1" r="0.79" fill="#2a78f0" opacity="0.80"/>
<circle cx="148.6" cy="535.4" r="0.70" fill="#0614b0" opacity="0.89"/>
<circle cx="204.3" cy="566.8" r="0.73" fill="#2a78f0" opacity="0.80"/>
<circle cx="139.9" cy="572.7" r="0.55" fill="#1030f0" opacity="0.38"/>
<circle cx="182.0" cy="562.1" r="0.45" fill="#2a78f0" opacity="0.71"/>
<circle cx="122.1" cy="572.5" r="0.68" fill="#20c8f0" opacity="0.58"/>
<circle cx="165.2" cy="546.9" r="0.62" fill="#0820c8" opacity="0.90"/>
<circle cx="132.4" cy="540.4" r="0.94" fill="#1030f0" opacity="0.76"/>
<circle cx="185.7" cy="569.5" r="1.10" fill="#0a18e0" opacity="0.64"/>
<circle cx="219.9" cy="539.9" r="0.56" fill="#0614b0" opacity="0.68"/>
<circle cx="118.4" cy="572.0" r="0.51" fill="#0820c8" opacity="1.00"/>
<circle cx="141.8" cy="530.8" r="0.67" fill="#1aa0e8" opacity="0.81"/>
<circle cx="118.7" cy="557.1" r="0.97" fill="#2a78f0" opacity="0.84"/>
<circle cx="130.0" cy="562.1" r="0.95" fill="#1aa0e8" opacity="0.79"/>
<circle cx="207.0" cy="542.5" r="0.59" fill="#0a18e0" opacity="0.78"/>
<circle cx="184.1" cy="571.3" r="0.88" fill="none" stroke="#0820c8" stroke-width="0.60" opacity="0.84"/>
<circle cx="164.8" cy="510.5" r="0.79" fill="#2a78f0" opacity="0.36"/>
<circle cx="186.9" cy="540.2" r="0.53" fill="#2a78f0" opacity="0.38"/>
<circle cx="115.2" cy="554.9" r="0.62" fill="#0614b0" opacity="0.99"/>
<circle cx="175.7" cy="577.0" r="0.45" fill="#2a78f0" opacity="0.67"/>
<circle cx="148.5" cy="521.1" r="0.73" fill="#1aa0e8" opacity="0.86"/>
<circle cx="195.2" cy="569.7" r="0.47" fill="#1030f0" opacity="0.46"/>
<circle cx="206.2" cy="576.4" r="0.73" fill="#0614b0" opacity="0.68"/>
<circle cx="149.9" cy="519.1" r="0.53" fill="#0a18e0" opacity="0.56"/>
<circle cx="200.7" cy="513.3" r="0.55" fill="#20c8f0" opacity="0.75"/>
<circle cx="204.7" cy="539.1" r="0.68" fill="#1aa0e8" opacity="0.87"/>
<circle cx="188.7" cy="577.3" r="0.60" fill="#0614b0" opacity="0.59"/>
<circle cx="194.9" cy="519.0" r="0.49" fill="#2a78f0" opacity="0.85"/>
<circle cx="148.8" cy="551.3" r="0.77" fill="none" stroke="#0820c8" stroke-width="0.53" opacity="0.44"/>
<circle cx="189.2" cy="542.0" r="1.03" fill="#20c8f0" opacity="0.56"/>
<circle cx="129.2" cy="545.6" r="0.79" fill="#0a18e0" opacity="0.37"/>
<circle cx="115.6" cy="528.4" r="1.04" fill="#2a78f0" opacity="0.36"/>
<circle cx="132.2" cy="540.7" r="0.76" fill="#1030f0" opacity="0.52"/>
<circle cx="210.4" cy="547.2" r="0.79" fill="none" stroke="#0614b0" stroke-width="0.54" opacity="0.87"/>
<circle cx="125.5" cy="561.6" r="0.44" fill="#2a78f0" opacity="0.54"/>
<circle cx="135.7" cy="577.3" r="0.53" fill="#0820c8" opacity="0.89"/>
<circle cx="219.7" cy="540.1" r="0.48" fill="#20c8f0" opacity="0.35"/>
<circle cx="182.0" cy="541.7" r="0.93" fill="#2a78f0" opacity="0.42"/>
<circle cx="146.4" cy="544.6" r="0.57" fill="#20c8f0" opacity="0.39"/>
<circle cx="113.6" cy="560.2" r="0.69" fill="#0a18e0" opacity="0.85"/>
<circle cx="115.0" cy="561.3" r="0.82" fill="none" stroke="#0614b0" stroke-width="0.56" opacity="0.95"/>
<circle cx="190.1" cy="508.9" r="0.67" fill="#0a18e0" opacity="0.70"/>
<circle cx="116.6" cy="544.7" r="1.06" fill="#1aa0e8" opacity="0.43"/>
<circle cx="191.9" cy="517.4" r="1.07" fill="#0820c8" opacity="0.77"/>
<circle cx="123.1" cy="526.4" r="0.97" fill="#1030f0" opacity="0.96"/>
<circle cx="114.3" cy="537.6" r="0.88" fill="#1030f0" opacity="0.87"/>
<circle cx="196.2" cy="535.9" r="0.83" fill="none" stroke="#0a18e0" stroke-width="0.57" opacity="0.97"/>
<circle cx="189.7" cy="568.4" r="0.56" fill="#20c8f0" opacity="0.88"/>
<circle cx="154.7" cy="512.2" r="0.89" fill="#0820c8" opacity="0.64"/>
<circle cx="128.8" cy="559.2" r="0.81" fill="none" stroke="#0820c8" stroke-width="0.56" opacity="0.79"/>
<circle cx="149.0" cy="523.9" r="0.62" fill="#1030f0" opacity="0.42"/>
<circle cx="116.3" cy="525.7" r="1.07" fill="#0820c8" opacity="0.73"/>
<circle cx="193.0" cy="568.5" r="0.59" fill="#0820c8" opacity="0.86"/>
<circle cx="113.5" cy="533.1" r="0.89" fill="#2a78f0" opacity="0.63"/>
<circle cx="118.1" cy="575.9" r="0.70" fill="none" stroke="#20c8f0" stroke-width="0.48" opacity="0.74"/>
<circle cx="151.8" cy="512.9" r="0.51" fill="#20c8f0" opacity="0.43"/>
<circle cx="157.1" cy="519.8" r="0.66" fill="none" stroke="#0614b0" stroke-width="0.45" opacity="0.60"/>
<circle cx="148.7" cy="517.5" r="0.72" fill="#1030f0" opacity="0.68"/>
<circle cx="162.5" cy="516.2" r="0.80" fill="#1030f0" opacity="0.93"/>
<circle cx="177.4" cy="517.2" r="0.63" fill="#2a78f0" opacity="0.73"/>
<circle cx="200.6" cy="522.6" r="0.93" fill="#1030f0" opacity="0.91"/>
<circle cx="128.6" cy="542.9" r="0.92" fill="#1030f0" opacity="0.76"/>
<circle cx="132.3" cy="507.0" r="0.61" fill="#20c8f0" opacity="0.95"/>
<circle cx="148.8" cy="567.1" r="0.80" fill="none" stroke="#0614b0" stroke-width="0.55" opacity="0.82"/>
<circle cx="179.0" cy="511.9" r="1.09" fill="#2a78f0" opacity="0.80"/>
<circle cx="207.8" cy="557.2" r="0.69" fill="none" stroke="#20c8f0" stroke-width="0.47" opacity="0.42"/>
<circle cx="150.0" cy="517.4" r="0.59" fill="#0614b0" opacity="0.79"/>
<circle cx="207.2" cy="554.7" r="0.81" fill="none" stroke="#0820c8" stroke-width="0.56" opacity="0.73"/>
<circle cx="209.1" cy="516.5" r="1.03" fill="#20c8f0" opacity="0.37"/>
<circle cx="152.1" cy="530.5" r="0.74" fill="none" stroke="#20c8f0" stroke-width="0.51" opacity="0.72"/>
<circle cx="213.3" cy="515.4" r="0.53" fill="#0820c8" opacity="0.93"/>
<circle cx="216.2" cy="522.7" r="0.64" fill="#1030f0" opacity="0.37"/>
<circle cx="143.0" cy="537.8" r="0.71" fill="none" stroke="#1aa0e8" stroke-width="0.49" opacity="0.81"/>
<circle cx="144.4" cy="509.1" r="0.70" fill="#0a18e0" opacity="0.35"/>
<circle cx="214.2" cy="538.7" r="1.10" fill="#0614b0" opacity="0.43"/>
<circle cx="164.5" cy="565.8" r="0.58" fill="#1030f0" opacity="0.74"/>
<circle cx="186.6" cy="508.0" r="0.86" fill="none" stroke="#0a18e0" stroke-width="0.59" opacity="0.92"/>
<circle cx="217.8" cy="519.7" r="0.71" fill="#0614b0" opacity="0.87"/>
<circle cx="214.4" cy="509.5" r="1.04" fill="#20c8f0" opacity="0.74"/>
<circle cx="150.5" cy="531.7" r="0.65" fill="#0a18e0" opacity="0.84"/>
<circle cx="121.3" cy="508.2" r="0.61" fill="#0820c8" opacity="0.89"/>
<circle cx="207.2" cy="557.4" r="0.81" fill="#0614b0" opacity="0.41"/>
<circle cx="181.0" cy="555.1" r="1.07" fill="#0614b0" opacity="0.56"/>
<circle cx="175.0" cy="535.3" r="0.73" fill="#0614b0" opacity="0.87"/>
<circle cx="171.3" cy="522.9" r="0.53" fill="#0614b0" opacity="0.82"/>
<circle cx="173.5" cy="530.9" r="0.70" fill="none" stroke="#0a18e0" stroke-width="0.48" opacity="0.67"/>
<circle cx="125.9" cy="538.8" r="0.48" fill="#0614b0" opacity="0.62"/>
<circle cx="128.3" cy="510.4" r="0.47" fill="#1aa0e8" opacity="0.90"/>
<circle cx="116.6" cy="511.0" r="1.04" fill="#2a78f0" opacity="0.54"/>
<circle cx="163.2" cy="546.1" r="0.66" fill="none" stroke="#2a78f0" stroke-width="0.45" opacity="0.53"/>
<circle cx="174.0" cy="560.0" r="0.66" fill="#20c8f0" opacity="0.99"/>
<circle cx="220.7" cy="555.8" r="0.56" fill="#1aa0e8" opacity="0.71"/>
<circle cx="132.1" cy="533.5" r="0.85" fill="#0614b0" opacity="0.52"/>
<circle cx="119.0" cy="550.2" r="0.83" fill="none" stroke="#20c8f0" stroke-width="0.57" opacity="0.54"/>
<circle cx="188.7" cy="518.9" r="0.45" fill="#0614b0" opacity="0.62"/>
<circle cx="166.8" cy="560.4" r="0.47" fill="#1030f0" opacity="0.77"/>
<circle cx="209.9" cy="547.5" r="0.58" fill="#1030f0" opacity="0.66"/>
<circle cx="205.8" cy="572.7" r="0.60" fill="#2a78f0" opacity="0.93"/>
<circle cx="178.0" cy="561.2" r="0.76" fill="#20c8f0" opacity="0.93"/>
<circle cx="209.8" cy="563.4" r="0.93" fill="#0a18e0" opacity="0.77"/>
<circle cx="212.8" cy="551.6" r="0.87" fill="#0a18e0" opacity="0.80"/>
<circle cx="205.2" cy="529.6" r="1.07" fill="#1aa0e8" opacity="0.58"/>
<circle cx="118.3" cy="550.5" r="0.50" fill="#1030f0" opacity="0.78"/>
<circle cx="131.1" cy="576.9" r="0.74" fill="#2a78f0" opacity="0.45"/>
<circle cx="153.1" cy="566.4" r="0.65" fill="#1030f0" opacity="0.50"/>
<circle cx="189.1" cy="551.1" r="1.05" fill="#20c8f0" opacity="0.94"/>
<circle cx="154.4" cy="569.6" r="0.55" fill="#0a18e0" opacity="0.71"/>
<circle cx="162.4" cy="549.5" r="1.06" fill="#0820c8" opacity="0.46"/>
<circle cx="167.0" cy="526.2" r="0.52" fill="#0820c8" opacity="0.62"/>
<circle cx="160.3" cy="551.8" r="0.78" fill="#1aa0e8" opacity="0.89"/>
<circle cx="203.5" cy="559.0" r="0.71" fill="#0614b0" opacity="0.68"/>
<circle cx="176.7" cy="567.8" r="0.79" fill="none" stroke="#0a18e0" stroke-width="0.54" opacity="0.68"/>
<circle cx="117.7" cy="556.9" r="0.84" fill="none" stroke="#0614b0" stroke-width="0.58" opacity="0.69"/>
<circle cx="130.5" cy="548.6" r="0.71" fill="#0a18e0" opacity="0.40"/>
<circle cx="130.4" cy="575.7" r="0.50" fill="#2a78f0" opacity="0.72"/>
<circle cx="129.9" cy="564.8" r="0.54" fill="#2a78f0" opacity="0.53"/>
<circle cx="176.9" cy="575.9" r="0.61" fill="#0820c8" opacity="0.91"/>
<circle cx="115.2" cy="531.4" r="0.73" fill="#1030f0" opacity="0.53"/>
<circle cx="176.6" cy="531.8" r="0.74" fill="#2a78f0" opacity="0.45"/>
<circle cx="193.0" cy="545.7" r="0.49" fill="#0a18e0" opacity="0.71"/>
<circle cx="186.8" cy="529.8" r="0.62" fill="#0a18e0" opacity="0.36"/>
<circle cx="184.6" cy="555.7" r="1.08" fill="#1030f0" opacity="0.56"/>
<circle cx="171.0" cy="537.0" r="0.92" fill="#1aa0e8" opacity="0.77"/>
<circle cx="129.4" cy="514.0" r="0.43" fill="#1aa0e8" opacity="0.46"/>
<circle cx="169.3" cy="562.6" r="0.97" fill="#20c8f0" opacity="0.54"/>
<circle cx="194.9" cy="511.4" r="0.47" fill="#20c8f0" opacity="0.88"/>
<circle cx="194.4" cy="567.4" r="0.88" fill="#0a18e0" opacity="0.46"/>
<circle cx="215.9" cy="553.4" r="0.85" fill="#0a18e0" opacity="0.51"/>
<circle cx="171.1" cy="565.7" r="0.68" fill="#20c030" opacity="0.60"/>
<circle cx="145.8" cy="505.1" r="0.71" fill="#20c030" opacity="0.72"/>
<circle cx="220.7" cy="542.4" r="0.75" fill="#20c030" opacity="0.69"/>
<circle cx="123.9" cy="570.7" r="0.50" fill="#20c030" opacity="0.86"/>
<circle cx="115.8" cy="539.3" r="0.60" fill="#20c030" opacity="0.58"/>
<circle cx="208.5" cy="536.7" r="0.55" fill="#20c030" opacity="0.87"/>
<circle cx="140.3" cy="573.6" r="0.64" fill="#20c030" opacity="0.55"/>
<circle cx="187.5" cy="560.0" r="0.93" fill="#20c030" opacity="0.89"/>
<circle cx="145.4" cy="546.9" r="0.80" fill="#e01020" opacity="0.79"/>
<circle cx="136.9" cy="557.4" r="0.51" fill="#e01020" opacity="0.64"/>
<circle cx="144.4" cy="576.0" r="0.84" fill="#e01020" opacity="0.77"/>
<circle cx="202.3" cy="514.0" r="0.62" fill="#e01020" opacity="0.92"/>
<circle cx="195.5" cy="553.9" r="0.87" fill="#e01020" opacity="0.82"/>
<circle cx="184.9" cy="525.8" r="0.88" fill="#e01020" opacity="0.62"/>
<circle cx="113.8" cy="549.3" r="0.81" fill="#e01020" opacity="0.64"/>
<circle cx="221.1" cy="574.8" r="0.53" fill="#e01020" opacity="0.92"/>
<circle cx="127.3" cy="573.0" r="0.70" fill="#e01020" opacity="0.60"/>
<circle cx="198.0" cy="528.6" r="0.50" fill="#e01020" opacity="0.86"/>
<circle cx="220.6" cy="520.1" r="0.71" fill="#e01020" opacity="0.61"/>
<circle cx="201.5" cy="530.1" r="0.91" fill="#e01020" opacity="0.77"/>
<ellipse cx="190" cy="541" rx="4.5" ry="6" fill="none" stroke="#e81838" stroke-width="1.1" stroke-dasharray="16 4"/>
<ellipse cx="139" cy="555" rx="3.5" ry="4" fill="none" stroke="#d01828" stroke-width="0.7" stroke-dasharray="6 8"/>
<ellipse cx="171" cy="527" rx="2.5" ry="0.8" fill="none" stroke="#20c030" stroke-width="1.0"/>
<ellipse cx="207" cy="512" rx="0.8" ry="1.5" fill="none" stroke="#20d030" stroke-width="1.2"/>
</g>
<rect x="109.90" y="503.20" width="3.30" height="74.20" fill="#fff"/>
<rect x="71.60" y="571.30" width="36.00" height="3.30" fill="#fff"/>
<rect x="183.10" y="571.30" width="36.00" height="3.30" fill="#fff"/>
<text x="74.50" y="499.30" font-size="8.2" textLength="23.9" lengthAdjust="spacingAndGlyphs" fill="#e00010">F4/80</text>
<text x="100.70" y="499.30" font-size="8.2" textLength="27.9" lengthAdjust="spacingAndGlyphs" fill="#00b000">TREM2</text>
<text x="131.00" y="499.30" font-size="8.2" textLength="17.8" lengthAdjust="spacingAndGlyphs" fill="#0000e0">DAPI</text>
<text x="55.40" y="588.10" font-size="8.2" text-anchor="middle" textLength="40.2" lengthAdjust="spacingAndGlyphs" fill="#1a1a1a">AAV8-GFP</text>
<text x="166.90" y="588.10" font-size="8.2" text-anchor="middle" textLength="47.8" lengthAdjust="spacingAndGlyphs" fill="#1a1a1a">AAV8-AGXT</text>
<text x="231.80" y="361.40" font-size="11.5" font-weight="bold" fill="#000">e</text>
<line x1="274.20" y1="370.10" x2="274.20" y2="452.60" stroke="#8c8c8c" stroke-width="0.8"/>
<line x1="273.80" y1="452.30" x2="342.50" y2="452.30" stroke="#8c8c8c" stroke-width="0.8"/>
<line x1="271.20" y1="452.30" x2="274.20" y2="452.30" stroke="#8c8c8c" stroke-width="0.8"/>
<text x="268.30" y="455.20" font-size="8.2" text-anchor="end" fill="#1a1a1a">0</text>
<line x1="271.20" y1="425.00" x2="274.20" y2="425.00" stroke="#8c8c8c" stroke-width="0.8"/>
<text x="268.30" y="427.90" font-size="8.2" text-anchor="end" fill="#1a1a1a">0.5</text>
<line x1="271.20" y1="397.70" x2="274.20" y2="397.70" stroke="#8c8c8c" stroke-width="0.8"/>
<text x="268.30" y="400.60" font-size="8.2" text-anchor="end" fill="#1a1a1a">1.0</text>
<line x1="271.20" y1="370.40" x2="274.20" y2="370.40" stroke="#8c8c8c" stroke-width="0.8"/>
<text x="268.30" y="373.30" font-size="8.2" text-anchor="end" fill="#1a1a1a">1.5</text>
<rect x="285.20" y="397.70" width="20.80" height="54.60" fill="#ff0000" stroke="#000" stroke-width="0.7"/>
<rect x="311.70" y="423.09" width="20.90" height="29.21" fill="#0000ff" stroke="#000" stroke-width="0.7"/>
<line x1="295.50" y1="393.33" x2="295.50" y2="402.07" stroke="#000" stroke-width="0.7"/>
<line x1="292.90" y1="393.33" x2="298.10" y2="393.33" stroke="#000" stroke-width="0.7"/>
<line x1="292.90" y1="402.07" x2="298.10" y2="402.07" stroke="#000" stroke-width="0.7"/>
<line x1="322.30" y1="420.36" x2="322.30" y2="425.82" stroke="#000" stroke-width="0.7"/>
<line x1="319.70" y1="420.36" x2="324.90" y2="420.36" stroke="#000" stroke-width="0.7"/>
<line x1="319.70" y1="425.82" x2="324.90" y2="425.82" stroke="#000" stroke-width="0.7"/>
<circle cx="295.50" cy="380.77" r="1.7" fill="#fff" stroke="#000" stroke-width="0.75"/>
<circle cx="295.50" cy="384.60" r="1.7" fill="#fff" stroke="#000" stroke-width="0.75"/>
<circle cx="295.50" cy="387.87" r="1.7" fill="#fff" stroke="#000" stroke-width="0.75"/>
<circle cx="295.50" cy="391.69" r="1.7" fill="#fff" stroke="#000" stroke-width="0.75"/>
<circle cx="295.50" cy="394.97" r="1.7" fill="#fff" stroke="#000" stroke-width="0.75"/>
<circle cx="298.70" cy="398.79" r="1.7" fill="#fff" stroke="#000" stroke-width="0.75"/>
<circle cx="292.50" cy="402.07" r="1.7" fill="#fff" stroke="#000" stroke-width="0.75"/>
<circle cx="295.50" cy="407.53" r="1.7" fill="#fff" stroke="#000" stroke-width="0.75"/>
<circle cx="295.50" cy="421.72" r="1.7" fill="#fff" stroke="#000" stroke-width="0.75"/>
<circle cx="319.50" cy="416.26" r="1.7" fill="#fff" stroke="#000" stroke-width="0.75"/>
<circle cx="325.10" cy="416.26" r="1.7" fill="#fff" stroke="#000" stroke-width="0.75"/>
<circle cx="319.50" cy="421.18" r="1.7" fill="#fff" stroke="#000" stroke-width="0.75"/>
<circle cx="325.10" cy="421.18" r="1.7" fill="#fff" stroke="#000" stroke-width="0.75"/>
<circle cx="319.50" cy="431.01" r="1.7" fill="#fff" stroke="#000" stroke-width="0.75"/>
<circle cx="325.10" cy="431.01" r="1.7" fill="#fff" stroke="#000" stroke-width="0.75"/>
<line x1="295.50" y1="452.30" x2="295.50" y2="455.60" stroke="#8c8c8c" stroke-width="0.8"/>
<line x1="322.30" y1="452.30" x2="322.30" y2="455.60" stroke="#8c8c8c" stroke-width="0.8"/>
<text x="259.50" y="466.30" font-size="8.2" textLength="23.3" lengthAdjust="spacingAndGlyphs" fill="#1a1a1a">AAV8:</text>
<text x="295.50" y="466.30" font-size="8.2" text-anchor="middle" textLength="16.5" lengthAdjust="spacingAndGlyphs" fill="#1a1a1a">GFP</text>
<text x="322.50" y="466.30" font-size="8.2" text-anchor="middle" textLength="22.5" lengthAdjust="spacingAndGlyphs" fill="#1a1a1a">AGXT</text>
<text x="286.70" y="367.40" font-size="8.4" fill="#1a1a1a" textLength="42.0" lengthAdjust="spacingAndGlyphs"><tspan font-style="italic">P</tspan> = 0.0010</text>
<path d="M295.50 376.60V370.90H322.40V412.60" fill="none" stroke="#8c8c8c" stroke-width="0.7"/>
<text x="242.2" y="411.50" font-size="8.2" fill="#1a1a1a" text-anchor="middle" transform="rotate(-90 242.2 411.50)" textLength="72" lengthAdjust="spacingAndGlyphs">Fold F4/80<tspan font-size="5.3" dy="-2.8">+</tspan><tspan dy="2.8">CCR2</tspan><tspan font-size="5.3" dy="-2.8">+</tspan></text>
<text x="251.60" y="411.50" font-size="8.6" text-anchor="middle" transform="rotate(-90 251.60 411.50)" fill="#1a1a1a">cells</text>
<text x="231.80" y="486.40" font-size="11.5" font-weight="bold" fill="#000">g</text>
<line x1="274.20" y1="496.10" x2="274.20" y2="578.60" stroke="#8c8c8c" stroke-width="0.8"/>
<line x1="273.80" y1="578.30" x2="342.50" y2="578.30" stroke="#8c8c8c" stroke-width="0.8"/>
<line x1="271.20" y1="578.30" x2="274.20" y2="578.30" stroke="#8c8c8c" stroke-width="0.8"/>
<text x="268.30" y="581.20" font-size="8.2" text-anchor="end" fill="#1a1a1a">0</text>
<line x1="271.20" y1="551.00" x2="274.20" y2="551.00" stroke="#8c8c8c" stroke-width="0.8"/>
<text x="268.30" y="553.90" font-size="8.2" text-anchor="end" fill="#1a1a1a">0.5</text>
<line x1="271.20" y1="523.70" x2="274.20" y2="523.70" stroke="#8c8c8c" stroke-width="0.8"/>
<text x="268.30" y="526.60" font-size="8.2" text-anchor="end" fill="#1a1a1a">1.0</text>
<line x1="271.20" y1="496.40" x2="274.20" y2="496.40" stroke="#8c8c8c" stroke-width="0.8"/>
<text x="268.30" y="499.30" font-size="8.2" text-anchor="end" fill="#1a1a1a">1.5</text>
<rect x="285.20" y="523.70" width="20.80" height="54.60" fill="#ff0000" stroke="#000" stroke-width="0.7"/>
<rect x="311.70" y="541.17" width="20.90" height="37.13" fill="#0000ff" stroke="#000" stroke-width="0.7"/>
<line x1="295.50" y1="519.88" x2="295.50" y2="527.52" stroke="#000" stroke-width="0.7"/>
<line x1="292.90" y1="519.88" x2="298.10" y2="519.88" stroke="#000" stroke-width="0.7"/>
<line x1="292.90" y1="527.52" x2="298.10" y2="527.52" stroke="#000" stroke-width="0.7"/>
<line x1="322.30" y1="537.35" x2="322.30" y2="544.99" stroke="#000" stroke-width="0.7"/>
<line x1="319.70" y1="537.35" x2="324.90" y2="537.35" stroke="#000" stroke-width="0.7"/>
<line x1="319.70" y1="544.99" x2="324.90" y2="544.99" stroke="#000" stroke-width="0.7"/>
<circle cx="295.50" cy="506.77" r="1.7" fill="#fff" stroke="#000" stroke-width="0.75"/>
<circle cx="295.50" cy="510.60" r="1.7" fill="#fff" stroke="#000" stroke-width="0.75"/>
<circle cx="295.50" cy="517.69" r="1.7" fill="#fff" stroke="#000" stroke-width="0.75"/>
<circle cx="295.50" cy="522.06" r="1.7" fill="#fff" stroke="#000" stroke-width="0.75"/>
<circle cx="289.70" cy="530.80" r="1.7" fill="#fff" stroke="#000" stroke-width="0.75"/>
<circle cx="295.50" cy="532.98" r="1.7" fill="#fff" stroke="#000" stroke-width="0.75"/>
<circle cx="301.30" cy="533.53" r="1.7" fill="#fff" stroke="#000" stroke-width="0.75"/>
<circle cx="289.70" cy="535.71" r="1.7" fill="#fff" stroke="#000" stroke-width="0.75"/>
<circle cx="322.30" cy="530.80" r="1.7" fill="#fff" stroke="#000" stroke-width="0.75"/>
<circle cx="316.50" cy="537.35" r="1.7" fill="#fff" stroke="#000" stroke-width="0.75"/>
<circle cx="328.10" cy="537.35" r="1.7" fill="#fff" stroke="#000" stroke-width="0.75"/>
<circle cx="322.30" cy="540.08" r="1.7" fill="#fff" stroke="#000" stroke-width="0.75"/>
<circle cx="322.30" cy="542.81" r="1.7" fill="#fff" stroke="#000" stroke-width="0.75"/>
<circle cx="322.30" cy="558.10" r="1.7" fill="#fff" stroke="#000" stroke-width="0.75"/>
<line x1="295.50" y1="578.30" x2="295.50" y2="581.60" stroke="#8c8c8c" stroke-width="0.8"/>
<line x1="322.30" y1="578.30" x2="322.30" y2="581.60" stroke="#8c8c8c" stroke-width="0.8"/>
<text x="259.50" y="592.40" font-size="8.2" textLength="23.3" lengthAdjust="spacingAndGlyphs" fill="#1a1a1a">AAV8:</text>
<text x="295.50" y="592.40" font-size="8.2" text-anchor="middle" textLength="16.5" lengthAdjust="spacingAndGlyphs" fill="#1a1a1a">GFP</text>
<text x="322.50" y="592.40" font-size="8.2" text-anchor="middle" textLength="22.5" lengthAdjust="spacingAndGlyphs" fill="#1a1a1a">AGXT</text>
<text x="287.30" y="493.70" font-size="8.4" fill="#1a1a1a" textLength="43.5" lengthAdjust="spacingAndGlyphs"><tspan font-style="italic">P</tspan> = 0.0099</text>
<path d="M295.40 501.90V496.90H322.30V525.80" fill="none" stroke="#8c8c8c" stroke-width="0.7"/>
<text x="242.2" y="538.50" font-size="8.2" fill="#1a1a1a" text-anchor="middle" transform="rotate(-90 242.2 538.50)" textLength="79" lengthAdjust="spacingAndGlyphs">Fold F4/80<tspan font-size="5.3" dy="-2.8">+</tspan><tspan dy="2.8">TREM2</tspan><tspan font-size="5.3" dy="-2.8">+</tspan></text>
<text x="251.60" y="538.50" font-size="8.6" text-anchor="middle" transform="rotate(-90 251.60 538.50)" fill="#1a1a1a">cells</text>
<text x="0.30" y="613.80" font-size="11.5" font-weight="bold" fill="#000">h</text>
<line x1="33.20" y1="638.80" x2="33.20" y2="714.40" stroke="#8c8c8c" stroke-width="0.8"/>
<line x1="32.80" y1="714.10" x2="106.00" y2="714.10" stroke="#8c8c8c" stroke-width="0.8"/>
<line x1="30.20" y1="714.10" x2="33.20" y2="714.10" stroke="#8c8c8c" stroke-width="0.8"/>
<text x="27.20" y="717.00" font-size="8.2" text-anchor="end" fill="#1a1a1a">0</text>
<line x1="30.20" y1="689.10" x2="33.20" y2="689.10" stroke="#8c8c8c" stroke-width="0.8"/>
<text x="27.20" y="692.00" font-size="8.2" text-anchor="end" fill="#1a1a1a">1.0</text>
<line x1="30.20" y1="664.10" x2="33.20" y2="664.10" stroke="#8c8c8c" stroke-width="0.8"/>
<text x="27.20" y="667.00" font-size="8.2" text-anchor="end" fill="#1a1a1a">2.0</text>
<line x1="30.20" y1="639.10" x2="33.20" y2="639.10" stroke="#8c8c8c" stroke-width="0.8"/>
<text x="27.20" y="642.00" font-size="8.2" text-anchor="end" fill="#1a1a1a">3.0</text>
<rect x="44.70" y="689.10" width="22.20" height="25.00" fill="#0000ff" stroke="#000" stroke-width="0.7"/>
<rect x="72.80" y="655.85" width="22.20" height="58.25" fill="#ff0000" stroke="#000" stroke-width="0.7"/>
<line x1="83.90" y1="651.35" x2="83.90" y2="660.35" stroke="#000" stroke-width="0.7"/>
<line x1="81.30" y1="651.35" x2="86.50" y2="651.35" stroke="#000" stroke-width="0.7"/>
<line x1="81.30" y1="660.35" x2="86.50" y2="660.35" stroke="#000" stroke-width="0.7"/>
<circle cx="48.00" cy="689.10" r="1.5" fill="#fff" stroke="#000" stroke-width="0.75"/>
<circle cx="52.90" cy="689.10" r="1.5" fill="#fff" stroke="#000" stroke-width="0.75"/>
<circle cx="58.80" cy="689.10" r="1.5" fill="#fff" stroke="#000" stroke-width="0.75"/>
<circle cx="63.90" cy="689.10" r="1.5" fill="#fff" stroke="#000" stroke-width="0.75"/>
<circle cx="83.70" cy="644.85" r="1.5" fill="#fff" stroke="#000" stroke-width="0.75"/>
<circle cx="83.70" cy="652.60" r="1.5" fill="#fff" stroke="#000" stroke-width="0.75"/>
<circle cx="83.70" cy="660.85" r="1.5" fill="#fff" stroke="#000" stroke-width="0.75"/>
<circle cx="83.70" cy="664.60" r="1.5" fill="#fff" stroke="#000" stroke-width="0.75"/>
<text x="47.30" y="629.80" font-size="8.4" fill="#1a1a1a" textLength="43.9" lengthAdjust="spacingAndGlyphs"><tspan font-style="italic">P</tspan> = 0.0003</text>
<path d="M55.40 687.00V634.60H83.50V641.00" fill="none" stroke="#8c8c8c" stroke-width="0.7"/>
<text x="10" y="676.8" font-size="8.4" fill="#1a1a1a" text-anchor="middle" transform="rotate(-90 10 676.8)" textLength="41" lengthAdjust="spacingAndGlyphs">Fold <tspan font-style="italic">CCL2</tspan></text>
<text x="54.40" y="727.80" font-size="8.4" text-anchor="middle" textLength="29.5" lengthAdjust="spacingAndGlyphs" fill="#1a1a1a">Control</text>
<text x="85.10" y="727.80" font-size="8.4" text-anchor="middle" textLength="23.5" lengthAdjust="spacingAndGlyphs" fill="#1a1a1a">NaOX</text>
<text x="127.00" y="613.80" font-size="11.5" font-weight="bold" fill="#000">i</text>
<path d="M129.9 660.8 V685.5 A28 6.6 0 0 0 185.9 685.5 V660.8 A28 6.6 0 0 0 129.9 660.8Z" fill="#f9cfcf"/>
<ellipse cx="157.9" cy="660.8" rx="28" ry="6.6" fill="#fbdcdc"/>
<ellipse cx="157.9" cy="685.5" rx="28" ry="6.6" fill="#b97d7d"/>
<ellipse cx="158" cy="640.6" rx="29.8" ry="7.8" fill="#c3d3ee" stroke="#4e8fd6" stroke-width="1.2"/>
<path d="M138.6 640.3 L145.6 681.8 Q157 686 168.2 681.8 L175.4 640.3 A18.4 4.2 0 0 1 138.6 640.3Z" fill="#b9cdea" fill-opacity="0.85" stroke="#4e8fd6" stroke-width="0.9"/>
<ellipse cx="157" cy="640.3" rx="18.4" ry="4.2" fill="#b4c8e8" stroke="#4e8fd6" stroke-width="0.9"/>
<circle cx="148" cy="670" r="1.35" fill="#8fd13f"/>
<circle cx="151.5" cy="668" r="1.35" fill="#8fd13f"/>
<circle cx="155" cy="671" r="1.35" fill="#8fd13f"/>
<circle cx="158.5" cy="668.5" r="1.35" fill="#8fd13f"/>
<circle cx="162" cy="670.5" r="1.35" fill="#8fd13f"/>
<circle cx="165.5" cy="668" r="1.35" fill="#8fd13f"/>
<circle cx="149.5" cy="674" r="1.35" fill="#8fd13f"/>
<circle cx="153" cy="676" r="1.35" fill="#8fd13f"/>
<circle cx="156.5" cy="674.5" r="1.35" fill="#8fd13f"/>
<circle cx="160" cy="676.5" r="1.35" fill="#8fd13f"/>
<circle cx="163.5" cy="674" r="1.35" fill="#8fd13f"/>
<circle cx="166" cy="677" r="1.35" fill="#8fd13f"/>
<circle cx="150.5" cy="679.5" r="1.35" fill="#8fd13f"/>
<circle cx="154" cy="681" r="1.35" fill="#8fd13f"/>
<circle cx="158" cy="679.8" r="1.35" fill="#8fd13f"/>
<circle cx="162" cy="681" r="1.35" fill="#8fd13f"/>
<circle cx="165" cy="680" r="1.35" fill="#8fd13f"/>
<circle cx="147" cy="666" r="1.35" fill="#8fd13f"/>
<circle cx="168" cy="672" r="1.35" fill="#8fd13f"/>
<circle cx="157" cy="665.5" r="1.35" fill="#8fd13f"/>
<circle cx="161" cy="664.8" r="1.35" fill="#8fd13f"/>
<circle cx="152.5" cy="664.5" r="1.35" fill="#8fd13f"/>
<circle cx="139" cy="681.5" r="1.35" fill="#8fd13f"/>
<circle cx="143.5" cy="687.8" r="1.35" fill="#8fd13f"/>
<circle cx="160" cy="690.3" r="1.35" fill="#8fd13f"/>
<circle cx="169.3" cy="688.2" r="1.35" fill="#8fd13f"/>
<circle cx="170.5" cy="682" r="1.35" fill="#8fd13f"/>
<circle cx="179.8" cy="684.8" r="1.35" fill="#8fd13f"/>
<circle cx="152" cy="687.3" r="1.35" fill="#8fd13f"/>
<line x1="153.00" y1="662.50" x2="153.00" y2="686.50" stroke="#38465e" stroke-width="1.4"/>
<path d="M150.5 684.8 L153 689.8 L155.5 684.8Z" fill="#38465e"/>
<line x1="162.20" y1="662.50" x2="162.20" y2="686.50" stroke="#38465e" stroke-width="1.4"/>
<path d="M159.7 684.8 L162.2 689.8 L164.7 684.8Z" fill="#38465e"/>
<text x="157.40" y="658.90" font-size="8.2" text-anchor="middle" textLength="27.5" lengthAdjust="spacingAndGlyphs" fill="#1a1a1a">hPBMs</text>
<text x="157.40" y="704.90" font-size="8.4" text-anchor="middle" textLength="31.5" lengthAdjust="spacingAndGlyphs" fill="#1a1a1a">HepG2s</text>
<text x="157.40" y="714.40" font-size="8.4" text-anchor="middle" textLength="58.0" lengthAdjust="spacingAndGlyphs" fill="#1a1a1a">(–) or (+) NaOX</text>
<text x="157.70" y="724.40" font-size="8.4" text-anchor="middle" textLength="62.0" lengthAdjust="spacingAndGlyphs" fill="#1a1a1a">siCTL or siCCL2</text>
<text x="216.00" y="613.00" font-size="11.5" font-weight="bold" fill="#000">j</text>
<line x1="258.10" y1="630.20" x2="258.10" y2="697.40" stroke="#8c8c8c" stroke-width="0.8"/>
<line x1="257.70" y1="697.10" x2="340.00" y2="697.10" stroke="#8c8c8c" stroke-width="0.8"/>
<line x1="254.90" y1="697.10" x2="258.10" y2="697.10" stroke="#8c8c8c" stroke-width="0.8"/>
<text x="251.50" y="700.00" font-size="8.2" text-anchor="end" fill="#1a1a1a">0</text>
<line x1="254.90" y1="680.45" x2="258.10" y2="680.45" stroke="#8c8c8c" stroke-width="0.8"/>
<text x="251.50" y="683.35" font-size="8.2" text-anchor="end" fill="#1a1a1a">0.5</text>
<line x1="254.90" y1="663.80" x2="258.10" y2="663.80" stroke="#8c8c8c" stroke-width="0.8"/>
<text x="251.50" y="666.70" font-size="8.2" text-anchor="end" fill="#1a1a1a">1.0</text>
<line x1="254.90" y1="647.15" x2="258.10" y2="647.15" stroke="#8c8c8c" stroke-width="0.8"/>
<text x="251.50" y="650.05" font-size="8.2" text-anchor="end" fill="#1a1a1a">1.5</text>
<line x1="254.90" y1="630.50" x2="258.10" y2="630.50" stroke="#8c8c8c" stroke-width="0.8"/>
<text x="251.50" y="633.40" font-size="8.2" text-anchor="end" fill="#1a1a1a">2.0</text>
<rect x="265.40" y="659.47" width="14.60" height="37.63" fill="#0000ff" stroke="#000" stroke-width="0.7"/>
<line x1="272.70" y1="657.81" x2="272.70" y2="661.14" stroke="#000" stroke-width="0.7"/>
<line x1="270.30" y1="657.81" x2="275.10" y2="657.81" stroke="#000" stroke-width="0.7"/>
<line x1="270.30" y1="661.14" x2="275.10" y2="661.14" stroke="#000" stroke-width="0.7"/>
<circle cx="266.90" cy="655.81" r="1.45" fill="#fff" stroke="#000" stroke-width="0.75"/>
<circle cx="278.90" cy="656.81" r="1.45" fill="#fff" stroke="#000" stroke-width="0.75"/>
<circle cx="272.70" cy="659.14" r="1.45" fill="#fff" stroke="#000" stroke-width="0.75"/>
<circle cx="272.70" cy="665.13" r="1.45" fill="#fff" stroke="#000" stroke-width="0.75"/>
<line x1="272.70" y1="697.10" x2="272.70" y2="700.30" stroke="#8c8c8c" stroke-width="0.8"/>
<rect x="284.00" y="649.48" width="14.60" height="47.62" fill="#ff0000" stroke="#000" stroke-width="0.7"/>
<line x1="291.30" y1="647.48" x2="291.30" y2="651.48" stroke="#000" stroke-width="0.7"/>
<line x1="288.90" y1="647.48" x2="293.70" y2="647.48" stroke="#000" stroke-width="0.7"/>
<line x1="288.90" y1="651.48" x2="293.70" y2="651.48" stroke="#000" stroke-width="0.7"/>
<circle cx="291.30" cy="643.49" r="1.45" fill="#fff" stroke="#000" stroke-width="0.75"/>
<circle cx="288.00" cy="649.48" r="1.45" fill="#fff" stroke="#000" stroke-width="0.75"/>
<circle cx="294.60" cy="650.81" r="1.45" fill="#fff" stroke="#000" stroke-width="0.75"/>
<circle cx="291.30" cy="654.48" r="1.45" fill="#fff" stroke="#000" stroke-width="0.75"/>
<line x1="291.30" y1="697.10" x2="291.30" y2="700.30" stroke="#8c8c8c" stroke-width="0.8"/>
<rect x="302.70" y="665.47" width="14.60" height="31.63" fill="#4f9cf9" stroke="#000" stroke-width="0.7"/>
<line x1="310.00" y1="663.80" x2="310.00" y2="667.13" stroke="#000" stroke-width="0.7"/>
<line x1="307.60" y1="663.80" x2="312.40" y2="663.80" stroke="#000" stroke-width="0.7"/>
<line x1="307.60" y1="667.13" x2="312.40" y2="667.13" stroke="#000" stroke-width="0.7"/>
<circle cx="310.00" cy="661.47" r="1.45" fill="#fff" stroke="#000" stroke-width="0.75"/>
<circle cx="307.40" cy="664.13" r="1.45" fill="#fff" stroke="#000" stroke-width="0.75"/>
<circle cx="313.20" cy="666.13" r="1.45" fill="#fff" stroke="#000" stroke-width="0.75"/>
<circle cx="310.00" cy="669.46" r="1.45" fill="#fff" stroke="#000" stroke-width="0.75"/>
<line x1="310.00" y1="697.10" x2="310.00" y2="700.30" stroke="#8c8c8c" stroke-width="0.8"/>
<rect x="320.90" y="657.81" width="14.60" height="39.29" fill="#ff8585" stroke="#000" stroke-width="0.7"/>
<line x1="328.20" y1="656.47" x2="328.20" y2="659.14" stroke="#000" stroke-width="0.7"/>
<line x1="325.80" y1="656.47" x2="330.60" y2="656.47" stroke="#000" stroke-width="0.7"/>
<line x1="325.80" y1="659.14" x2="330.60" y2="659.14" stroke="#000" stroke-width="0.7"/>
<circle cx="328.20" cy="653.48" r="1.45" fill="#fff" stroke="#000" stroke-width="0.75"/>
<circle cx="322.40" cy="659.14" r="1.45" fill="#fff" stroke="#000" stroke-width="0.75"/>
<circle cx="328.20" cy="658.47" r="1.45" fill="#fff" stroke="#000" stroke-width="0.75"/>
<circle cx="333.80" cy="658.47" r="1.45" fill="#fff" stroke="#000" stroke-width="0.75"/>
<line x1="328.20" y1="697.10" x2="328.20" y2="700.30" stroke="#8c8c8c" stroke-width="0.8"/>
<text x="288.50" y="616.40" font-size="8.4" fill="#1a1a1a" textLength="42.6" lengthAdjust="spacingAndGlyphs"><tspan font-style="italic">P</tspan> = 0.0392</text>
<path d="M291.40 624.80V619.30H328.20V636.50" fill="none" stroke="#8c8c8c" stroke-width="0.7"/>
<text x="263.70" y="634.10" font-size="8.4" fill="#1a1a1a" textLength="38.7" lengthAdjust="spacingAndGlyphs"><tspan font-style="italic">P</tspan> = 0.0121</text>
<path d="M272.70 654.70V636.80H291.40V641.60" fill="none" stroke="#8c8c8c" stroke-width="0.7"/>
<text x="297.10" y="644.60" font-size="8.4" fill="#1a1a1a" textLength="42.8" lengthAdjust="spacingAndGlyphs"><tspan font-style="italic">P</tspan> = 0.0484</text>
<path d="M309.20 659.10V646.40H328.20V651.10" fill="none" stroke="#8c8c8c" stroke-width="0.7"/>
<text x="222.90" y="663.50" font-size="8.8" text-anchor="middle" transform="rotate(-90 222.90 663.50)" textLength="77.0" lengthAdjust="spacingAndGlyphs" fill="#1a1a1a">Total transmigrated</text>
<text x="232.8" y="663.5" font-size="8.4" fill="#1a1a1a" text-anchor="middle" transform="rotate(-90 232.8 663.5)" textLength="83" lengthAdjust="spacingAndGlyphs">hPBMs per well (10<tspan font-size="5.3" dy="-2.8">4</tspan><tspan dy="2.8">)</tspan></text>
<text x="258.30" y="710.40" font-size="8.4" text-anchor="end" fill="#1a1a1a">NaOX</text>
<text x="272.70" y="710.10" font-size="7.4" text-anchor="middle" fill="#1a1a1a">(–)</text>
<text x="291.30" y="710.10" font-size="7.4" text-anchor="middle" fill="#1a1a1a">(+)</text>
<text x="310.00" y="710.10" font-size="7.4" text-anchor="middle" fill="#1a1a1a">(–)</text>
<text x="328.20" y="710.10" font-size="7.4" text-anchor="middle" fill="#1a1a1a">(+)</text>
<text x="258.30" y="721.90" font-size="8.4" text-anchor="end" fill="#1a1a1a">siCTL</text>
<text x="272.70" y="721.60" font-size="7.4" text-anchor="middle" fill="#1a1a1a">(+)</text>
<text x="291.30" y="721.60" font-size="7.4" text-anchor="middle" fill="#1a1a1a">(+)</text>
<text x="310.00" y="721.60" font-size="7.4" text-anchor="middle" fill="#1a1a1a">(–)</text>
<text x="328.20" y="721.60" font-size="7.4" text-anchor="middle" fill="#1a1a1a">(–)</text>
<text x="258.30" y="732.60" font-size="8.4" text-anchor="end" fill="#1a1a1a">siCCL2</text>
<text x="272.70" y="732.30" font-size="7.4" text-anchor="middle" fill="#1a1a1a">(–)</text>
<text x="291.30" y="732.30" font-size="7.4" text-anchor="middle" fill="#1a1a1a">(–)</text>
<text x="310.00" y="732.30" font-size="7.4" text-anchor="middle" fill="#1a1a1a">(+)</text>
<text x="328.20" y="732.30" font-size="7.4" text-anchor="middle" fill="#1a1a1a">(+)</text>
<text x="343.00" y="11.00" font-size="11.5" font-weight="bold" fill="#000">b</text>
<g stroke="#9a9a9a" stroke-width="0.55">
<rect x="357.2" y="27.20" width="8.9" height="4.225" stroke="#b0b0b0" fill="#fff"/>
<rect x="368.0" y="27.20" width="8.9" height="4.225" stroke="#b0b0b0" fill="#fff"/>
<rect x="378.6" y="27.20" width="8.9" height="4.225" stroke="#b0b0b0" fill="#fff"/>
<rect x="389.2" y="27.20" width="8.9" height="4.225" stroke="#b0b0b0" fill="#ff3d97"/>
<rect x="400.60" y="27.20" width="12.75" height="4.225" fill="#fee090"/>
<rect x="413.35" y="27.20" width="12.75" height="4.225" fill="#fdb775"/>
<rect x="426.10" y="27.20" width="12.75" height="4.225" fill="#fee090"/>
<rect x="438.85" y="27.20" width="12.75" height="4.225" fill="#fdb775"/>
<rect x="451.60" y="27.20" width="12.75" height="4.225" fill="#91bfdb"/>
<rect x="464.35" y="27.20" width="12.75" height="4.225" fill="#eff9dc"/>
<rect x="477.10" y="27.20" width="12.75" height="4.225" fill="#eff9dc"/>
<rect x="489.85" y="27.20" width="12.75" height="4.225" fill="#b8d9ea"/>
<rect x="357.2" y="31.42" width="8.9" height="4.225" stroke="#b0b0b0" fill="#fff"/>
<rect x="368.0" y="31.42" width="8.9" height="4.225" stroke="#b0b0b0" fill="#fff"/>
<rect x="378.6" y="31.42" width="8.9" height="4.225" stroke="#b0b0b0" fill="#fff"/>
<rect x="389.2" y="31.42" width="8.9" height="4.225" stroke="#b0b0b0" fill="#ff3d97"/>
<rect x="400.60" y="31.42" width="12.75" height="4.225" fill="#fdb775"/>
<rect x="413.35" y="31.42" width="12.75" height="4.225" fill="#fdb775"/>
<rect x="426.10" y="31.42" width="12.75" height="4.225" fill="#fee090"/>
<rect x="438.85" y="31.42" width="12.75" height="4.225" fill="#fef0a8"/>
<rect x="451.60" y="31.42" width="12.75" height="4.225" fill="#91bfdb"/>
<rect x="464.35" y="31.42" width="12.75" height="4.225" fill="#e0f3f8"/>
<rect x="477.10" y="31.42" width="12.75" height="4.225" fill="#eff9dc"/>
<rect x="489.85" y="31.42" width="12.75" height="4.225" fill="#eff9dc"/>
<rect x="357.2" y="35.65" width="8.9" height="4.225" stroke="#b0b0b0" fill="#ff3d97"/>
<rect x="368.0" y="35.65" width="8.9" height="4.225" stroke="#b0b0b0" fill="#ff3d97"/>
<rect x="378.6" y="35.65" width="8.9" height="4.225" stroke="#b0b0b0" fill="#fff"/>
<rect x="389.2" y="35.65" width="8.9" height="4.225" stroke="#b0b0b0" fill="#fff"/>
<rect x="400.60" y="35.65" width="12.75" height="4.225" fill="#fee090"/>
<rect x="413.35" y="35.65" width="12.75" height="4.225" fill="#fdb775"/>
<rect x="426.10" y="35.65" width="12.75" height="4.225" fill="#fdb775"/>
<rect x="438.85" y="35.65" width="12.75" height="4.225" fill="#fee090"/>
<rect x="451.60" y="35.65" width="12.75" height="4.225" fill="#6b9ac8"/>
<rect x="464.35" y="35.65" width="12.75" height="4.225" fill="#eff9dc"/>
<rect x="477.10" y="35.65" width="12.75" height="4.225" fill="#eff9dc"/>
<rect x="489.85" y="35.65" width="12.75" height="4.225" fill="#e0f3f8"/>
<rect x="357.2" y="39.88" width="8.9" height="4.225" stroke="#b0b0b0" fill="#ff3d97"/>
<rect x="368.0" y="39.88" width="8.9" height="4.225" stroke="#b0b0b0" fill="#fff"/>
<rect x="378.6" y="39.88" width="8.9" height="4.225" stroke="#b0b0b0" fill="#fff"/>
<rect x="389.2" y="39.88" width="8.9" height="4.225" stroke="#b0b0b0" fill="#fff"/>
<rect x="400.60" y="39.88" width="12.75" height="4.225" fill="#fef0a8"/>
<rect x="413.35" y="39.88" width="12.75" height="4.225" fill="#fdb775"/>
<rect x="426.10" y="39.88" width="12.75" height="4.225" fill="#fdb775"/>
<rect x="438.85" y="39.88" width="12.75" height="4.225" fill="#fdb775"/>
<rect x="451.60" y="39.88" width="12.75" height="4.225" fill="#91bfdb"/>
<rect x="464.35" y="39.88" width="12.75" height="4.225" fill="#eff9dc"/>
<rect x="477.10" y="39.88" width="12.75" height="4.225" fill="#eff9dc"/>
<rect x="489.85" y="39.88" width="12.75" height="4.225" fill="#b8d9ea"/>
<rect x="357.2" y="44.10" width="8.9" height="4.225" stroke="#b0b0b0" fill="#fff"/>
<rect x="368.0" y="44.10" width="8.9" height="4.225" stroke="#b0b0b0" fill="#fff"/>
<rect x="378.6" y="44.10" width="8.9" height="4.225" stroke="#b0b0b0" fill="#ff3d97"/>
<rect x="389.2" y="44.10" width="8.9" height="4.225" stroke="#b0b0b0" fill="#ff3d97"/>
<rect x="400.60" y="44.10" width="12.75" height="4.225" fill="#fee090"/>
<rect x="413.35" y="44.10" width="12.75" height="4.225" fill="#fdb775"/>
<rect x="426.10" y="44.10" width="12.75" height="4.225" fill="#fdb775"/>
<rect x="438.85" y="44.10" width="12.75" height="4.225" fill="#fef0a8"/>
<rect x="451.60" y="44.10" width="12.75" height="4.225" fill="#6b9ac8"/>
<rect x="464.35" y="44.10" width="12.75" height="4.225" fill="#eff9dc"/>
<rect x="477.10" y="44.10" width="12.75" height="4.225" fill="#eff9dc"/>
<rect x="489.85" y="44.10" width="12.75" height="4.225" fill="#e0f3f8"/>
<rect x="357.2" y="48.33" width="8.9" height="4.225" stroke="#b0b0b0" fill="#fff"/>
<rect x="368.0" y="48.33" width="8.9" height="4.225" stroke="#b0b0b0" fill="#ff3d97"/>
<rect x="378.6" y="48.33" width="8.9" height="4.225" stroke="#b0b0b0" fill="#fff"/>
<rect x="389.2" y="48.33" width="8.9" height="4.225" stroke="#b0b0b0" fill="#fff"/>
<rect x="400.60" y="48.33" width="12.75" height="4.225" fill="#fee090"/>
<rect x="413.35" y="48.33" width="12.75" height="4.225" fill="#fee090"/>
<rect x="426.10" y="48.33" width="12.75" height="4.225" fill="#fc8d59"/>
<rect x="438.85" y="48.33" width="12.75" height="4.225" fill="#fef0a8"/>
<rect x="451.60" y="48.33" width="12.75" height="4.225" fill="#6b9ac8"/>
<rect x="464.35" y="48.33" width="12.75" height="4.225" fill="#eff9dc"/>
<rect x="477.10" y="48.33" width="12.75" height="4.225" fill="#eff9dc"/>
<rect x="489.85" y="48.33" width="12.75" height="4.225" fill="#e0f3f8"/>
<rect x="357.2" y="52.55" width="8.9" height="4.225" stroke="#b0b0b0" fill="#ff3d97"/>
<rect x="368.0" y="52.55" width="8.9" height="4.225" stroke="#b0b0b0" fill="#ff3d97"/>
<rect x="378.6" y="52.55" width="8.9" height="4.225" stroke="#b0b0b0" fill="#fff"/>
<rect x="389.2" y="52.55" width="8.9" height="4.225" stroke="#b0b0b0" fill="#fff"/>
<rect x="400.60" y="52.55" width="12.75" height="4.225" fill="#fee090"/>
<rect x="413.35" y="52.55" width="12.75" height="4.225" fill="#fc8d59"/>
<rect x="426.10" y="52.55" width="12.75" height="4.225" fill="#fdb775"/>
<rect x="438.85" y="52.55" width="12.75" height="4.225" fill="#fee090"/>
<rect x="451.60" y="52.55" width="12.75" height="4.225" fill="#91bfdb"/>
<rect x="464.35" y="52.55" width="12.75" height="4.225" fill="#b8d9ea"/>
<rect x="477.10" y="52.55" width="12.75" height="4.225" fill="#eff9dc"/>
<rect x="489.85" y="52.55" width="12.75" height="4.225" fill="#e0f3f8"/>
<rect x="357.2" y="56.77" width="8.9" height="4.225" stroke="#b0b0b0" fill="#fff"/>
<rect x="368.0" y="56.77" width="8.9" height="4.225" stroke="#b0b0b0" fill="#fff"/>
<rect x="378.6" y="56.77" width="8.9" height="4.225" stroke="#b0b0b0" fill="#fff"/>
<rect x="389.2" y="56.77" width="8.9" height="4.225" stroke="#b0b0b0" fill="#ff3d97"/>
<rect x="400.60" y="56.77" width="12.75" height="4.225" fill="#fee090"/>
<rect x="413.35" y="56.77" width="12.75" height="4.225" fill="#fc8d59"/>
<rect x="426.10" y="56.77" width="12.75" height="4.225" fill="#fee090"/>
<rect x="438.85" y="56.77" width="12.75" height="4.225" fill="#fee090"/>
<rect x="451.60" y="56.77" width="12.75" height="4.225" fill="#6b9ac8"/>
<rect x="464.35" y="56.77" width="12.75" height="4.225" fill="#e0f3f8"/>
<rect x="477.10" y="56.77" width="12.75" height="4.225" fill="#eff9dc"/>
<rect x="489.85" y="56.77" width="12.75" height="4.225" fill="#e0f3f8"/>
<rect x="357.2" y="61.00" width="8.9" height="4.225" stroke="#b0b0b0" fill="#fff"/>
<rect x="368.0" y="61.00" width="8.9" height="4.225" stroke="#b0b0b0" fill="#fff"/>
<rect x="378.6" y="61.00" width="8.9" height="4.225" stroke="#b0b0b0" fill="#fff"/>
<rect x="389.2" y="61.00" width="8.9" height="4.225" stroke="#b0b0b0" fill="#ff3d97"/>
<rect x="400.60" y="61.00" width="12.75" height="4.225" fill="#fee090"/>
<rect x="413.35" y="61.00" width="12.75" height="4.225" fill="#fc8d59"/>
<rect x="426.10" y="61.00" width="12.75" height="4.225" fill="#fdb775"/>
<rect x="438.85" y="61.00" width="12.75" height="4.225" fill="#fee090"/>
<rect x="451.60" y="61.00" width="12.75" height="4.225" fill="#6b9ac8"/>
<rect x="464.35" y="61.00" width="12.75" height="4.225" fill="#e0f3f8"/>
<rect x="477.10" y="61.00" width="12.75" height="4.225" fill="#eff9dc"/>
<rect x="489.85" y="61.00" width="12.75" height="4.225" fill="#e0f3f8"/>
<rect x="357.2" y="65.22" width="8.9" height="4.225" stroke="#b0b0b0" fill="#fff"/>
<rect x="368.0" y="65.22" width="8.9" height="4.225" stroke="#b0b0b0" fill="#fff"/>
<rect x="378.6" y="65.22" width="8.9" height="4.225" stroke="#b0b0b0" fill="#ff3d97"/>
<rect x="389.2" y="65.22" width="8.9" height="4.225" stroke="#b0b0b0" fill="#ff3d97"/>
<rect x="400.60" y="65.22" width="12.75" height="4.225" fill="#fee090"/>
<rect x="413.35" y="65.22" width="12.75" height="4.225" fill="#fc8d59"/>
<rect x="426.10" y="65.22" width="12.75" height="4.225" fill="#fdb775"/>
<rect x="438.85" y="65.22" width="12.75" height="4.225" fill="#fef0a8"/>
<rect x="451.60" y="65.22" width="12.75" height="4.225" fill="#4575b4"/>
<rect x="464.35" y="65.22" width="12.75" height="4.225" fill="#e0f3f8"/>
<rect x="477.10" y="65.22" width="12.75" height="4.225" fill="#eff9dc"/>
<rect x="489.85" y="65.22" width="12.75" height="4.225" fill="#e0f3f8"/>
<rect x="357.2" y="69.45" width="8.9" height="4.225" stroke="#b0b0b0" fill="#ff3d97"/>
<rect x="368.0" y="69.45" width="8.9" height="4.225" stroke="#b0b0b0" fill="#fff"/>
<rect x="378.6" y="69.45" width="8.9" height="4.225" stroke="#b0b0b0" fill="#fff"/>
<rect x="389.2" y="69.45" width="8.9" height="4.225" stroke="#b0b0b0" fill="#ff3d97"/>
<rect x="400.60" y="69.45" width="12.75" height="4.225" fill="#fee090"/>
<rect x="413.35" y="69.45" width="12.75" height="4.225" fill="#fdb775"/>
<rect x="426.10" y="69.45" width="12.75" height="4.225" fill="#fdb775"/>
<rect x="438.85" y="69.45" width="12.75" height="4.225" fill="#fee090"/>
<rect x="451.60" y="69.45" width="12.75" height="4.225" fill="#6b9ac8"/>
<rect x="464.35" y="69.45" width="12.75" height="4.225" fill="#eff9dc"/>
<rect x="477.10" y="69.45" width="12.75" height="4.225" fill="#ffffbf"/>
<rect x="489.85" y="69.45" width="12.75" height="4.225" fill="#b8d9ea"/>
<rect x="357.2" y="73.67" width="8.9" height="4.225" stroke="#b0b0b0" fill="#fff"/>
<rect x="368.0" y="73.67" width="8.9" height="4.225" stroke="#b0b0b0" fill="#fff"/>
<rect x="378.6" y="73.67" width="8.9" height="4.225" stroke="#b0b0b0" fill="#fff"/>
<rect x="389.2" y="73.67" width="8.9" height="4.225" stroke="#b0b0b0" fill="#ff3d97"/>
<rect x="400.60" y="73.67" width="12.75" height="4.225" fill="#fee090"/>
<rect x="413.35" y="73.67" width="12.75" height="4.225" fill="#fdb775"/>
<rect x="426.10" y="73.67" width="12.75" height="4.225" fill="#fee090"/>
<rect x="438.85" y="73.67" width="12.75" height="4.225" fill="#fef0a8"/>
<rect x="451.60" y="73.67" width="12.75" height="4.225" fill="#91bfdb"/>
<rect x="464.35" y="73.67" width="12.75" height="4.225" fill="#e0f3f8"/>
<rect x="477.10" y="73.67" width="12.75" height="4.225" fill="#eff9dc"/>
<rect x="489.85" y="73.67" width="12.75" height="4.225" fill="#b8d9ea"/>
<rect x="357.2" y="77.90" width="8.9" height="4.225" stroke="#b0b0b0" fill="#ff3d97"/>
<rect x="368.0" y="77.90" width="8.9" height="4.225" stroke="#b0b0b0" fill="#ff3d97"/>
<rect x="378.6" y="77.90" width="8.9" height="4.225" stroke="#b0b0b0" fill="#ff3d97"/>
<rect x="389.2" y="77.90" width="8.9" height="4.225" stroke="#b0b0b0" fill="#ff3d97"/>
<rect x="400.60" y="77.90" width="12.75" height="4.225" fill="#fef0a8"/>
<rect x="413.35" y="77.90" width="12.75" height="4.225" fill="#fdb775"/>
<rect x="426.10" y="77.90" width="12.75" height="4.225" fill="#fef0a8"/>
<rect x="438.85" y="77.90" width="12.75" height="4.225" fill="#fc8d59"/>
<rect x="451.60" y="77.90" width="12.75" height="4.225" fill="#b8d9ea"/>
<rect x="464.35" y="77.90" width="12.75" height="4.225" fill="#eff9dc"/>
<rect x="477.10" y="77.90" width="12.75" height="4.225" fill="#eff9dc"/>
<rect x="489.85" y="77.90" width="12.75" height="4.225" fill="#b8d9ea"/>
<rect x="357.2" y="82.12" width="8.9" height="4.225" stroke="#b0b0b0" fill="#ff3d97"/>
<rect x="368.0" y="82.12" width="8.9" height="4.225" stroke="#b0b0b0" fill="#fff"/>
<rect x="378.6" y="82.12" width="8.9" height="4.225" stroke="#b0b0b0" fill="#ff3d97"/>
<rect x="389.2" y="82.12" width="8.9" height="4.225" stroke="#b0b0b0" fill="#ff3d97"/>
<rect x="400.60" y="82.12" width="12.75" height="4.225" fill="#fef0a8"/>
<rect x="413.35" y="82.12" width="12.75" height="4.225" fill="#fc8d59"/>
<rect x="426.10" y="82.12" width="12.75" height="4.225" fill="#fee090"/>
<rect x="438.85" y="82.12" width="12.75" height="4.225" fill="#fdb775"/>
<rect x="451.60" y="82.12" width="12.75" height="4.225" fill="#91bfdb"/>
<rect x="464.35" y="82.12" width="12.75" height="4.225" fill="#e0f3f8"/>
<rect x="477.10" y="82.12" width="12.75" height="4.225" fill="#ffffbf"/>
<rect x="489.85" y="82.12" width="12.75" height="4.225" fill="#b8d9ea"/>
<rect x="357.2" y="86.35" width="8.9" height="4.225" stroke="#b0b0b0" fill="#ff3d97"/>
<rect x="368.0" y="86.35" width="8.9" height="4.225" stroke="#b0b0b0" fill="#ff3d97"/>
<rect x="378.6" y="86.35" width="8.9" height="4.225" stroke="#b0b0b0" fill="#fff"/>
<rect x="389.2" y="86.35" width="8.9" height="4.225" stroke="#b0b0b0" fill="#fff"/>
<rect x="400.60" y="86.35" width="12.75" height="4.225" fill="#fef0a8"/>
<rect x="413.35" y="86.35" width="12.75" height="4.225" fill="#fdb775"/>
<rect x="426.10" y="86.35" width="12.75" height="4.225" fill="#fee090"/>
<rect x="438.85" y="86.35" width="12.75" height="4.225" fill="#fdb775"/>
<rect x="451.60" y="86.35" width="12.75" height="4.225" fill="#6b9ac8"/>
<rect x="464.35" y="86.35" width="12.75" height="4.225" fill="#eff9dc"/>
<rect x="477.10" y="86.35" width="12.75" height="4.225" fill="#eff9dc"/>
<rect x="489.85" y="86.35" width="12.75" height="4.225" fill="#e0f3f8"/>
<rect x="357.2" y="90.57" width="8.9" height="4.225" stroke="#b0b0b0" fill="#ff3d97"/>
<rect x="368.0" y="90.57" width="8.9" height="4.225" stroke="#b0b0b0" fill="#ff3d97"/>
<rect x="378.6" y="90.57" width="8.9" height="4.225" stroke="#b0b0b0" fill="#ff3d97"/>
<rect x="389.2" y="90.57" width="8.9" height="4.225" stroke="#b0b0b0" fill="#ff3d97"/>
<rect x="400.60" y="90.57" width="12.75" height="4.225" fill="#eff9dc"/>
<rect x="413.35" y="90.57" width="12.75" height="4.225" fill="#fee090"/>
<rect x="426.10" y="90.57" width="12.75" height="4.225" fill="#ea5f40"/>
<rect x="438.85" y="90.57" width="12.75" height="4.225" fill="#fee090"/>
<rect x="451.60" y="90.57" width="12.75" height="4.225" fill="#b8d9ea"/>
<rect x="464.35" y="90.57" width="12.75" height="4.225" fill="#ffffbf"/>
<rect x="477.10" y="90.57" width="12.75" height="4.225" fill="#b8d9ea"/>
<rect x="489.85" y="90.57" width="12.75" height="4.225" fill="#e0f3f8"/>
<rect x="357.2" y="94.80" width="8.9" height="4.225" stroke="#b0b0b0" fill="#fff"/>
<rect x="368.0" y="94.80" width="8.9" height="4.225" stroke="#b0b0b0" fill="#fff"/>
<rect x="378.6" y="94.80" width="8.9" height="4.225" stroke="#b0b0b0" fill="#fff"/>
<rect x="389.2" y="94.80" width="8.9" height="4.225" stroke="#b0b0b0" fill="#ff3d97"/>
<rect x="400.60" y="94.80" width="12.75" height="4.225" fill="#fdb775"/>
<rect x="413.35" y="94.80" width="12.75" height="4.225" fill="#fc8d59"/>
<rect x="426.10" y="94.80" width="12.75" height="4.225" fill="#fee090"/>
<rect x="438.85" y="94.80" width="12.75" height="4.225" fill="#ffffbf"/>
<rect x="451.60" y="94.80" width="12.75" height="4.225" fill="#b8d9ea"/>
<rect x="464.35" y="94.80" width="12.75" height="4.225" fill="#eff9dc"/>
<rect x="477.10" y="94.80" width="12.75" height="4.225" fill="#eff9dc"/>
<rect x="489.85" y="94.80" width="12.75" height="4.225" fill="#b8d9ea"/>
<rect x="357.2" y="99.02" width="8.9" height="4.225" stroke="#b0b0b0" fill="#fff"/>
<rect x="368.0" y="99.02" width="8.9" height="4.225" stroke="#b0b0b0" fill="#fff"/>
<rect x="378.6" y="99.02" width="8.9" height="4.225" stroke="#b0b0b0" fill="#fff"/>
<rect x="389.2" y="99.02" width="8.9" height="4.225" stroke="#b0b0b0" fill="#ff3d97"/>
<rect x="400.60" y="99.02" width="12.75" height="4.225" fill="#fdb775"/>
<rect x="413.35" y="99.02" width="12.75" height="4.225" fill="#fdb775"/>
<rect x="426.10" y="99.02" width="12.75" height="4.225" fill="#fee090"/>
<rect x="438.85" y="99.02" width="12.75" height="4.225" fill="#ffffbf"/>
<rect x="451.60" y="99.02" width="12.75" height="4.225" fill="#91bfdb"/>
<rect x="464.35" y="99.02" width="12.75" height="4.225" fill="#ffffbf"/>
<rect x="477.10" y="99.02" width="12.75" height="4.225" fill="#eff9dc"/>
<rect x="489.85" y="99.02" width="12.75" height="4.225" fill="#b8d9ea"/>
<rect x="357.2" y="103.25" width="8.9" height="4.225" stroke="#b0b0b0" fill="#ff3d97"/>
<rect x="368.0" y="103.25" width="8.9" height="4.225" stroke="#b0b0b0" fill="#fff"/>
<rect x="378.6" y="103.25" width="8.9" height="4.225" stroke="#b0b0b0" fill="#fff"/>
<rect x="389.2" y="103.25" width="8.9" height="4.225" stroke="#b0b0b0" fill="#fff"/>
<rect x="400.60" y="103.25" width="12.75" height="4.225" fill="#fee090"/>
<rect x="413.35" y="103.25" width="12.75" height="4.225" fill="#fdb775"/>
<rect x="426.10" y="103.25" width="12.75" height="4.225" fill="#fdb775"/>
<rect x="438.85" y="103.25" width="12.75" height="4.225" fill="#fef0a8"/>
<rect x="451.60" y="103.25" width="12.75" height="4.225" fill="#91bfdb"/>
<rect x="464.35" y="103.25" width="12.75" height="4.225" fill="#e0f3f8"/>
<rect x="477.10" y="103.25" width="12.75" height="4.225" fill="#ffffbf"/>
<rect x="489.85" y="103.25" width="12.75" height="4.225" fill="#b8d9ea"/>
<rect x="357.2" y="107.47" width="8.9" height="4.225" stroke="#b0b0b0" fill="#fff"/>
<rect x="368.0" y="107.47" width="8.9" height="4.225" stroke="#b0b0b0" fill="#ff3d97"/>
<rect x="378.6" y="107.47" width="8.9" height="4.225" stroke="#b0b0b0" fill="#ff3d97"/>
<rect x="389.2" y="107.47" width="8.9" height="4.225" stroke="#b0b0b0" fill="#ff3d97"/>
<rect x="400.60" y="107.47" width="12.75" height="4.225" fill="#fef0a8"/>
<rect x="413.35" y="107.47" width="12.75" height="4.225" fill="#fdb775"/>
<rect x="426.10" y="107.47" width="12.75" height="4.225" fill="#fee090"/>
<rect x="438.85" y="107.47" width="12.75" height="4.225" fill="#fdb775"/>
<rect x="451.60" y="107.47" width="12.75" height="4.225" fill="#6b9ac8"/>
<rect x="464.35" y="107.47" width="12.75" height="4.225" fill="#ffffbf"/>
<rect x="477.10" y="107.47" width="12.75" height="4.225" fill="#eff9dc"/>
<rect x="489.85" y="107.47" width="12.75" height="4.225" fill="#b8d9ea"/>
<rect x="357.2" y="111.70" width="8.9" height="4.225" stroke="#b0b0b0" fill="#fff"/>
<rect x="368.0" y="111.70" width="8.9" height="4.225" stroke="#b0b0b0" fill="#fff"/>
<rect x="378.6" y="111.70" width="8.9" height="4.225" stroke="#b0b0b0" fill="#fff"/>
<rect x="389.2" y="111.70" width="8.9" height="4.225" stroke="#b0b0b0" fill="#ff3d97"/>
<rect x="400.60" y="111.70" width="12.75" height="4.225" fill="#fef0a8"/>
<rect x="413.35" y="111.70" width="12.75" height="4.225" fill="#fdb775"/>
<rect x="426.10" y="111.70" width="12.75" height="4.225" fill="#fee090"/>
<rect x="438.85" y="111.70" width="12.75" height="4.225" fill="#fee090"/>
<rect x="451.60" y="111.70" width="12.75" height="4.225" fill="#4575b4"/>
<rect x="464.35" y="111.70" width="12.75" height="4.225" fill="#eff9dc"/>
<rect x="477.10" y="111.70" width="12.75" height="4.225" fill="#ffffbf"/>
<rect x="489.85" y="111.70" width="12.75" height="4.225" fill="#eff9dc"/>
<rect x="357.2" y="115.92" width="8.9" height="4.225" stroke="#b0b0b0" fill="#fff"/>
<rect x="368.0" y="115.92" width="8.9" height="4.225" stroke="#b0b0b0" fill="#fff"/>
<rect x="378.6" y="115.92" width="8.9" height="4.225" stroke="#b0b0b0" fill="#ff3d97"/>
<rect x="389.2" y="115.92" width="8.9" height="4.225" stroke="#b0b0b0" fill="#fff"/>
<rect x="400.60" y="115.92" width="12.75" height="4.225" fill="#fee090"/>
<rect x="413.35" y="115.92" width="12.75" height="4.225" fill="#fc8d59"/>
<rect x="426.10" y="115.92" width="12.75" height="4.225" fill="#fdb775"/>
<rect x="438.85" y="115.92" width="12.75" height="4.225" fill="#fef0a8"/>
<rect x="451.60" y="115.92" width="12.75" height="4.225" fill="#91bfdb"/>
<rect x="464.35" y="115.92" width="12.75" height="4.225" fill="#eff9dc"/>
<rect x="477.10" y="115.92" width="12.75" height="4.225" fill="#eff9dc"/>
<rect x="489.85" y="115.92" width="12.75" height="4.225" fill="#e0f3f8"/>
<rect x="357.2" y="120.15" width="8.9" height="4.225" stroke="#b0b0b0" fill="#ff3d97"/>
<rect x="368.0" y="120.15" width="8.9" height="4.225" stroke="#b0b0b0" fill="#fff"/>
<rect x="378.6" y="120.15" width="8.9" height="4.225" stroke="#b0b0b0" fill="#fff"/>
<rect x="389.2" y="120.15" width="8.9" height="4.225" stroke="#b0b0b0" fill="#fff"/>
<rect x="400.60" y="120.15" width="12.75" height="4.225" fill="#fee090"/>
<rect x="413.35" y="120.15" width="12.75" height="4.225" fill="#fdb775"/>
<rect x="426.10" y="120.15" width="12.75" height="4.225" fill="#fdb775"/>
<rect x="438.85" y="120.15" width="12.75" height="4.225" fill="#fef0a8"/>
<rect x="451.60" y="120.15" width="12.75" height="4.225" fill="#6b9ac8"/>
<rect x="464.35" y="120.15" width="12.75" height="4.225" fill="#e0f3f8"/>
<rect x="477.10" y="120.15" width="12.75" height="4.225" fill="#eff9dc"/>
<rect x="489.85" y="120.15" width="12.75" height="4.225" fill="#ffffbf"/>
<rect x="357.2" y="124.38" width="8.9" height="4.225" stroke="#b0b0b0" fill="#fff"/>
<rect x="368.0" y="124.38" width="8.9" height="4.225" stroke="#b0b0b0" fill="#ff3d97"/>
<rect x="378.6" y="124.38" width="8.9" height="4.225" stroke="#b0b0b0" fill="#ff3d97"/>
<rect x="389.2" y="124.38" width="8.9" height="4.225" stroke="#b0b0b0" fill="#ff3d97"/>
<rect x="400.60" y="124.38" width="12.75" height="4.225" fill="#fee090"/>
<rect x="413.35" y="124.38" width="12.75" height="4.225" fill="#fdb775"/>
<rect x="426.10" y="124.38" width="12.75" height="4.225" fill="#fc8d59"/>
<rect x="438.85" y="124.38" width="12.75" height="4.225" fill="#ffffbf"/>
<rect x="451.60" y="124.38" width="12.75" height="4.225" fill="#91bfdb"/>
<rect x="464.35" y="124.38" width="12.75" height="4.225" fill="#ffffbf"/>
<rect x="477.10" y="124.38" width="12.75" height="4.225" fill="#eff9dc"/>
<rect x="489.85" y="124.38" width="12.75" height="4.225" fill="#b8d9ea"/>
<rect x="357.2" y="128.60" width="8.9" height="4.225" stroke="#b0b0b0" fill="#fff"/>
<rect x="368.0" y="128.60" width="8.9" height="4.225" stroke="#b0b0b0" fill="#fff"/>
<rect x="378.6" y="128.60" width="8.9" height="4.225" stroke="#b0b0b0" fill="#ff3d97"/>
<rect x="389.2" y="128.60" width="8.9" height="4.225" stroke="#b0b0b0" fill="#ff3d97"/>
<rect x="400.60" y="128.60" width="12.75" height="4.225" fill="#fef0a8"/>
<rect x="413.35" y="128.60" width="12.75" height="4.225" fill="#fee090"/>
<rect x="426.10" y="128.60" width="12.75" height="4.225" fill="#fdb775"/>
<rect x="438.85" y="128.60" width="12.75" height="4.225" fill="#fc8d59"/>
<rect x="451.60" y="128.60" width="12.75" height="4.225" fill="#91bfdb"/>
<rect x="464.35" y="128.60" width="12.75" height="4.225" fill="#eff9dc"/>
<rect x="477.10" y="128.60" width="12.75" height="4.225" fill="#eff9dc"/>
<rect x="489.85" y="128.60" width="12.75" height="4.225" fill="#b8d9ea"/>
<rect x="357.2" y="132.82" width="8.9" height="4.225" stroke="#b0b0b0" fill="#fff"/>
<rect x="368.0" y="132.82" width="8.9" height="4.225" stroke="#b0b0b0" fill="#ff3d97"/>
<rect x="378.6" y="132.82" width="8.9" height="4.225" stroke="#b0b0b0" fill="#fff"/>
<rect x="389.2" y="132.82" width="8.9" height="4.225" stroke="#b0b0b0" fill="#ff3d97"/>
<rect x="400.60" y="132.82" width="12.75" height="4.225" fill="#fdb775"/>
<rect x="413.35" y="132.82" width="12.75" height="4.225" fill="#fdb775"/>
<rect x="426.10" y="132.82" width="12.75" height="4.225" fill="#fdb775"/>
<rect x="438.85" y="132.82" width="12.75" height="4.225" fill="#fef0a8"/>
<rect x="451.60" y="132.82" width="12.75" height="4.225" fill="#91bfdb"/>
<rect x="464.35" y="132.82" width="12.75" height="4.225" fill="#eff9dc"/>
<rect x="477.10" y="132.82" width="12.75" height="4.225" fill="#ffffbf"/>
<rect x="489.85" y="132.82" width="12.75" height="4.225" fill="#b8d9ea"/>
<rect x="357.2" y="137.05" width="8.9" height="4.225" stroke="#b0b0b0" fill="#fff"/>
<rect x="368.0" y="137.05" width="8.9" height="4.225" stroke="#b0b0b0" fill="#ff3d97"/>
<rect x="378.6" y="137.05" width="8.9" height="4.225" stroke="#b0b0b0" fill="#ff3d97"/>
<rect x="389.2" y="137.05" width="8.9" height="4.225" stroke="#b0b0b0" fill="#ff3d97"/>
<rect x="400.60" y="137.05" width="12.75" height="4.225" fill="#fee090"/>
<rect x="413.35" y="137.05" width="12.75" height="4.225" fill="#fdb775"/>
<rect x="426.10" y="137.05" width="12.75" height="4.225" fill="#fee090"/>
<rect x="438.85" y="137.05" width="12.75" height="4.225" fill="#fc8d59"/>
<rect x="451.60" y="137.05" width="12.75" height="4.225" fill="#6b9ac8"/>
<rect x="464.35" y="137.05" width="12.75" height="4.225" fill="#e0f3f8"/>
<rect x="477.10" y="137.05" width="12.75" height="4.225" fill="#ffffbf"/>
<rect x="489.85" y="137.05" width="12.75" height="4.225" fill="#e0f3f8"/>
<rect x="357.2" y="141.27" width="8.9" height="4.225" stroke="#b0b0b0" fill="#fff"/>
<rect x="368.0" y="141.27" width="8.9" height="4.225" stroke="#b0b0b0" fill="#fff"/>
<rect x="378.6" y="141.27" width="8.9" height="4.225" stroke="#b0b0b0" fill="#ff3d97"/>
<rect x="389.2" y="141.27" width="8.9" height="4.225" stroke="#b0b0b0" fill="#ff3d97"/>
<rect x="400.60" y="141.27" width="12.75" height="4.225" fill="#ffffbf"/>
<rect x="413.35" y="141.27" width="12.75" height="4.225" fill="#ea5f40"/>
<rect x="426.10" y="141.27" width="12.75" height="4.225" fill="#fee090"/>
<rect x="438.85" y="141.27" width="12.75" height="4.225" fill="#fee090"/>
<rect x="451.60" y="141.27" width="12.75" height="4.225" fill="#91bfdb"/>
<rect x="464.35" y="141.27" width="12.75" height="4.225" fill="#e0f3f8"/>
<rect x="477.10" y="141.27" width="12.75" height="4.225" fill="#ffffbf"/>
<rect x="489.85" y="141.27" width="12.75" height="4.225" fill="#e0f3f8"/>
<rect x="357.2" y="145.50" width="8.9" height="4.225" stroke="#b0b0b0" fill="#fff"/>
<rect x="368.0" y="145.50" width="8.9" height="4.225" stroke="#b0b0b0" fill="#fff"/>
<rect x="378.6" y="145.50" width="8.9" height="4.225" stroke="#b0b0b0" fill="#fff"/>
<rect x="389.2" y="145.50" width="8.9" height="4.225" stroke="#b0b0b0" fill="#ff3d97"/>
<rect x="400.60" y="145.50" width="12.75" height="4.225" fill="#fee090"/>
<rect x="413.35" y="145.50" width="12.75" height="4.225" fill="#fee090"/>
<rect x="426.10" y="145.50" width="12.75" height="4.225" fill="#fc8d59"/>
<rect x="438.85" y="145.50" width="12.75" height="4.225" fill="#fee090"/>
<rect x="451.60" y="145.50" width="12.75" height="4.225" fill="#91bfdb"/>
<rect x="464.35" y="145.50" width="12.75" height="4.225" fill="#e0f3f8"/>
<rect x="477.10" y="145.50" width="12.75" height="4.225" fill="#eff9dc"/>
<rect x="489.85" y="145.50" width="12.75" height="4.225" fill="#b8d9ea"/>
<rect x="357.2" y="149.72" width="8.9" height="4.225" stroke="#b0b0b0" fill="#fff"/>
<rect x="368.0" y="149.72" width="8.9" height="4.225" stroke="#b0b0b0" fill="#fff"/>
<rect x="378.6" y="149.72" width="8.9" height="4.225" stroke="#b0b0b0" fill="#fff"/>
<rect x="389.2" y="149.72" width="8.9" height="4.225" stroke="#b0b0b0" fill="#ff3d97"/>
<rect x="400.60" y="149.72" width="12.75" height="4.225" fill="#fee090"/>
<rect x="413.35" y="149.72" width="12.75" height="4.225" fill="#fdb775"/>
<rect x="426.10" y="149.72" width="12.75" height="4.225" fill="#fdb775"/>
<rect x="438.85" y="149.72" width="12.75" height="4.225" fill="#fdb775"/>
<rect x="451.60" y="149.72" width="12.75" height="4.225" fill="#6b9ac8"/>
<rect x="464.35" y="149.72" width="12.75" height="4.225" fill="#ffffbf"/>
<rect x="477.10" y="149.72" width="12.75" height="4.225" fill="#ffffbf"/>
<rect x="489.85" y="149.72" width="12.75" height="4.225" fill="#91bfdb"/>
<rect x="357.2" y="153.95" width="8.9" height="4.225" stroke="#b0b0b0" fill="#fff"/>
<rect x="368.0" y="153.95" width="8.9" height="4.225" stroke="#b0b0b0" fill="#fff"/>
<rect x="378.6" y="153.95" width="8.9" height="4.225" stroke="#b0b0b0" fill="#fff"/>
<rect x="389.2" y="153.95" width="8.9" height="4.225" stroke="#b0b0b0" fill="#ff3d97"/>
<rect x="400.60" y="153.95" width="12.75" height="4.225" fill="#fdb775"/>
<rect x="413.35" y="153.95" width="12.75" height="4.225" fill="#fdb775"/>
<rect x="426.10" y="153.95" width="12.75" height="4.225" fill="#fdb775"/>
<rect x="438.85" y="153.95" width="12.75" height="4.225" fill="#ffffbf"/>
<rect x="451.60" y="153.95" width="12.75" height="4.225" fill="#b8d9ea"/>
<rect x="464.35" y="153.95" width="12.75" height="4.225" fill="#eff9dc"/>
<rect x="477.10" y="153.95" width="12.75" height="4.225" fill="#eff9dc"/>
<rect x="489.85" y="153.95" width="12.75" height="4.225" fill="#91bfdb"/>
<rect x="357.2" y="158.17" width="8.9" height="4.225" stroke="#b0b0b0" fill="#ff3d97"/>
<rect x="368.0" y="158.17" width="8.9" height="4.225" stroke="#b0b0b0" fill="#fff"/>
<rect x="378.6" y="158.17" width="8.9" height="4.225" stroke="#b0b0b0" fill="#fff"/>
<rect x="389.2" y="158.17" width="8.9" height="4.225" stroke="#b0b0b0" fill="#fff"/>
<rect x="400.60" y="158.17" width="12.75" height="4.225" fill="#fef0a8"/>
<rect x="413.35" y="158.17" width="12.75" height="4.225" fill="#fee090"/>
<rect x="426.10" y="158.17" width="12.75" height="4.225" fill="#fdb775"/>
<rect x="438.85" y="158.17" width="12.75" height="4.225" fill="#ffffbf"/>
<rect x="451.60" y="158.17" width="12.75" height="4.225" fill="#4575b4"/>
<rect x="464.35" y="158.17" width="12.75" height="4.225" fill="#eff9dc"/>
<rect x="477.10" y="158.17" width="12.75" height="4.225" fill="#eff9dc"/>
<rect x="489.85" y="158.17" width="12.75" height="4.225" fill="#e0f3f8"/>
<rect x="357.2" y="162.40" width="8.9" height="4.225" stroke="#b0b0b0" fill="#fff"/>
<rect x="368.0" y="162.40" width="8.9" height="4.225" stroke="#b0b0b0" fill="#fff"/>
<rect x="378.6" y="162.40" width="8.9" height="4.225" stroke="#b0b0b0" fill="#ff3d97"/>
<rect x="389.2" y="162.40" width="8.9" height="4.225" stroke="#b0b0b0" fill="#fff"/>
<rect x="400.60" y="162.40" width="12.75" height="4.225" fill="#fee090"/>
<rect x="413.35" y="162.40" width="12.75" height="4.225" fill="#fee090"/>
<rect x="426.10" y="162.40" width="12.75" height="4.225" fill="#ea5f40"/>
<rect x="438.85" y="162.40" width="12.75" height="4.225" fill="#ffffbf"/>
<rect x="451.60" y="162.40" width="12.75" height="4.225" fill="#6b9ac8"/>
<rect x="464.35" y="162.40" width="12.75" height="4.225" fill="#e0f3f8"/>
<rect x="477.10" y="162.40" width="12.75" height="4.225" fill="#eff9dc"/>
<rect x="489.85" y="162.40" width="12.75" height="4.225" fill="#ffffbf"/>
<rect x="357.2" y="166.62" width="8.9" height="4.225" stroke="#b0b0b0" fill="#fff"/>
<rect x="368.0" y="166.62" width="8.9" height="4.225" stroke="#b0b0b0" fill="#fff"/>
<rect x="378.6" y="166.62" width="8.9" height="4.225" stroke="#b0b0b0" fill="#ff3d97"/>
<rect x="389.2" y="166.62" width="8.9" height="4.225" stroke="#b0b0b0" fill="#fff"/>
<rect x="400.60" y="166.62" width="12.75" height="4.225" fill="#fee090"/>
<rect x="413.35" y="166.62" width="12.75" height="4.225" fill="#fee090"/>
<rect x="426.10" y="166.62" width="12.75" height="4.225" fill="#fee090"/>
<rect x="438.85" y="166.62" width="12.75" height="4.225" fill="#fef0a8"/>
<rect x="451.60" y="166.62" width="12.75" height="4.225" fill="#6b9ac8"/>
<rect x="464.35" y="166.62" width="12.75" height="4.225" fill="#ffffbf"/>
<rect x="477.10" y="166.62" width="12.75" height="4.225" fill="#ffffbf"/>
<rect x="489.85" y="166.62" width="12.75" height="4.225" fill="#e0f3f8"/>
<rect x="357.2" y="170.85" width="8.9" height="4.225" stroke="#b0b0b0" fill="#fff"/>
<rect x="368.0" y="170.85" width="8.9" height="4.225" stroke="#b0b0b0" fill="#fff"/>
<rect x="378.6" y="170.85" width="8.9" height="4.225" stroke="#b0b0b0" fill="#ff3d97"/>
<rect x="389.2" y="170.85" width="8.9" height="4.225" stroke="#b0b0b0" fill="#ff3d97"/>
<rect x="400.60" y="170.85" width="12.75" height="4.225" fill="#eff9dc"/>
<rect x="413.35" y="170.85" width="12.75" height="4.225" fill="#fdb775"/>
<rect x="426.10" y="170.85" width="12.75" height="4.225" fill="#fdb775"/>
<rect x="438.85" y="170.85" width="12.75" height="4.225" fill="#fdb775"/>
<rect x="451.60" y="170.85" width="12.75" height="4.225" fill="#b8d9ea"/>
<rect x="464.35" y="170.85" width="12.75" height="4.225" fill="#ffffbf"/>
<rect x="477.10" y="170.85" width="12.75" height="4.225" fill="#eff9dc"/>
<rect x="489.85" y="170.85" width="12.75" height="4.225" fill="#eff9dc"/>
<rect x="357.2" y="175.07" width="8.9" height="4.225" stroke="#b0b0b0" fill="#fff"/>
<rect x="368.0" y="175.07" width="8.9" height="4.225" stroke="#b0b0b0" fill="#ff3d97"/>
<rect x="378.6" y="175.07" width="8.9" height="4.225" stroke="#b0b0b0" fill="#ff3d97"/>
<rect x="389.2" y="175.07" width="8.9" height="4.225" stroke="#b0b0b0" fill="#ff3d97"/>
<rect x="400.60" y="175.07" width="12.75" height="4.225" fill="#ffffbf"/>
<rect x="413.35" y="175.07" width="12.75" height="4.225" fill="#fdb775"/>
<rect x="426.10" y="175.07" width="12.75" height="4.225" fill="#fdb775"/>
<rect x="438.85" y="175.07" width="12.75" height="4.225" fill="#fc8d59"/>
<rect x="451.60" y="175.07" width="12.75" height="4.225" fill="#6b9ac8"/>
<rect x="464.35" y="175.07" width="12.75" height="4.225" fill="#ffffbf"/>
<rect x="477.10" y="175.07" width="12.75" height="4.225" fill="#ffffbf"/>
<rect x="489.85" y="175.07" width="12.75" height="4.225" fill="#eff9dc"/>
<rect x="357.2" y="179.30" width="8.9" height="4.225" stroke="#b0b0b0" fill="#ff3d97"/>
<rect x="368.0" y="179.30" width="8.9" height="4.225" stroke="#b0b0b0" fill="#fff"/>
<rect x="378.6" y="179.30" width="8.9" height="4.225" stroke="#b0b0b0" fill="#fff"/>
<rect x="389.2" y="179.30" width="8.9" height="4.225" stroke="#b0b0b0" fill="#fff"/>
<rect x="400.60" y="179.30" width="12.75" height="4.225" fill="#fee090"/>
<rect x="413.35" y="179.30" width="12.75" height="4.225" fill="#fc8d59"/>
<rect x="426.10" y="179.30" width="12.75" height="4.225" fill="#fdb775"/>
<rect x="438.85" y="179.30" width="12.75" height="4.225" fill="#fee090"/>
<rect x="451.60" y="179.30" width="12.75" height="4.225" fill="#91bfdb"/>
<rect x="464.35" y="179.30" width="12.75" height="4.225" fill="#eff9dc"/>
<rect x="477.10" y="179.30" width="12.75" height="4.225" fill="#eff9dc"/>
<rect x="489.85" y="179.30" width="12.75" height="4.225" fill="#e0f3f8"/>
<rect x="357.2" y="183.52" width="8.9" height="4.225" stroke="#b0b0b0" fill="#fff"/>
<rect x="368.0" y="183.52" width="8.9" height="4.225" stroke="#b0b0b0" fill="#ff3d97"/>
<rect x="378.6" y="183.52" width="8.9" height="4.225" stroke="#b0b0b0" fill="#fff"/>
<rect x="389.2" y="183.52" width="8.9" height="4.225" stroke="#b0b0b0" fill="#ff3d97"/>
<rect x="400.60" y="183.52" width="12.75" height="4.225" fill="#fee090"/>
<rect x="413.35" y="183.52" width="12.75" height="4.225" fill="#fdb775"/>
<rect x="426.10" y="183.52" width="12.75" height="4.225" fill="#fdb775"/>
<rect x="438.85" y="183.52" width="12.75" height="4.225" fill="#fef0a8"/>
<rect x="451.60" y="183.52" width="12.75" height="4.225" fill="#6b9ac8"/>
<rect x="464.35" y="183.52" width="12.75" height="4.225" fill="#e0f3f8"/>
<rect x="477.10" y="183.52" width="12.75" height="4.225" fill="#ffffbf"/>
<rect x="489.85" y="183.52" width="12.75" height="4.225" fill="#e0f3f8"/>
<rect x="357.2" y="187.75" width="8.9" height="4.225" stroke="#b0b0b0" fill="#fff"/>
<rect x="368.0" y="187.75" width="8.9" height="4.225" stroke="#b0b0b0" fill="#fff"/>
<rect x="378.6" y="187.75" width="8.9" height="4.225" stroke="#b0b0b0" fill="#ff3d97"/>
<rect x="389.2" y="187.75" width="8.9" height="4.225" stroke="#b0b0b0" fill="#ff3d97"/>
<rect x="400.60" y="187.75" width="12.75" height="4.225" fill="#fee090"/>
<rect x="413.35" y="187.75" width="12.75" height="4.225" fill="#fc8d59"/>
<rect x="426.10" y="187.75" width="12.75" height="4.225" fill="#fee090"/>
<rect x="438.85" y="187.75" width="12.75" height="4.225" fill="#fef0a8"/>
<rect x="451.60" y="187.75" width="12.75" height="4.225" fill="#6b9ac8"/>
<rect x="464.35" y="187.75" width="12.75" height="4.225" fill="#b8d9ea"/>
<rect x="477.10" y="187.75" width="12.75" height="4.225" fill="#eff9dc"/>
<rect x="489.85" y="187.75" width="12.75" height="4.225" fill="#e0f3f8"/>
<rect x="357.2" y="191.97" width="8.9" height="4.225" stroke="#b0b0b0" fill="#fff"/>
<rect x="368.0" y="191.97" width="8.9" height="4.225" stroke="#b0b0b0" fill="#fff"/>
<rect x="378.6" y="191.97" width="8.9" height="4.225" stroke="#b0b0b0" fill="#ff3d97"/>
<rect x="389.2" y="191.97" width="8.9" height="4.225" stroke="#b0b0b0" fill="#ff3d97"/>
<rect x="400.60" y="191.97" width="12.75" height="4.225" fill="#fee090"/>
<rect x="413.35" y="191.97" width="12.75" height="4.225" fill="#fdb775"/>
<rect x="426.10" y="191.97" width="12.75" height="4.225" fill="#fee090"/>
<rect x="438.85" y="191.97" width="12.75" height="4.225" fill="#fee090"/>
<rect x="451.60" y="191.97" width="12.75" height="4.225" fill="#4575b4"/>
<rect x="464.35" y="191.97" width="12.75" height="4.225" fill="#ffffbf"/>
<rect x="477.10" y="191.97" width="12.75" height="4.225" fill="#ffffbf"/>
<rect x="489.85" y="191.97" width="12.75" height="4.225" fill="#eff9dc"/>
<rect x="357.2" y="196.20" width="8.9" height="4.225" stroke="#b0b0b0" fill="#ff3d97"/>
<rect x="368.0" y="196.20" width="8.9" height="4.225" stroke="#b0b0b0" fill="#fff"/>
<rect x="378.6" y="196.20" width="8.9" height="4.225" stroke="#b0b0b0" fill="#fff"/>
<rect x="389.2" y="196.20" width="8.9" height="4.225" stroke="#b0b0b0" fill="#ff3d97"/>
<rect x="400.60" y="196.20" width="12.75" height="4.225" fill="#fef0a8"/>
<rect x="413.35" y="196.20" width="12.75" height="4.225" fill="#fc8d59"/>
<rect x="426.10" y="196.20" width="12.75" height="4.225" fill="#fdb775"/>
<rect x="438.85" y="196.20" width="12.75" height="4.225" fill="#ffffbf"/>
<rect x="451.60" y="196.20" width="12.75" height="4.225" fill="#6b9ac8"/>
<rect x="464.35" y="196.20" width="12.75" height="4.225" fill="#ffffbf"/>
<rect x="477.10" y="196.20" width="12.75" height="4.225" fill="#e0f3f8"/>
<rect x="489.85" y="196.20" width="12.75" height="4.225" fill="#e0f3f8"/>
<rect x="357.2" y="200.42" width="8.9" height="4.225" stroke="#b0b0b0" fill="#fff"/>
<rect x="368.0" y="200.42" width="8.9" height="4.225" stroke="#b0b0b0" fill="#fff"/>
<rect x="378.6" y="200.42" width="8.9" height="4.225" stroke="#b0b0b0" fill="#fff"/>
<rect x="389.2" y="200.42" width="8.9" height="4.225" stroke="#b0b0b0" fill="#ff3d97"/>
<rect x="400.60" y="200.42" width="12.75" height="4.225" fill="#fef0a8"/>
<rect x="413.35" y="200.42" width="12.75" height="4.225" fill="#fdb775"/>
<rect x="426.10" y="200.42" width="12.75" height="4.225" fill="#fc8d59"/>
<rect x="438.85" y="200.42" width="12.75" height="4.225" fill="#fef0a8"/>
<rect x="451.60" y="200.42" width="12.75" height="4.225" fill="#91bfdb"/>
<rect x="464.35" y="200.42" width="12.75" height="4.225" fill="#eff9dc"/>
<rect x="477.10" y="200.42" width="12.75" height="4.225" fill="#ffffbf"/>
<rect x="489.85" y="200.42" width="12.75" height="4.225" fill="#e0f3f8"/>
<rect x="357.2" y="204.65" width="8.9" height="4.225" stroke="#b0b0b0" fill="#fff"/>
<rect x="368.0" y="204.65" width="8.9" height="4.225" stroke="#b0b0b0" fill="#fff"/>
<rect x="378.6" y="204.65" width="8.9" height="4.225" stroke="#b0b0b0" fill="#ff3d97"/>
<rect x="389.2" y="204.65" width="8.9" height="4.225" stroke="#b0b0b0" fill="#fff"/>
<rect x="400.60" y="204.65" width="12.75" height="4.225" fill="#fee090"/>
<rect x="413.35" y="204.65" width="12.75" height="4.225" fill="#fc8d59"/>
<rect x="426.10" y="204.65" width="12.75" height="4.225" fill="#fee090"/>
<rect x="438.85" y="204.65" width="12.75" height="4.225" fill="#fee090"/>
<rect x="451.60" y="204.65" width="12.75" height="4.225" fill="#91bfdb"/>
<rect x="464.35" y="204.65" width="12.75" height="4.225" fill="#91bfdb"/>
<rect x="477.10" y="204.65" width="12.75" height="4.225" fill="#ffffbf"/>
<rect x="489.85" y="204.65" width="12.75" height="4.225" fill="#ffffbf"/>
<rect x="357.2" y="208.87" width="8.9" height="4.225" stroke="#b0b0b0" fill="#fff"/>
<rect x="368.0" y="208.87" width="8.9" height="4.225" stroke="#b0b0b0" fill="#fff"/>
<rect x="378.6" y="208.87" width="8.9" height="4.225" stroke="#b0b0b0" fill="#ff3d97"/>
<rect x="389.2" y="208.87" width="8.9" height="4.225" stroke="#b0b0b0" fill="#ff3d97"/>
<rect x="400.60" y="208.87" width="12.75" height="4.225" fill="#fee090"/>
<rect x="413.35" y="208.87" width="12.75" height="4.225" fill="#fdb775"/>
<rect x="426.10" y="208.87" width="12.75" height="4.225" fill="#fee090"/>
<rect x="438.85" y="208.87" width="12.75" height="4.225" fill="#fee090"/>
<rect x="451.60" y="208.87" width="12.75" height="4.225" fill="#6b9ac8"/>
<rect x="464.35" y="208.87" width="12.75" height="4.225" fill="#b8d9ea"/>
<rect x="477.10" y="208.87" width="12.75" height="4.225" fill="#e0f3f8"/>
<rect x="489.85" y="208.87" width="12.75" height="4.225" fill="#b8d9ea"/>
<rect x="357.2" y="213.10" width="8.9" height="4.225" stroke="#b0b0b0" fill="#ff3d97"/>
<rect x="368.0" y="213.10" width="8.9" height="4.225" stroke="#b0b0b0" fill="#fff"/>
<rect x="378.6" y="213.10" width="8.9" height="4.225" stroke="#b0b0b0" fill="#fff"/>
<rect x="389.2" y="213.10" width="8.9" height="4.225" stroke="#b0b0b0" fill="#fff"/>
<rect x="400.60" y="213.10" width="12.75" height="4.225" fill="#fee090"/>
<rect x="413.35" y="213.10" width="12.75" height="4.225" fill="#fdb775"/>
<rect x="426.10" y="213.10" width="12.75" height="4.225" fill="#fdb775"/>
<rect x="438.85" y="213.10" width="12.75" height="4.225" fill="#fef0a8"/>
<rect x="451.60" y="213.10" width="12.75" height="4.225" fill="#91bfdb"/>
<rect x="464.35" y="213.10" width="12.75" height="4.225" fill="#ffffbf"/>
<rect x="477.10" y="213.10" width="12.75" height="4.225" fill="#b8d9ea"/>
<rect x="489.85" y="213.10" width="12.75" height="4.225" fill="#e0f3f8"/>
<rect x="357.2" y="217.32" width="8.9" height="4.225" stroke="#b0b0b0" fill="#ff3d97"/>
<rect x="368.0" y="217.32" width="8.9" height="4.225" stroke="#b0b0b0" fill="#ff3d97"/>
<rect x="378.6" y="217.32" width="8.9" height="4.225" stroke="#b0b0b0" fill="#fff"/>
<rect x="389.2" y="217.32" width="8.9" height="4.225" stroke="#b0b0b0" fill="#fff"/>
<rect x="400.60" y="217.32" width="12.75" height="4.225" fill="#fef0a8"/>
<rect x="413.35" y="217.32" width="12.75" height="4.225" fill="#fdb775"/>
<rect x="426.10" y="217.32" width="12.75" height="4.225" fill="#fee090"/>
<rect x="438.85" y="217.32" width="12.75" height="4.225" fill="#fee090"/>
<rect x="451.60" y="217.32" width="12.75" height="4.225" fill="#4575b4"/>
<rect x="464.35" y="217.32" width="12.75" height="4.225" fill="#e0f3f8"/>
<rect x="477.10" y="217.32" width="12.75" height="4.225" fill="#ffffbf"/>
<rect x="489.85" y="217.32" width="12.75" height="4.225" fill="#ffffbf"/>
<rect x="357.2" y="221.55" width="8.9" height="4.225" stroke="#b0b0b0" fill="#fff"/>
<rect x="368.0" y="221.55" width="8.9" height="4.225" stroke="#b0b0b0" fill="#fff"/>
<rect x="378.6" y="221.55" width="8.9" height="4.225" stroke="#b0b0b0" fill="#ff3d97"/>
<rect x="389.2" y="221.55" width="8.9" height="4.225" stroke="#b0b0b0" fill="#fff"/>
<rect x="400.60" y="221.55" width="12.75" height="4.225" fill="#fee090"/>
<rect x="413.35" y="221.55" width="12.75" height="4.225" fill="#fee090"/>
<rect x="426.10" y="221.55" width="12.75" height="4.225" fill="#ea5f40"/>
<rect x="438.85" y="221.55" width="12.75" height="4.225" fill="#ffffbf"/>
<rect x="451.60" y="221.55" width="12.75" height="4.225" fill="#91bfdb"/>
<rect x="464.35" y="221.55" width="12.75" height="4.225" fill="#ffffbf"/>
<rect x="477.10" y="221.55" width="12.75" height="4.225" fill="#b8d9ea"/>
<rect x="489.85" y="221.55" width="12.75" height="4.225" fill="#e0f3f8"/>
<rect x="357.2" y="225.77" width="8.9" height="4.225" stroke="#b0b0b0" fill="#fff"/>
<rect x="368.0" y="225.77" width="8.9" height="4.225" stroke="#b0b0b0" fill="#fff"/>
<rect x="378.6" y="225.77" width="8.9" height="4.225" stroke="#b0b0b0" fill="#fff"/>
<rect x="389.2" y="225.77" width="8.9" height="4.225" stroke="#b0b0b0" fill="#ff3d97"/>
<rect x="400.60" y="225.77" width="12.75" height="4.225" fill="#fc8d59"/>
<rect x="413.35" y="225.77" width="12.75" height="4.225" fill="#fdb775"/>
<rect x="426.10" y="225.77" width="12.75" height="4.225" fill="#fee090"/>
<rect x="438.85" y="225.77" width="12.75" height="4.225" fill="#eff9dc"/>
<rect x="451.60" y="225.77" width="12.75" height="4.225" fill="#6b9ac8"/>
<rect x="464.35" y="225.77" width="12.75" height="4.225" fill="#ffffbf"/>
<rect x="477.10" y="225.77" width="12.75" height="4.225" fill="#ffffbf"/>
<rect x="489.85" y="225.77" width="12.75" height="4.225" fill="#b8d9ea"/>
<rect x="357.2" y="230.00" width="8.9" height="4.225" stroke="#b0b0b0" fill="#fff"/>
<rect x="368.0" y="230.00" width="8.9" height="4.225" stroke="#b0b0b0" fill="#fff"/>
<rect x="378.6" y="230.00" width="8.9" height="4.225" stroke="#b0b0b0" fill="#fff"/>
<rect x="389.2" y="230.00" width="8.9" height="4.225" stroke="#b0b0b0" fill="#ff3d97"/>
<rect x="400.60" y="230.00" width="12.75" height="4.225" fill="#fdb775"/>
<rect x="413.35" y="230.00" width="12.75" height="4.225" fill="#fdb775"/>
<rect x="426.10" y="230.00" width="12.75" height="4.225" fill="#fee090"/>
<rect x="438.85" y="230.00" width="12.75" height="4.225" fill="#fef0a8"/>
<rect x="451.60" y="230.00" width="12.75" height="4.225" fill="#6b9ac8"/>
<rect x="464.35" y="230.00" width="12.75" height="4.225" fill="#ffffbf"/>
<rect x="477.10" y="230.00" width="12.75" height="4.225" fill="#eff9dc"/>
<rect x="489.85" y="230.00" width="12.75" height="4.225" fill="#e0f3f8"/>
<rect x="357.2" y="234.22" width="8.9" height="4.225" stroke="#b0b0b0" fill="#fff"/>
<rect x="368.0" y="234.22" width="8.9" height="4.225" stroke="#b0b0b0" fill="#fff"/>
<rect x="378.6" y="234.22" width="8.9" height="4.225" stroke="#b0b0b0" fill="#ff3d97"/>
<rect x="389.2" y="234.22" width="8.9" height="4.225" stroke="#b0b0b0" fill="#fff"/>
<rect x="400.60" y="234.22" width="12.75" height="4.225" fill="#fc8d59"/>
<rect x="413.35" y="234.22" width="12.75" height="4.225" fill="#fdb775"/>
<rect x="426.10" y="234.22" width="12.75" height="4.225" fill="#fef0a8"/>
<rect x="438.85" y="234.22" width="12.75" height="4.225" fill="#ffffbf"/>
<rect x="451.60" y="234.22" width="12.75" height="4.225" fill="#91bfdb"/>
<rect x="464.35" y="234.22" width="12.75" height="4.225" fill="#ffffbf"/>
<rect x="477.10" y="234.22" width="12.75" height="4.225" fill="#eff9dc"/>
<rect x="489.85" y="234.22" width="12.75" height="4.225" fill="#e0f3f8"/>
<rect x="357.2" y="238.45" width="8.9" height="4.225" stroke="#b0b0b0" fill="#fff"/>
<rect x="368.0" y="238.45" width="8.9" height="4.225" stroke="#b0b0b0" fill="#fff"/>
<rect x="378.6" y="238.45" width="8.9" height="4.225" stroke="#b0b0b0" fill="#ff3d97"/>
<rect x="389.2" y="238.45" width="8.9" height="4.225" stroke="#b0b0b0" fill="#fff"/>
<rect x="400.60" y="238.45" width="12.75" height="4.225" fill="#fdb775"/>
<rect x="413.35" y="238.45" width="12.75" height="4.225" fill="#fdb775"/>
<rect x="426.10" y="238.45" width="12.75" height="4.225" fill="#fdb775"/>
<rect x="438.85" y="238.45" width="12.75" height="4.225" fill="#eff9dc"/>
<rect x="451.60" y="238.45" width="12.75" height="4.225" fill="#6b9ac8"/>
<rect x="464.35" y="238.45" width="12.75" height="4.225" fill="#ffffbf"/>
<rect x="477.10" y="238.45" width="12.75" height="4.225" fill="#ffffbf"/>
<rect x="489.85" y="238.45" width="12.75" height="4.225" fill="#e0f3f8"/>
<rect x="357.2" y="242.67" width="8.9" height="4.225" stroke="#b0b0b0" fill="#fff"/>
<rect x="368.0" y="242.67" width="8.9" height="4.225" stroke="#b0b0b0" fill="#fff"/>
<rect x="378.6" y="242.67" width="8.9" height="4.225" stroke="#b0b0b0" fill="#fff"/>
<rect x="389.2" y="242.67" width="8.9" height="4.225" stroke="#b0b0b0" fill="#ff3d97"/>
<rect x="400.60" y="242.67" width="12.75" height="4.225" fill="#fee090"/>
<rect x="413.35" y="242.67" width="12.75" height="4.225" fill="#fc8d59"/>
<rect x="426.10" y="242.67" width="12.75" height="4.225" fill="#fdb775"/>
<rect x="438.85" y="242.67" width="12.75" height="4.225" fill="#eff9dc"/>
<rect x="451.60" y="242.67" width="12.75" height="4.225" fill="#91bfdb"/>
<rect x="464.35" y="242.67" width="12.75" height="4.225" fill="#eff9dc"/>
<rect x="477.10" y="242.67" width="12.75" height="4.225" fill="#eff9dc"/>
<rect x="489.85" y="242.67" width="12.75" height="4.225" fill="#e0f3f8"/>
<rect x="357.2" y="246.90" width="8.9" height="4.225" stroke="#b0b0b0" fill="#fff"/>
<rect x="368.0" y="246.90" width="8.9" height="4.225" stroke="#b0b0b0" fill="#fff"/>
<rect x="378.6" y="246.90" width="8.9" height="4.225" stroke="#b0b0b0" fill="#fff"/>
<rect x="389.2" y="246.90" width="8.9" height="4.225" stroke="#b0b0b0" fill="#ff3d97"/>
<rect x="400.60" y="246.90" width="12.75" height="4.225" fill="#fdb775"/>
<rect x="413.35" y="246.90" width="12.75" height="4.225" fill="#fdb775"/>
<rect x="426.10" y="246.90" width="12.75" height="4.225" fill="#fee090"/>
<rect x="438.85" y="246.90" width="12.75" height="4.225" fill="#ffffbf"/>
<rect x="451.60" y="246.90" width="12.75" height="4.225" fill="#91bfdb"/>
<rect x="464.35" y="246.90" width="12.75" height="4.225" fill="#ffffbf"/>
<rect x="477.10" y="246.90" width="12.75" height="4.225" fill="#eff9dc"/>
<rect x="489.85" y="246.90" width="12.75" height="4.225" fill="#b8d9ea"/>
<rect x="357.2" y="251.12" width="8.9" height="4.225" stroke="#b0b0b0" fill="#ff3d97"/>
<rect x="368.0" y="251.12" width="8.9" height="4.225" stroke="#b0b0b0" fill="#ff3d97"/>
<rect x="378.6" y="251.12" width="8.9" height="4.225" stroke="#b0b0b0" fill="#fff"/>
<rect x="389.2" y="251.12" width="8.9" height="4.225" stroke="#b0b0b0" fill="#ff3d97"/>
<rect x="400.60" y="251.12" width="12.75" height="4.225" fill="#eff9dc"/>
<rect x="413.35" y="251.12" width="12.75" height="4.225" fill="#fc8d59"/>
<rect x="426.10" y="251.12" width="12.75" height="4.225" fill="#fee090"/>
<rect x="438.85" y="251.12" width="12.75" height="4.225" fill="#fdb775"/>
<rect x="451.60" y="251.12" width="12.75" height="4.225" fill="#91bfdb"/>
<rect x="464.35" y="251.12" width="12.75" height="4.225" fill="#b8d9ea"/>
<rect x="477.10" y="251.12" width="12.75" height="4.225" fill="#eff9dc"/>
<rect x="489.85" y="251.12" width="12.75" height="4.225" fill="#eff9dc"/>
<rect x="357.2" y="255.35" width="8.9" height="4.225" stroke="#b0b0b0" fill="#ff3d97"/>
<rect x="368.0" y="255.35" width="8.9" height="4.225" stroke="#b0b0b0" fill="#fff"/>
<rect x="378.6" y="255.35" width="8.9" height="4.225" stroke="#b0b0b0" fill="#fff"/>
<rect x="389.2" y="255.35" width="8.9" height="4.225" stroke="#b0b0b0" fill="#fff"/>
<rect x="400.60" y="255.35" width="12.75" height="4.225" fill="#fef0a8"/>
<rect x="413.35" y="255.35" width="12.75" height="4.225" fill="#fdb775"/>
<rect x="426.10" y="255.35" width="12.75" height="4.225" fill="#fdb775"/>
<rect x="438.85" y="255.35" width="12.75" height="4.225" fill="#ffffbf"/>
<rect x="451.60" y="255.35" width="12.75" height="4.225" fill="#b8d9ea"/>
<rect x="464.35" y="255.35" width="12.75" height="4.225" fill="#e0f3f8"/>
<rect x="477.10" y="255.35" width="12.75" height="4.225" fill="#ffffbf"/>
<rect x="489.85" y="255.35" width="12.75" height="4.225" fill="#e0f3f8"/>
<rect x="357.2" y="259.57" width="8.9" height="4.225" stroke="#b0b0b0" fill="#fff"/>
<rect x="368.0" y="259.57" width="8.9" height="4.225" stroke="#b0b0b0" fill="#ff3d97"/>
<rect x="378.6" y="259.57" width="8.9" height="4.225" stroke="#b0b0b0" fill="#fff"/>
<rect x="389.2" y="259.57" width="8.9" height="4.225" stroke="#b0b0b0" fill="#fff"/>
<rect x="400.60" y="259.57" width="12.75" height="4.225" fill="#fee090"/>
<rect x="413.35" y="259.57" width="12.75" height="4.225" fill="#fdb775"/>
<rect x="426.10" y="259.57" width="12.75" height="4.225" fill="#fee090"/>
<rect x="438.85" y="259.57" width="12.75" height="4.225" fill="#ffffbf"/>
<rect x="451.60" y="259.57" width="12.75" height="4.225" fill="#91bfdb"/>
<rect x="464.35" y="259.57" width="12.75" height="4.225" fill="#91bfdb"/>
<rect x="477.10" y="259.57" width="12.75" height="4.225" fill="#eff9dc"/>
<rect x="489.85" y="259.57" width="12.75" height="4.225" fill="#e0f3f8"/>
<rect x="357.2" y="263.80" width="8.9" height="4.225" stroke="#b0b0b0" fill="#fff"/>
<rect x="368.0" y="263.80" width="8.9" height="4.225" stroke="#b0b0b0" fill="#fff"/>
<rect x="378.6" y="263.80" width="8.9" height="4.225" stroke="#b0b0b0" fill="#fff"/>
<rect x="389.2" y="263.80" width="8.9" height="4.225" stroke="#b0b0b0" fill="#ff3d97"/>
<rect x="400.60" y="263.80" width="12.75" height="4.225" fill="#fef0a8"/>
<rect x="413.35" y="263.80" width="12.75" height="4.225" fill="#fee090"/>
<rect x="426.10" y="263.80" width="12.75" height="4.225" fill="#d73027"/>
<rect x="438.85" y="263.80" width="12.75" height="4.225" fill="#ffffbf"/>
<rect x="451.60" y="263.80" width="12.75" height="4.225" fill="#b8d9ea"/>
<rect x="464.35" y="263.80" width="12.75" height="4.225" fill="#ffffbf"/>
<rect x="477.10" y="263.80" width="12.75" height="4.225" fill="#b8d9ea"/>
<rect x="489.85" y="263.80" width="12.75" height="4.225" fill="#b8d9ea"/>
<rect x="357.2" y="268.02" width="8.9" height="4.225" stroke="#b0b0b0" fill="#fff"/>
<rect x="368.0" y="268.02" width="8.9" height="4.225" stroke="#b0b0b0" fill="#fff"/>
<rect x="378.6" y="268.02" width="8.9" height="4.225" stroke="#b0b0b0" fill="#ff3d97"/>
<rect x="389.2" y="268.02" width="8.9" height="4.225" stroke="#b0b0b0" fill="#fff"/>
<rect x="400.60" y="268.02" width="12.75" height="4.225" fill="#fef0a8"/>
<rect x="413.35" y="268.02" width="12.75" height="4.225" fill="#fdb775"/>
<rect x="426.10" y="268.02" width="12.75" height="4.225" fill="#fdb775"/>
<rect x="438.85" y="268.02" width="12.75" height="4.225" fill="#ffffbf"/>
<rect x="451.60" y="268.02" width="12.75" height="4.225" fill="#4575b4"/>
<rect x="464.35" y="268.02" width="12.75" height="4.225" fill="#ffffbf"/>
<rect x="477.10" y="268.02" width="12.75" height="4.225" fill="#e0f3f8"/>
<rect x="489.85" y="268.02" width="12.75" height="4.225" fill="#e0f3f8"/>
<rect x="357.2" y="272.25" width="8.9" height="4.225" stroke="#b0b0b0" fill="#ff3d97"/>
<rect x="368.0" y="272.25" width="8.9" height="4.225" stroke="#b0b0b0" fill="#fff"/>
<rect x="378.6" y="272.25" width="8.9" height="4.225" stroke="#b0b0b0" fill="#ff3d97"/>
<rect x="389.2" y="272.25" width="8.9" height="4.225" stroke="#b0b0b0" fill="#fff"/>
<rect x="400.60" y="272.25" width="12.75" height="4.225" fill="#ffffbf"/>
<rect x="413.35" y="272.25" width="12.75" height="4.225" fill="#fdb775"/>
<rect x="426.10" y="272.25" width="12.75" height="4.225" fill="#fee090"/>
<rect x="438.85" y="272.25" width="12.75" height="4.225" fill="#fee090"/>
<rect x="451.60" y="272.25" width="12.75" height="4.225" fill="#6b9ac8"/>
<rect x="464.35" y="272.25" width="12.75" height="4.225" fill="#eff9dc"/>
<rect x="477.10" y="272.25" width="12.75" height="4.225" fill="#e0f3f8"/>
<rect x="489.85" y="272.25" width="12.75" height="4.225" fill="#e0f3f8"/>
<rect x="357.2" y="276.47" width="8.9" height="4.225" stroke="#b0b0b0" fill="#fff"/>
<rect x="368.0" y="276.47" width="8.9" height="4.225" stroke="#b0b0b0" fill="#ff3d97"/>
<rect x="378.6" y="276.47" width="8.9" height="4.225" stroke="#b0b0b0" fill="#fff"/>
<rect x="389.2" y="276.47" width="8.9" height="4.225" stroke="#b0b0b0" fill="#ff3d97"/>
<rect x="400.60" y="276.47" width="12.75" height="4.225" fill="#fdb775"/>
<rect x="413.35" y="276.47" width="12.75" height="4.225" fill="#fc8d59"/>
<rect x="426.10" y="276.47" width="12.75" height="4.225" fill="#fdb775"/>
<rect x="438.85" y="276.47" width="12.75" height="4.225" fill="#e0f3f8"/>
<rect x="451.60" y="276.47" width="12.75" height="4.225" fill="#e0f3f8"/>
<rect x="464.35" y="276.47" width="12.75" height="4.225" fill="#ffffbf"/>
<rect x="477.10" y="276.47" width="12.75" height="4.225" fill="#eff9dc"/>
<rect x="489.85" y="276.47" width="12.75" height="4.225" fill="#e0f3f8"/>
<rect x="357.2" y="280.70" width="8.9" height="4.225" stroke="#b0b0b0" fill="#fff"/>
<rect x="368.0" y="280.70" width="8.9" height="4.225" stroke="#b0b0b0" fill="#ff3d97"/>
<rect x="378.6" y="280.70" width="8.9" height="4.225" stroke="#b0b0b0" fill="#fff"/>
<rect x="389.2" y="280.70" width="8.9" height="4.225" stroke="#b0b0b0" fill="#ff3d97"/>
<rect x="400.60" y="280.70" width="12.75" height="4.225" fill="#fef0a8"/>
<rect x="413.35" y="280.70" width="12.75" height="4.225" fill="#fdb775"/>
<rect x="426.10" y="280.70" width="12.75" height="4.225" fill="#fee090"/>
<rect x="438.85" y="280.70" width="12.75" height="4.225" fill="#ffffbf"/>
<rect x="451.60" y="280.70" width="12.75" height="4.225" fill="#4575b4"/>
<rect x="464.35" y="280.70" width="12.75" height="4.225" fill="#ffffbf"/>
<rect x="477.10" y="280.70" width="12.75" height="4.225" fill="#e0f3f8"/>
<rect x="489.85" y="280.70" width="12.75" height="4.225" fill="#eff9dc"/>
<rect x="357.2" y="284.92" width="8.9" height="4.225" stroke="#b0b0b0" fill="#fff"/>
<rect x="368.0" y="284.92" width="8.9" height="4.225" stroke="#b0b0b0" fill="#fff"/>
<rect x="378.6" y="284.92" width="8.9" height="4.225" stroke="#b0b0b0" fill="#ff3d97"/>
<rect x="389.2" y="284.92" width="8.9" height="4.225" stroke="#b0b0b0" fill="#ff3d97"/>
<rect x="400.60" y="284.92" width="12.75" height="4.225" fill="#fef0a8"/>
<rect x="413.35" y="284.92" width="12.75" height="4.225" fill="#fee090"/>
<rect x="426.10" y="284.92" width="12.75" height="4.225" fill="#fc8d59"/>
<rect x="438.85" y="284.92" width="12.75" height="4.225" fill="#ffffbf"/>
<rect x="451.60" y="284.92" width="12.75" height="4.225" fill="#91bfdb"/>
<rect x="464.35" y="284.92" width="12.75" height="4.225" fill="#ffffbf"/>
<rect x="477.10" y="284.92" width="12.75" height="4.225" fill="#eff9dc"/>
<rect x="489.85" y="284.92" width="12.75" height="4.225" fill="#e0f3f8"/>
<rect x="357.2" y="289.15" width="8.9" height="4.225" stroke="#b0b0b0" fill="#fff"/>
<rect x="368.0" y="289.15" width="8.9" height="4.225" stroke="#b0b0b0" fill="#fff"/>
<rect x="378.6" y="289.15" width="8.9" height="4.225" stroke="#b0b0b0" fill="#fff"/>
<rect x="389.2" y="289.15" width="8.9" height="4.225" stroke="#b0b0b0" fill="#ff3d97"/>
<rect x="400.60" y="289.15" width="12.75" height="4.225" fill="#fef0a8"/>
<rect x="413.35" y="289.15" width="12.75" height="4.225" fill="#fc8d59"/>
<rect x="426.10" y="289.15" width="12.75" height="4.225" fill="#fdb775"/>
<rect x="438.85" y="289.15" width="12.75" height="4.225" fill="#ffffbf"/>
<rect x="451.60" y="289.15" width="12.75" height="4.225" fill="#91bfdb"/>
<rect x="464.35" y="289.15" width="12.75" height="4.225" fill="#eff9dc"/>
<rect x="477.10" y="289.15" width="12.75" height="4.225" fill="#eff9dc"/>
<rect x="489.85" y="289.15" width="12.75" height="4.225" fill="#eff9dc"/>
<rect x="357.2" y="293.37" width="8.9" height="4.225" stroke="#b0b0b0" fill="#ff3d97"/>
<rect x="368.0" y="293.37" width="8.9" height="4.225" stroke="#b0b0b0" fill="#ff3d97"/>
<rect x="378.6" y="293.37" width="8.9" height="4.225" stroke="#b0b0b0" fill="#fff"/>
<rect x="389.2" y="293.37" width="8.9" height="4.225" stroke="#b0b0b0" fill="#fff"/>
<rect x="400.60" y="293.37" width="12.75" height="4.225" fill="#fef0a8"/>
<rect x="413.35" y="293.37" width="12.75" height="4.225" fill="#fee090"/>
<rect x="426.10" y="293.37" width="12.75" height="4.225" fill="#fc8d59"/>
<rect x="438.85" y="293.37" width="12.75" height="4.225" fill="#ffffbf"/>
<rect x="451.60" y="293.37" width="12.75" height="4.225" fill="#91bfdb"/>
<rect x="464.35" y="293.37" width="12.75" height="4.225" fill="#eff9dc"/>
<rect x="477.10" y="293.37" width="12.75" height="4.225" fill="#ffffbf"/>
<rect x="489.85" y="293.37" width="12.75" height="4.225" fill="#eff9dc"/>
<rect x="357.2" y="297.60" width="8.9" height="4.225" stroke="#b0b0b0" fill="#fff"/>
<rect x="368.0" y="297.60" width="8.9" height="4.225" stroke="#b0b0b0" fill="#ff3d97"/>
<rect x="378.6" y="297.60" width="8.9" height="4.225" stroke="#b0b0b0" fill="#fff"/>
<rect x="389.2" y="297.60" width="8.9" height="4.225" stroke="#b0b0b0" fill="#fff"/>
<rect x="400.60" y="297.60" width="12.75" height="4.225" fill="#fef0a8"/>
<rect x="413.35" y="297.60" width="12.75" height="4.225" fill="#fdb775"/>
<rect x="426.10" y="297.60" width="12.75" height="4.225" fill="#fee090"/>
<rect x="438.85" y="297.60" width="12.75" height="4.225" fill="#fee090"/>
<rect x="451.60" y="297.60" width="12.75" height="4.225" fill="#91bfdb"/>
<rect x="464.35" y="297.60" width="12.75" height="4.225" fill="#ffffbf"/>
<rect x="477.10" y="297.60" width="12.75" height="4.225" fill="#91bfdb"/>
<rect x="489.85" y="297.60" width="12.75" height="4.225" fill="#b8d9ea"/>
<rect x="357.2" y="301.82" width="8.9" height="4.225" stroke="#b0b0b0" fill="#fff"/>
<rect x="368.0" y="301.82" width="8.9" height="4.225" stroke="#b0b0b0" fill="#fff"/>
<rect x="378.6" y="301.82" width="8.9" height="4.225" stroke="#b0b0b0" fill="#fff"/>
<rect x="389.2" y="301.82" width="8.9" height="4.225" stroke="#b0b0b0" fill="#ff3d97"/>
<rect x="400.60" y="301.82" width="12.75" height="4.225" fill="#fee090"/>
<rect x="413.35" y="301.82" width="12.75" height="4.225" fill="#fdb775"/>
<rect x="426.10" y="301.82" width="12.75" height="4.225" fill="#fc8d59"/>
<rect x="438.85" y="301.82" width="12.75" height="4.225" fill="#eff9dc"/>
<rect x="451.60" y="301.82" width="12.75" height="4.225" fill="#91bfdb"/>
<rect x="464.35" y="301.82" width="12.75" height="4.225" fill="#b8d9ea"/>
<rect x="477.10" y="301.82" width="12.75" height="4.225" fill="#e0f3f8"/>
<rect x="489.85" y="301.82" width="12.75" height="4.225" fill="#b8d9ea"/>
<rect x="357.2" y="306.05" width="8.9" height="4.225" stroke="#b0b0b0" fill="#fff"/>
<rect x="368.0" y="306.05" width="8.9" height="4.225" stroke="#b0b0b0" fill="#ff3d97"/>
<rect x="378.6" y="306.05" width="8.9" height="4.225" stroke="#b0b0b0" fill="#ff3d97"/>
<rect x="389.2" y="306.05" width="8.9" height="4.225" stroke="#b0b0b0" fill="#ff3d97"/>
<rect x="400.60" y="306.05" width="12.75" height="4.225" fill="#ffffbf"/>
<rect x="413.35" y="306.05" width="12.75" height="4.225" fill="#ea5f40"/>
<rect x="426.10" y="306.05" width="12.75" height="4.225" fill="#fdb775"/>
<rect x="438.85" y="306.05" width="12.75" height="4.225" fill="#fee090"/>
<rect x="451.60" y="306.05" width="12.75" height="4.225" fill="#91bfdb"/>
<rect x="464.35" y="306.05" width="12.75" height="4.225" fill="#eff9dc"/>
<rect x="477.10" y="306.05" width="12.75" height="4.225" fill="#eff9dc"/>
<rect x="489.85" y="306.05" width="12.75" height="4.225" fill="#ffffbf"/>
<rect x="357.2" y="310.27" width="8.9" height="4.225" stroke="#b0b0b0" fill="#fff"/>
<rect x="368.0" y="310.27" width="8.9" height="4.225" stroke="#b0b0b0" fill="#fff"/>
<rect x="378.6" y="310.27" width="8.9" height="4.225" stroke="#b0b0b0" fill="#ff3d97"/>
<rect x="389.2" y="310.27" width="8.9" height="4.225" stroke="#b0b0b0" fill="#fff"/>
<rect x="400.60" y="310.27" width="12.75" height="4.225" fill="#ffffbf"/>
<rect x="413.35" y="310.27" width="12.75" height="4.225" fill="#fdb775"/>
<rect x="426.10" y="310.27" width="12.75" height="4.225" fill="#fee090"/>
<rect x="438.85" y="310.27" width="12.75" height="4.225" fill="#fee090"/>
<rect x="451.60" y="310.27" width="12.75" height="4.225" fill="#4575b4"/>
<rect x="464.35" y="310.27" width="12.75" height="4.225" fill="#eff9dc"/>
<rect x="477.10" y="310.27" width="12.75" height="4.225" fill="#ffffbf"/>
<rect x="489.85" y="310.27" width="12.75" height="4.225" fill="#ffffbf"/>
<rect x="357.2" y="314.50" width="8.9" height="4.225" stroke="#b0b0b0" fill="#ff3d97"/>
<rect x="368.0" y="314.50" width="8.9" height="4.225" stroke="#b0b0b0" fill="#fff"/>
<rect x="378.6" y="314.50" width="8.9" height="4.225" stroke="#b0b0b0" fill="#fff"/>
<rect x="389.2" y="314.50" width="8.9" height="4.225" stroke="#b0b0b0" fill="#fff"/>
<rect x="400.60" y="314.50" width="12.75" height="4.225" fill="#eff9dc"/>
<rect x="413.35" y="314.50" width="12.75" height="4.225" fill="#fdb775"/>
<rect x="426.10" y="314.50" width="12.75" height="4.225" fill="#fdb775"/>
<rect x="438.85" y="314.50" width="12.75" height="4.225" fill="#fdb775"/>
<rect x="451.60" y="314.50" width="12.75" height="4.225" fill="#91bfdb"/>
<rect x="464.35" y="314.50" width="12.75" height="4.225" fill="#b8d9ea"/>
<rect x="477.10" y="314.50" width="12.75" height="4.225" fill="#eff9dc"/>
<rect x="489.85" y="314.50" width="12.75" height="4.225" fill="#e0f3f8"/>
<rect x="357.2" y="318.72" width="8.9" height="4.225" stroke="#b0b0b0" fill="#fff"/>
<rect x="368.0" y="318.72" width="8.9" height="4.225" stroke="#b0b0b0" fill="#fff"/>
<rect x="378.6" y="318.72" width="8.9" height="4.225" stroke="#b0b0b0" fill="#fff"/>
<rect x="389.2" y="318.72" width="8.9" height="4.225" stroke="#b0b0b0" fill="#ff3d97"/>
<rect x="400.60" y="318.72" width="12.75" height="4.225" fill="#fef0a8"/>
<rect x="413.35" y="318.72" width="12.75" height="4.225" fill="#fdb775"/>
<rect x="426.10" y="318.72" width="12.75" height="4.225" fill="#fdb775"/>
<rect x="438.85" y="318.72" width="12.75" height="4.225" fill="#ffffbf"/>
<rect x="451.60" y="318.72" width="12.75" height="4.225" fill="#4575b4"/>
<rect x="464.35" y="318.72" width="12.75" height="4.225" fill="#ffffbf"/>
<rect x="477.10" y="318.72" width="12.75" height="4.225" fill="#ffffbf"/>
<rect x="489.85" y="318.72" width="12.75" height="4.225" fill="#eff9dc"/>
<rect x="357.2" y="322.95" width="8.9" height="4.225" stroke="#b0b0b0" fill="#fff"/>
<rect x="368.0" y="322.95" width="8.9" height="4.225" stroke="#b0b0b0" fill="#fff"/>
<rect x="378.6" y="322.95" width="8.9" height="4.225" stroke="#b0b0b0" fill="#ff3d97"/>
<rect x="389.2" y="322.95" width="8.9" height="4.225" stroke="#b0b0b0" fill="#ff3d97"/>
<rect x="400.60" y="322.95" width="12.75" height="4.225" fill="#fee090"/>
<rect x="413.35" y="322.95" width="12.75" height="4.225" fill="#fdb775"/>
<rect x="426.10" y="322.95" width="12.75" height="4.225" fill="#fdb775"/>
<rect x="438.85" y="322.95" width="12.75" height="4.225" fill="#fef0a8"/>
<rect x="451.60" y="322.95" width="12.75" height="4.225" fill="#4575b4"/>
<rect x="464.35" y="322.95" width="12.75" height="4.225" fill="#ffffbf"/>
<rect x="477.10" y="322.95" width="12.75" height="4.225" fill="#eff9dc"/>
<rect x="489.85" y="322.95" width="12.75" height="4.225" fill="#eff9dc"/>
<rect x="357.2" y="327.17" width="8.9" height="4.225" stroke="#b0b0b0" fill="#ff3d97"/>
<rect x="368.0" y="327.17" width="8.9" height="4.225" stroke="#b0b0b0" fill="#fff"/>
<rect x="378.6" y="327.17" width="8.9" height="4.225" stroke="#b0b0b0" fill="#fff"/>
<rect x="389.2" y="327.17" width="8.9" height="4.225" stroke="#b0b0b0" fill="#fff"/>
<rect x="400.60" y="327.17" width="12.75" height="4.225" fill="#fef0a8"/>
<rect x="413.35" y="327.17" width="12.75" height="4.225" fill="#fdb775"/>
<rect x="426.10" y="327.17" width="12.75" height="4.225" fill="#fef0a8"/>
<rect x="438.85" y="327.17" width="12.75" height="4.225" fill="#fee090"/>
<rect x="451.60" y="327.17" width="12.75" height="4.225" fill="#4575b4"/>
<rect x="464.35" y="327.17" width="12.75" height="4.225" fill="#e0f3f8"/>
<rect x="477.10" y="327.17" width="12.75" height="4.225" fill="#ffffbf"/>
<rect x="489.85" y="327.17" width="12.75" height="4.225" fill="#eff9dc"/>
<rect x="357.2" y="331.40" width="8.9" height="4.225" stroke="#b0b0b0" fill="#fff"/>
<rect x="368.0" y="331.40" width="8.9" height="4.225" stroke="#b0b0b0" fill="#fff"/>
<rect x="378.6" y="331.40" width="8.9" height="4.225" stroke="#b0b0b0" fill="#ff3d97"/>
<rect x="389.2" y="331.40" width="8.9" height="4.225" stroke="#b0b0b0" fill="#ff3d97"/>
<rect x="400.60" y="331.40" width="12.75" height="4.225" fill="#fef0a8"/>
<rect x="413.35" y="331.40" width="12.75" height="4.225" fill="#fee090"/>
<rect x="426.10" y="331.40" width="12.75" height="4.225" fill="#fee090"/>
<rect x="438.85" y="331.40" width="12.75" height="4.225" fill="#fee090"/>
<rect x="451.60" y="331.40" width="12.75" height="4.225" fill="#4575b4"/>
<rect x="464.35" y="331.40" width="12.75" height="4.225" fill="#ffffbf"/>
<rect x="477.10" y="331.40" width="12.75" height="4.225" fill="#ffffbf"/>
<rect x="489.85" y="331.40" width="12.75" height="4.225" fill="#b8d9ea"/>
<rect x="357.2" y="335.62" width="8.9" height="4.225" stroke="#b0b0b0" fill="#fff"/>
<rect x="368.0" y="335.62" width="8.9" height="4.225" stroke="#b0b0b0" fill="#fff"/>
<rect x="378.6" y="335.62" width="8.9" height="4.225" stroke="#b0b0b0" fill="#fff"/>
<rect x="389.2" y="335.62" width="8.9" height="4.225" stroke="#b0b0b0" fill="#ff3d97"/>
<rect x="400.60" y="335.62" width="12.75" height="4.225" fill="#fef0a8"/>
<rect x="413.35" y="335.62" width="12.75" height="4.225" fill="#fdb775"/>
<rect x="426.10" y="335.62" width="12.75" height="4.225" fill="#fdb775"/>
<rect x="438.85" y="335.62" width="12.75" height="4.225" fill="#ffffbf"/>
<rect x="451.60" y="335.62" width="12.75" height="4.225" fill="#4575b4"/>
<rect x="464.35" y="335.62" width="12.75" height="4.225" fill="#eff9dc"/>
<rect x="477.10" y="335.62" width="12.75" height="4.225" fill="#eff9dc"/>
<rect x="489.85" y="335.62" width="12.75" height="4.225" fill="#eff9dc"/>
<rect x="357.2" y="339.85" width="8.9" height="4.225" stroke="#b0b0b0" fill="#fff"/>
<rect x="368.0" y="339.85" width="8.9" height="4.225" stroke="#b0b0b0" fill="#fff"/>
<rect x="378.6" y="339.85" width="8.9" height="4.225" stroke="#b0b0b0" fill="#ff3d97"/>
<rect x="389.2" y="339.85" width="8.9" height="4.225" stroke="#b0b0b0" fill="#ff3d97"/>
<rect x="400.60" y="339.85" width="12.75" height="4.225" fill="#ffffbf"/>
<rect x="413.35" y="339.85" width="12.75" height="4.225" fill="#fdb775"/>
<rect x="426.10" y="339.85" width="12.75" height="4.225" fill="#fee090"/>
<rect x="438.85" y="339.85" width="12.75" height="4.225" fill="#fdb775"/>
<rect x="451.60" y="339.85" width="12.75" height="4.225" fill="#4575b4"/>
<rect x="464.35" y="339.85" width="12.75" height="4.225" fill="#ffffbf"/>
<rect x="477.10" y="339.85" width="12.75" height="4.225" fill="#ffffbf"/>
<rect x="489.85" y="339.85" width="12.75" height="4.225" fill="#b8d9ea"/>
<rect x="357.2" y="344.07" width="8.9" height="4.225" stroke="#b0b0b0" fill="#fff"/>
<rect x="368.0" y="344.07" width="8.9" height="4.225" stroke="#b0b0b0" fill="#ff3d97"/>
<rect x="378.6" y="344.07" width="8.9" height="4.225" stroke="#b0b0b0" fill="#fff"/>
<rect x="389.2" y="344.07" width="8.9" height="4.225" stroke="#b0b0b0" fill="#fff"/>
<rect x="400.60" y="344.07" width="12.75" height="4.225" fill="#fc8d59"/>
<rect x="413.35" y="344.07" width="12.75" height="4.225" fill="#fdb775"/>
<rect x="426.10" y="344.07" width="12.75" height="4.225" fill="#eff9dc"/>
<rect x="438.85" y="344.07" width="12.75" height="4.225" fill="#ffffbf"/>
<rect x="451.60" y="344.07" width="12.75" height="4.225" fill="#91bfdb"/>
<rect x="464.35" y="344.07" width="12.75" height="4.225" fill="#ffffbf"/>
<rect x="477.10" y="344.07" width="12.75" height="4.225" fill="#ffffbf"/>
<rect x="489.85" y="344.07" width="12.75" height="4.225" fill="#eff9dc"/>
<rect x="357.2" y="348.30" width="8.9" height="4.225" stroke="#b0b0b0" fill="#fff"/>
<rect x="368.0" y="348.30" width="8.9" height="4.225" stroke="#b0b0b0" fill="#fff"/>
<rect x="378.6" y="348.30" width="8.9" height="4.225" stroke="#b0b0b0" fill="#fff"/>
<rect x="389.2" y="348.30" width="8.9" height="4.225" stroke="#b0b0b0" fill="#ff3d97"/>
<rect x="400.60" y="348.30" width="12.75" height="4.225" fill="#fee090"/>
<rect x="413.35" y="348.30" width="12.75" height="4.225" fill="#fdb775"/>
<rect x="426.10" y="348.30" width="12.75" height="4.225" fill="#e0f3f8"/>
<rect x="438.85" y="348.30" width="12.75" height="4.225" fill="#eff9dc"/>
<rect x="451.60" y="348.30" width="12.75" height="4.225" fill="#4575b4"/>
<rect x="464.35" y="348.30" width="12.75" height="4.225" fill="#ffffbf"/>
<rect x="477.10" y="348.30" width="12.75" height="4.225" fill="#eff9dc"/>
<rect x="489.85" y="348.30" width="12.75" height="4.225" fill="#eff9dc"/>
<rect x="357.2" y="352.52" width="8.9" height="4.225" stroke="#b0b0b0" fill="#fff"/>
<rect x="368.0" y="352.52" width="8.9" height="4.225" stroke="#b0b0b0" fill="#fff"/>
<rect x="378.6" y="352.52" width="8.9" height="4.225" stroke="#b0b0b0" fill="#fff"/>
<rect x="389.2" y="352.52" width="8.9" height="4.225" stroke="#b0b0b0" fill="#ff3d97"/>
<rect x="400.60" y="352.52" width="12.75" height="4.225" fill="#fee090"/>
<rect x="413.35" y="352.52" width="12.75" height="4.225" fill="#fee090"/>
<rect x="426.10" y="352.52" width="12.75" height="4.225" fill="#fdb775"/>
<rect x="438.85" y="352.52" width="12.75" height="4.225" fill="#fee090"/>
<rect x="451.60" y="352.52" width="12.75" height="4.225" fill="#91bfdb"/>
<rect x="464.35" y="352.52" width="12.75" height="4.225" fill="#eff9dc"/>
<rect x="477.10" y="352.52" width="12.75" height="4.225" fill="#b8d9ea"/>
<rect x="489.85" y="352.52" width="12.75" height="4.225" fill="#eff9dc"/>
<rect x="357.2" y="356.75" width="8.9" height="4.225" stroke="#b0b0b0" fill="#ff3d97"/>
<rect x="368.0" y="356.75" width="8.9" height="4.225" stroke="#b0b0b0" fill="#fff"/>
<rect x="378.6" y="356.75" width="8.9" height="4.225" stroke="#b0b0b0" fill="#fff"/>
<rect x="389.2" y="356.75" width="8.9" height="4.225" stroke="#b0b0b0" fill="#ff3d97"/>
<rect x="400.60" y="356.75" width="12.75" height="4.225" fill="#fef0a8"/>
<rect x="413.35" y="356.75" width="12.75" height="4.225" fill="#fdb775"/>
<rect x="426.10" y="356.75" width="12.75" height="4.225" fill="#fdb775"/>
<rect x="438.85" y="356.75" width="12.75" height="4.225" fill="#fef0a8"/>
<rect x="451.60" y="356.75" width="12.75" height="4.225" fill="#4575b4"/>
<rect x="464.35" y="356.75" width="12.75" height="4.225" fill="#eff9dc"/>
<rect x="477.10" y="356.75" width="12.75" height="4.225" fill="#eff9dc"/>
<rect x="489.85" y="356.75" width="12.75" height="4.225" fill="#e0f3f8"/>
<rect x="357.2" y="360.97" width="8.9" height="4.225" stroke="#b0b0b0" fill="#fff"/>
<rect x="368.0" y="360.97" width="8.9" height="4.225" stroke="#b0b0b0" fill="#ff3d97"/>
<rect x="378.6" y="360.97" width="8.9" height="4.225" stroke="#b0b0b0" fill="#fff"/>
<rect x="389.2" y="360.97" width="8.9" height="4.225" stroke="#b0b0b0" fill="#fff"/>
<rect x="400.60" y="360.97" width="12.75" height="4.225" fill="#fef0a8"/>
<rect x="413.35" y="360.97" width="12.75" height="4.225" fill="#ea5f40"/>
<rect x="426.10" y="360.97" width="12.75" height="4.225" fill="#fee090"/>
<rect x="438.85" y="360.97" width="12.75" height="4.225" fill="#fef0a8"/>
<rect x="451.60" y="360.97" width="12.75" height="4.225" fill="#b8d9ea"/>
<rect x="464.35" y="360.97" width="12.75" height="4.225" fill="#b8d9ea"/>
<rect x="477.10" y="360.97" width="12.75" height="4.225" fill="#ffffbf"/>
<rect x="489.85" y="360.97" width="12.75" height="4.225" fill="#e0f3f8"/>
<rect x="357.2" y="365.20" width="8.9" height="4.225" stroke="#b0b0b0" fill="#fff"/>
<rect x="368.0" y="365.20" width="8.9" height="4.225" stroke="#b0b0b0" fill="#fff"/>
<rect x="378.6" y="365.20" width="8.9" height="4.225" stroke="#b0b0b0" fill="#ff3d97"/>
<rect x="389.2" y="365.20" width="8.9" height="4.225" stroke="#b0b0b0" fill="#fff"/>
<rect x="400.60" y="365.20" width="12.75" height="4.225" fill="#fee090"/>
<rect x="413.35" y="365.20" width="12.75" height="4.225" fill="#fdb775"/>
<rect x="426.10" y="365.20" width="12.75" height="4.225" fill="#fee090"/>
<rect x="438.85" y="365.20" width="12.75" height="4.225" fill="#fef0a8"/>
<rect x="451.60" y="365.20" width="12.75" height="4.225" fill="#91bfdb"/>
<rect x="464.35" y="365.20" width="12.75" height="4.225" fill="#ffffbf"/>
<rect x="477.10" y="365.20" width="12.75" height="4.225" fill="#eff9dc"/>
<rect x="489.85" y="365.20" width="12.75" height="4.225" fill="#6b9ac8"/>
<rect x="357.2" y="369.42" width="8.9" height="4.225" stroke="#b0b0b0" fill="#ff3d97"/>
<rect x="368.0" y="369.42" width="8.9" height="4.225" stroke="#b0b0b0" fill="#fff"/>
<rect x="378.6" y="369.42" width="8.9" height="4.225" stroke="#b0b0b0" fill="#fff"/>
<rect x="389.2" y="369.42" width="8.9" height="4.225" stroke="#b0b0b0" fill="#fff"/>
<rect x="400.60" y="369.42" width="12.75" height="4.225" fill="#fef0a8"/>
<rect x="413.35" y="369.42" width="12.75" height="4.225" fill="#fdb775"/>
<rect x="426.10" y="369.42" width="12.75" height="4.225" fill="#fdb775"/>
<rect x="438.85" y="369.42" width="12.75" height="4.225" fill="#fef0a8"/>
<rect x="451.60" y="369.42" width="12.75" height="4.225" fill="#4575b4"/>
<rect x="464.35" y="369.42" width="12.75" height="4.225" fill="#b8d9ea"/>
<rect x="477.10" y="369.42" width="12.75" height="4.225" fill="#eff9dc"/>
<rect x="489.85" y="369.42" width="12.75" height="4.225" fill="#ffffbf"/>
<rect x="357.2" y="373.65" width="8.9" height="4.225" stroke="#b0b0b0" fill="#fff"/>
<rect x="368.0" y="373.65" width="8.9" height="4.225" stroke="#b0b0b0" fill="#fff"/>
<rect x="378.6" y="373.65" width="8.9" height="4.225" stroke="#b0b0b0" fill="#ff3d97"/>
<rect x="389.2" y="373.65" width="8.9" height="4.225" stroke="#b0b0b0" fill="#fff"/>
<rect x="400.60" y="373.65" width="12.75" height="4.225" fill="#fef0a8"/>
<rect x="413.35" y="373.65" width="12.75" height="4.225" fill="#fdb775"/>
<rect x="426.10" y="373.65" width="12.75" height="4.225" fill="#fee090"/>
<rect x="438.85" y="373.65" width="12.75" height="4.225" fill="#ffffbf"/>
<rect x="451.60" y="373.65" width="12.75" height="4.225" fill="#4575b4"/>
<rect x="464.35" y="373.65" width="12.75" height="4.225" fill="#eff9dc"/>
<rect x="477.10" y="373.65" width="12.75" height="4.225" fill="#ffffbf"/>
<rect x="489.85" y="373.65" width="12.75" height="4.225" fill="#ffffbf"/>
<rect x="357.2" y="377.87" width="8.9" height="4.225" stroke="#b0b0b0" fill="#fff"/>
<rect x="368.0" y="377.87" width="8.9" height="4.225" stroke="#b0b0b0" fill="#fff"/>
<rect x="378.6" y="377.87" width="8.9" height="4.225" stroke="#b0b0b0" fill="#ff3d97"/>
<rect x="389.2" y="377.87" width="8.9" height="4.225" stroke="#b0b0b0" fill="#fff"/>
<rect x="400.60" y="377.87" width="12.75" height="4.225" fill="#ffffbf"/>
<rect x="413.35" y="377.87" width="12.75" height="4.225" fill="#fee090"/>
<rect x="426.10" y="377.87" width="12.75" height="4.225" fill="#ea5f40"/>
<rect x="438.85" y="377.87" width="12.75" height="4.225" fill="#fef0a8"/>
<rect x="451.60" y="377.87" width="12.75" height="4.225" fill="#b8d9ea"/>
<rect x="464.35" y="377.87" width="12.75" height="4.225" fill="#eff9dc"/>
<rect x="477.10" y="377.87" width="12.75" height="4.225" fill="#eff9dc"/>
<rect x="489.85" y="377.87" width="12.75" height="4.225" fill="#e0f3f8"/>
<rect x="357.2" y="382.10" width="8.9" height="4.225" stroke="#b0b0b0" fill="#fff"/>
<rect x="368.0" y="382.10" width="8.9" height="4.225" stroke="#b0b0b0" fill="#ff3d97"/>
<rect x="378.6" y="382.10" width="8.9" height="4.225" stroke="#b0b0b0" fill="#fff"/>
<rect x="389.2" y="382.10" width="8.9" height="4.225" stroke="#b0b0b0" fill="#fff"/>
<rect x="400.60" y="382.10" width="12.75" height="4.225" fill="#eff9dc"/>
<rect x="413.35" y="382.10" width="12.75" height="4.225" fill="#fee090"/>
<rect x="426.10" y="382.10" width="12.75" height="4.225" fill="#fc8d59"/>
<rect x="438.85" y="382.10" width="12.75" height="4.225" fill="#fee090"/>
<rect x="451.60" y="382.10" width="12.75" height="4.225" fill="#b8d9ea"/>
<rect x="464.35" y="382.10" width="12.75" height="4.225" fill="#fef0a8"/>
<rect x="477.10" y="382.10" width="12.75" height="4.225" fill="#b8d9ea"/>
<rect x="489.85" y="382.10" width="12.75" height="4.225" fill="#b8d9ea"/>
<rect x="357.2" y="386.32" width="8.9" height="4.225" stroke="#b0b0b0" fill="#fff"/>
<rect x="368.0" y="386.32" width="8.9" height="4.225" stroke="#b0b0b0" fill="#fff"/>
<rect x="378.6" y="386.32" width="8.9" height="4.225" stroke="#b0b0b0" fill="#ff3d97"/>
<rect x="389.2" y="386.32" width="8.9" height="4.225" stroke="#b0b0b0" fill="#fff"/>
<rect x="400.60" y="386.32" width="12.75" height="4.225" fill="#eff9dc"/>
<rect x="413.35" y="386.32" width="12.75" height="4.225" fill="#fc8d59"/>
<rect x="426.10" y="386.32" width="12.75" height="4.225" fill="#fee090"/>
<rect x="438.85" y="386.32" width="12.75" height="4.225" fill="#fef0a8"/>
<rect x="451.60" y="386.32" width="12.75" height="4.225" fill="#6b9ac8"/>
<rect x="464.35" y="386.32" width="12.75" height="4.225" fill="#eff9dc"/>
<rect x="477.10" y="386.32" width="12.75" height="4.225" fill="#e0f3f8"/>
<rect x="489.85" y="386.32" width="12.75" height="4.225" fill="#e0f3f8"/>
<rect x="357.2" y="390.55" width="8.9" height="4.225" stroke="#b0b0b0" fill="#fff"/>
<rect x="368.0" y="390.55" width="8.9" height="4.225" stroke="#b0b0b0" fill="#ff3d97"/>
<rect x="378.6" y="390.55" width="8.9" height="4.225" stroke="#b0b0b0" fill="#fff"/>
<rect x="389.2" y="390.55" width="8.9" height="4.225" stroke="#b0b0b0" fill="#fff"/>
<rect x="400.60" y="390.55" width="12.75" height="4.225" fill="#fdb775"/>
<rect x="413.35" y="390.55" width="12.75" height="4.225" fill="#fdb775"/>
<rect x="426.10" y="390.55" width="12.75" height="4.225" fill="#fdb775"/>
<rect x="438.85" y="390.55" width="12.75" height="4.225" fill="#b8d9ea"/>
<rect x="451.60" y="390.55" width="12.75" height="4.225" fill="#91bfdb"/>
<rect x="464.35" y="390.55" width="12.75" height="4.225" fill="#eff9dc"/>
<rect x="477.10" y="390.55" width="12.75" height="4.225" fill="#ffffbf"/>
<rect x="489.85" y="390.55" width="12.75" height="4.225" fill="#e0f3f8"/>
<rect x="357.2" y="394.77" width="8.9" height="4.225" stroke="#b0b0b0" fill="#fff"/>
<rect x="368.0" y="394.77" width="8.9" height="4.225" stroke="#b0b0b0" fill="#fff"/>
<rect x="378.6" y="394.77" width="8.9" height="4.225" stroke="#b0b0b0" fill="#fff"/>
<rect x="389.2" y="394.77" width="8.9" height="4.225" stroke="#b0b0b0" fill="#ff3d97"/>
<rect x="400.60" y="394.77" width="12.75" height="4.225" fill="#fee090"/>
<rect x="413.35" y="394.77" width="12.75" height="4.225" fill="#fdb775"/>
<rect x="426.10" y="394.77" width="12.75" height="4.225" fill="#fdb775"/>
<rect x="438.85" y="394.77" width="12.75" height="4.225" fill="#fef0a8"/>
<rect x="451.60" y="394.77" width="12.75" height="4.225" fill="#91bfdb"/>
<rect x="464.35" y="394.77" width="12.75" height="4.225" fill="#e0f3f8"/>
<rect x="477.10" y="394.77" width="12.75" height="4.225" fill="#fdb775"/>
<rect x="489.85" y="394.77" width="12.75" height="4.225" fill="#b8d9ea"/>
<rect x="357.2" y="399.00" width="8.9" height="4.225" stroke="#b0b0b0" fill="#fff"/>
<rect x="368.0" y="399.00" width="8.9" height="4.225" stroke="#b0b0b0" fill="#fff"/>
<rect x="378.6" y="399.00" width="8.9" height="4.225" stroke="#b0b0b0" fill="#fff"/>
<rect x="389.2" y="399.00" width="8.9" height="4.225" stroke="#b0b0b0" fill="#ff3d97"/>
<rect x="400.60" y="399.00" width="12.75" height="4.225" fill="#fdb775"/>
<rect x="413.35" y="399.00" width="12.75" height="4.225" fill="#fee090"/>
<rect x="426.10" y="399.00" width="12.75" height="4.225" fill="#fee090"/>
<rect x="438.85" y="399.00" width="12.75" height="4.225" fill="#fee090"/>
<rect x="451.60" y="399.00" width="12.75" height="4.225" fill="#4575b4"/>
<rect x="464.35" y="399.00" width="12.75" height="4.225" fill="#eff9dc"/>
<rect x="477.10" y="399.00" width="12.75" height="4.225" fill="#ffffbf"/>
<rect x="489.85" y="399.00" width="12.75" height="4.225" fill="#ffffbf"/>
<rect x="357.2" y="403.22" width="8.9" height="4.225" stroke="#b0b0b0" fill="#ff3d97"/>
<rect x="368.0" y="403.22" width="8.9" height="4.225" stroke="#b0b0b0" fill="#fff"/>
<rect x="378.6" y="403.22" width="8.9" height="4.225" stroke="#b0b0b0" fill="#fff"/>
<rect x="389.2" y="403.22" width="8.9" height="4.225" stroke="#b0b0b0" fill="#fff"/>
<rect x="400.60" y="403.22" width="12.75" height="4.225" fill="#fee090"/>
<rect x="413.35" y="403.22" width="12.75" height="4.225" fill="#fee090"/>
<rect x="426.10" y="403.22" width="12.75" height="4.225" fill="#fdb775"/>
<rect x="438.85" y="403.22" width="12.75" height="4.225" fill="#fef0a8"/>
<rect x="451.60" y="403.22" width="12.75" height="4.225" fill="#6b9ac8"/>
<rect x="464.35" y="403.22" width="12.75" height="4.225" fill="#ffffbf"/>
<rect x="477.10" y="403.22" width="12.75" height="4.225" fill="#ffffbf"/>
<rect x="489.85" y="403.22" width="12.75" height="4.225" fill="#e0f3f8"/>
<rect x="357.2" y="407.45" width="8.9" height="4.225" stroke="#b0b0b0" fill="#fff"/>
<rect x="368.0" y="407.45" width="8.9" height="4.225" stroke="#b0b0b0" fill="#ff3d97"/>
<rect x="378.6" y="407.45" width="8.9" height="4.225" stroke="#b0b0b0" fill="#fff"/>
<rect x="389.2" y="407.45" width="8.9" height="4.225" stroke="#b0b0b0" fill="#fff"/>
<rect x="400.60" y="407.45" width="12.75" height="4.225" fill="#e0f3f8"/>
<rect x="413.35" y="407.45" width="12.75" height="4.225" fill="#fc8d59"/>
<rect x="426.10" y="407.45" width="12.75" height="4.225" fill="#fc8d59"/>
<rect x="438.85" y="407.45" width="12.75" height="4.225" fill="#fef0a8"/>
<rect x="451.60" y="407.45" width="12.75" height="4.225" fill="#b8d9ea"/>
<rect x="464.35" y="407.45" width="12.75" height="4.225" fill="#ffffbf"/>
<rect x="477.10" y="407.45" width="12.75" height="4.225" fill="#ffffbf"/>
<rect x="489.85" y="407.45" width="12.75" height="4.225" fill="#e0f3f8"/>
<rect x="357.2" y="411.67" width="8.9" height="4.225" stroke="#b0b0b0" fill="#fff"/>
<rect x="368.0" y="411.67" width="8.9" height="4.225" stroke="#b0b0b0" fill="#fff"/>
<rect x="378.6" y="411.67" width="8.9" height="4.225" stroke="#b0b0b0" fill="#ff3d97"/>
<rect x="389.2" y="411.67" width="8.9" height="4.225" stroke="#b0b0b0" fill="#ff3d97"/>
<rect x="400.60" y="411.67" width="12.75" height="4.225" fill="#ffffbf"/>
<rect x="413.35" y="411.67" width="12.75" height="4.225" fill="#fdb775"/>
<rect x="426.10" y="411.67" width="12.75" height="4.225" fill="#fc8d59"/>
<rect x="438.85" y="411.67" width="12.75" height="4.225" fill="#fef0a8"/>
<rect x="451.60" y="411.67" width="12.75" height="4.225" fill="#4575b4"/>
<rect x="464.35" y="411.67" width="12.75" height="4.225" fill="#e0f3f8"/>
<rect x="477.10" y="411.67" width="12.75" height="4.225" fill="#ffffbf"/>
<rect x="489.85" y="411.67" width="12.75" height="4.225" fill="#eff9dc"/>
<rect x="357.2" y="415.90" width="8.9" height="4.225" stroke="#b0b0b0" fill="#fff"/>
<rect x="368.0" y="415.90" width="8.9" height="4.225" stroke="#b0b0b0" fill="#ff3d97"/>
<rect x="378.6" y="415.90" width="8.9" height="4.225" stroke="#b0b0b0" fill="#ff3d97"/>
<rect x="389.2" y="415.90" width="8.9" height="4.225" stroke="#b0b0b0" fill="#fff"/>
<rect x="400.60" y="415.90" width="12.75" height="4.225" fill="#fef0a8"/>
<rect x="413.35" y="415.90" width="12.75" height="4.225" fill="#fdb775"/>
<rect x="426.10" y="415.90" width="12.75" height="4.225" fill="#fee090"/>
<rect x="438.85" y="415.90" width="12.75" height="4.225" fill="#fef0a8"/>
<rect x="451.60" y="415.90" width="12.75" height="4.225" fill="#6b9ac8"/>
<rect x="464.35" y="415.90" width="12.75" height="4.225" fill="#b8d9ea"/>
<rect x="477.10" y="415.90" width="12.75" height="4.225" fill="#ffffbf"/>
<rect x="489.85" y="415.90" width="12.75" height="4.225" fill="#fee090"/>
<rect x="357.2" y="420.12" width="8.9" height="4.225" stroke="#b0b0b0" fill="#fff"/>
<rect x="368.0" y="420.12" width="8.9" height="4.225" stroke="#b0b0b0" fill="#ff3d97"/>
<rect x="378.6" y="420.12" width="8.9" height="4.225" stroke="#b0b0b0" fill="#fff"/>
<rect x="389.2" y="420.12" width="8.9" height="4.225" stroke="#b0b0b0" fill="#fff"/>
<rect x="400.60" y="420.12" width="12.75" height="4.225" fill="#eff9dc"/>
<rect x="413.35" y="420.12" width="12.75" height="4.225" fill="#fee090"/>
<rect x="426.10" y="420.12" width="12.75" height="4.225" fill="#fc8d59"/>
<rect x="438.85" y="420.12" width="12.75" height="4.225" fill="#fc8d59"/>
<rect x="451.60" y="420.12" width="12.75" height="4.225" fill="#91bfdb"/>
<rect x="464.35" y="420.12" width="12.75" height="4.225" fill="#b8d9ea"/>
<rect x="477.10" y="420.12" width="12.75" height="4.225" fill="#eff9dc"/>
<rect x="489.85" y="420.12" width="12.75" height="4.225" fill="#ffffbf"/>
<rect x="357.2" y="424.35" width="8.9" height="4.225" stroke="#b0b0b0" fill="#fff"/>
<rect x="368.0" y="424.35" width="8.9" height="4.225" stroke="#b0b0b0" fill="#fff"/>
<rect x="378.6" y="424.35" width="8.9" height="4.225" stroke="#b0b0b0" fill="#fff"/>
<rect x="389.2" y="424.35" width="8.9" height="4.225" stroke="#b0b0b0" fill="#ff3d97"/>
<rect x="400.60" y="424.35" width="12.75" height="4.225" fill="#fef0a8"/>
<rect x="413.35" y="424.35" width="12.75" height="4.225" fill="#fc8d59"/>
<rect x="426.10" y="424.35" width="12.75" height="4.225" fill="#fee090"/>
<rect x="438.85" y="424.35" width="12.75" height="4.225" fill="#fef0a8"/>
<rect x="451.60" y="424.35" width="12.75" height="4.225" fill="#b8d9ea"/>
<rect x="464.35" y="424.35" width="12.75" height="4.225" fill="#ffffbf"/>
<rect x="477.10" y="424.35" width="12.75" height="4.225" fill="#ffffbf"/>
<rect x="489.85" y="424.35" width="12.75" height="4.225" fill="#91bfdb"/>
<rect x="357.2" y="428.57" width="8.9" height="4.225" stroke="#b0b0b0" fill="#ff3d97"/>
<rect x="368.0" y="428.57" width="8.9" height="4.225" stroke="#b0b0b0" fill="#fff"/>
<rect x="378.6" y="428.57" width="8.9" height="4.225" stroke="#b0b0b0" fill="#fff"/>
<rect x="389.2" y="428.57" width="8.9" height="4.225" stroke="#b0b0b0" fill="#fff"/>
<rect x="400.60" y="428.57" width="12.75" height="4.225" fill="#fef0a8"/>
<rect x="413.35" y="428.57" width="12.75" height="4.225" fill="#fc8d59"/>
<rect x="426.10" y="428.57" width="12.75" height="4.225" fill="#fee090"/>
<rect x="438.85" y="428.57" width="12.75" height="4.225" fill="#ffffbf"/>
<rect x="451.60" y="428.57" width="12.75" height="4.225" fill="#6b9ac8"/>
<rect x="464.35" y="428.57" width="12.75" height="4.225" fill="#ffffbf"/>
<rect x="477.10" y="428.57" width="12.75" height="4.225" fill="#ffffbf"/>
<rect x="489.85" y="428.57" width="12.75" height="4.225" fill="#eff9dc"/>
<rect x="357.2" y="432.80" width="8.9" height="4.225" stroke="#b0b0b0" fill="#fff"/>
<rect x="368.0" y="432.80" width="8.9" height="4.225" stroke="#b0b0b0" fill="#fff"/>
<rect x="378.6" y="432.80" width="8.9" height="4.225" stroke="#b0b0b0" fill="#ff3d97"/>
<rect x="389.2" y="432.80" width="8.9" height="4.225" stroke="#b0b0b0" fill="#ff3d97"/>
<rect x="400.60" y="432.80" width="12.75" height="4.225" fill="#fef0a8"/>
<rect x="413.35" y="432.80" width="12.75" height="4.225" fill="#fdb775"/>
<rect x="426.10" y="432.80" width="12.75" height="4.225" fill="#fee090"/>
<rect x="438.85" y="432.80" width="12.75" height="4.225" fill="#fef0a8"/>
<rect x="451.60" y="432.80" width="12.75" height="4.225" fill="#91bfdb"/>
<rect x="464.35" y="432.80" width="12.75" height="4.225" fill="#eff9dc"/>
<rect x="477.10" y="432.80" width="12.75" height="4.225" fill="#fee090"/>
<rect x="489.85" y="432.80" width="12.75" height="4.225" fill="#eff9dc"/>
<rect x="357.2" y="437.02" width="8.9" height="4.225" stroke="#b0b0b0" fill="#fff"/>
<rect x="368.0" y="437.02" width="8.9" height="4.225" stroke="#b0b0b0" fill="#fff"/>
<rect x="378.6" y="437.02" width="8.9" height="4.225" stroke="#b0b0b0" fill="#fff"/>
<rect x="389.2" y="437.02" width="8.9" height="4.225" stroke="#b0b0b0" fill="#ff3d97"/>
<rect x="400.60" y="437.02" width="12.75" height="4.225" fill="#fdb775"/>
<rect x="413.35" y="437.02" width="12.75" height="4.225" fill="#fc8d59"/>
<rect x="426.10" y="437.02" width="12.75" height="4.225" fill="#fee090"/>
<rect x="438.85" y="437.02" width="12.75" height="4.225" fill="#e0f3f8"/>
<rect x="451.60" y="437.02" width="12.75" height="4.225" fill="#b8d9ea"/>
<rect x="464.35" y="437.02" width="12.75" height="4.225" fill="#b8d9ea"/>
<rect x="477.10" y="437.02" width="12.75" height="4.225" fill="#e0f3f8"/>
<rect x="489.85" y="437.02" width="12.75" height="4.225" fill="#ffffbf"/>
<rect x="357.2" y="441.25" width="8.9" height="4.225" stroke="#b0b0b0" fill="#fff"/>
<rect x="368.0" y="441.25" width="8.9" height="4.225" stroke="#b0b0b0" fill="#fff"/>
<rect x="378.6" y="441.25" width="8.9" height="4.225" stroke="#b0b0b0" fill="#fff"/>
<rect x="389.2" y="441.25" width="8.9" height="4.225" stroke="#b0b0b0" fill="#ff3d97"/>
<rect x="400.60" y="441.25" width="12.75" height="4.225" fill="#fee090"/>
<rect x="413.35" y="441.25" width="12.75" height="4.225" fill="#fc8d59"/>
<rect x="426.10" y="441.25" width="12.75" height="4.225" fill="#fdb775"/>
<rect x="438.85" y="441.25" width="12.75" height="4.225" fill="#ffffbf"/>
<rect x="451.60" y="441.25" width="12.75" height="4.225" fill="#4575b4"/>
<rect x="464.35" y="441.25" width="12.75" height="4.225" fill="#eff9dc"/>
<rect x="477.10" y="441.25" width="12.75" height="4.225" fill="#fef0a8"/>
<rect x="489.85" y="441.25" width="12.75" height="4.225" fill="#eff9dc"/>
<rect x="357.2" y="445.47" width="8.9" height="4.225" stroke="#b0b0b0" fill="#fff"/>
<rect x="368.0" y="445.47" width="8.9" height="4.225" stroke="#b0b0b0" fill="#fff"/>
<rect x="378.6" y="445.47" width="8.9" height="4.225" stroke="#b0b0b0" fill="#ff3d97"/>
<rect x="389.2" y="445.47" width="8.9" height="4.225" stroke="#b0b0b0" fill="#fff"/>
<rect x="400.60" y="445.47" width="12.75" height="4.225" fill="#fee090"/>
<rect x="413.35" y="445.47" width="12.75" height="4.225" fill="#fdb775"/>
<rect x="426.10" y="445.47" width="12.75" height="4.225" fill="#fee090"/>
<rect x="438.85" y="445.47" width="12.75" height="4.225" fill="#fef0a8"/>
<rect x="451.60" y="445.47" width="12.75" height="4.225" fill="#6b9ac8"/>
<rect x="464.35" y="445.47" width="12.75" height="4.225" fill="#eff9dc"/>
<rect x="477.10" y="445.47" width="12.75" height="4.225" fill="#eff9dc"/>
<rect x="489.85" y="445.47" width="12.75" height="4.225" fill="#eff9dc"/>
<rect x="357.2" y="27.2" width="8.9" height="422.50" fill="none" stroke="#b4b4b4" stroke-width="0.8"/>
<rect x="368.0" y="27.2" width="8.9" height="422.50" fill="none" stroke="#b4b4b4" stroke-width="0.8"/>
<rect x="378.6" y="27.2" width="8.9" height="422.50" fill="none" stroke="#b4b4b4" stroke-width="0.8"/>
<rect x="389.2" y="27.2" width="8.9" height="422.50" fill="none" stroke="#b4b4b4" stroke-width="0.8"/>
<rect x="400.60" y="16" width="12.75" height="8.1" fill="#ff0000"/>
<rect x="413.35" y="16" width="12.75" height="8.1" fill="#ff0000"/>
<rect x="426.10" y="16" width="12.75" height="8.1" fill="#ff0000"/>
<rect x="438.85" y="16" width="12.75" height="8.1" fill="#ff0000"/>
<rect x="451.60" y="16" width="12.75" height="8.1" fill="#0000ff"/>
<rect x="464.35" y="16" width="12.75" height="8.1" fill="#0000ff"/>
<rect x="477.10" y="16" width="12.75" height="8.1" fill="#0000ff"/>
<rect x="489.85" y="16" width="12.75" height="8.1" fill="#0000ff"/>
</g>
<g font-size="4.7" font-style="italic" fill="#222" transform="rotate(0.03 505 240)">
<text x="505.6" y="30.91">Bmp8b</text>
<text x="505.6" y="35.14">Tnfrsf12a</text>
<text x="505.6" y="39.36">Tnfaip3</text>
<text x="505.6" y="43.59">Nfkb2</text>
<text x="505.6" y="47.81">Cxcl14</text>
<text x="505.6" y="52.04">Creb3l1</text>
<text x="505.6" y="56.26">Traf2</text>
<text x="505.6" y="60.49">Tnfsf12</text>
<text x="505.6" y="64.71">Il10rb</text>
<text x="505.6" y="68.94">Cxcl16</text>
<text x="505.6" y="73.16">Relb</text>
<text x="505.6" y="77.39">Il2rg</text>
<text x="505.6" y="81.61">Cxcl2</text>
<text x="505.6" y="85.84">Ccl4</text>
<text x="505.6" y="90.06">Traf1</text>
<text x="505.6" y="94.29">Cxcl1</text>
<text x="505.6" y="98.51">Il1a</text>
<text x="505.6" y="102.74">Tgfb3</text>
<text x="505.6" y="106.96">Plau</text>
<text x="505.6" y="111.19">Ccl2</text>
<text x="505.6" y="115.41">Csf2ra</text>
<text x="505.6" y="119.64">Gnb5</text>
<text x="505.6" y="123.86">Ccl24</text>
<text x="505.6" y="128.09">Cx3cl1</text>
<text x="505.6" y="132.31">Ccl7</text>
<text x="505.6" y="136.54">Mapk3</text>
<text x="505.6" y="140.76">Ccl5</text>
<text x="505.6" y="144.99">Ccl3</text>
<text x="505.6" y="149.21">Irak2</text>
<text x="505.6" y="153.44">Tnfrsf10b</text>
<text x="505.6" y="157.66">Ngf</text>
<text x="505.6" y="161.89">Blnk</text>
<text x="505.6" y="166.11">Adcy1</text>
<text x="505.6" y="170.34">Elmo1</text>
<text x="505.6" y="174.56">Ccl9</text>
<text x="505.6" y="178.79">Cxcl10</text>
<text x="505.6" y="183.01">Bcl2a1b</text>
<text x="505.6" y="187.24">Lif</text>
<text x="505.6" y="191.46">Arrb2</text>
<text x="505.6" y="195.69">Cxcr4</text>
<text x="505.6" y="199.91">Il1b</text>
<text x="505.6" y="204.14">Il1rn</text>
<text x="505.6" y="208.36">Grap2</text>
<text x="505.6" y="212.59">Pf4</text>
<text x="505.6" y="216.81">Bcl2</text>
<text x="505.6" y="221.04">Icam1</text>
<text x="505.6" y="225.26">Adcy2</text>
<text x="505.6" y="229.49">Clcf1</text>
<text x="505.6" y="233.71">Csf3r</text>
<text x="505.6" y="237.94">Grk3</text>
<text x="505.6" y="242.16">Src</text>
<text x="505.6" y="246.39">Tgfb2</text>
<text x="505.6" y="250.61">Gdf5</text>
<text x="505.6" y="254.84">Tnf</text>
<text x="505.6" y="259.06">Lck</text>
<text x="505.6" y="263.29">Creb5</text>
<text x="505.6" y="267.51">Il33</text>
<text x="505.6" y="271.74">Pak1</text>
<text x="505.6" y="275.96">Prkcb</text>
<text x="505.6" y="280.19">Mapk13</text>
<text x="505.6" y="284.41">Csf1</text>
<text x="505.6" y="288.64">Ccr1</text>
<text x="505.6" y="292.86">Tgfb1</text>
<text x="505.6" y="297.09">Map3k14</text>
<text x="505.6" y="301.31">Nfkbia</text>
<text x="505.6" y="305.54">Osmr</text>
<text x="505.6" y="309.76">Ccl12</text>
<text x="505.6" y="313.99">Adcy7</text>
<text x="505.6" y="318.21">Lat</text>
<text x="505.6" y="322.44">Angpt1</text>
<text x="505.6" y="326.66">Cx3cr1</text>
<text x="505.6" y="330.89">Syk</text>
<text x="505.6" y="335.11">Ccr7</text>
<text x="505.6" y="339.34">Csf2rb2</text>
<text x="505.6" y="343.56">Cxcl9</text>
<text x="505.6" y="347.79">Sele</text>
<text x="505.6" y="352.01">Il10ra</text>
<text x="505.6" y="356.24">Ccl17</text>
<text x="505.6" y="360.46">Tnfrsf11a</text>
<text x="505.6" y="364.69">Birc3</text>
<text x="505.6" y="368.91">Gng11</text>
<text x="505.6" y="373.14">Card11</text>
<text x="505.6" y="377.36">Plcb2</text>
<text x="505.6" y="381.59">Shc4</text>
<text x="505.6" y="385.81">Creb1</text>
<text x="505.6" y="390.04">Pik3r5</text>
<text x="505.6" y="394.26">Mmp14</text>
<text x="505.6" y="398.49">Gdf10</text>
<text x="505.6" y="402.71">Tlr2</text>
<text x="505.6" y="406.94">Card14</text>
<text x="505.6" y="411.16">Birc2</text>
<text x="505.6" y="415.39">Ccr2</text>
<text x="505.6" y="419.61">Pik3cd</text>
<text x="505.6" y="423.84">Bcl3</text>
<text x="505.6" y="428.06">Il17ra</text>
<text x="505.6" y="432.29">Bcl2a1d</text>
<text x="505.6" y="436.51">Cxcr3</text>
<text x="505.6" y="440.74">Il12</text>
<text x="505.6" y="444.96">Gdf3</text>
<text x="505.6" y="449.19">Dock2</text>
</g>
<text x="505.60" y="22.90" font-size="8.4" textLength="24.6" lengthAdjust="spacingAndGlyphs" fill="#1a1a1a">Group</text>
<defs><linearGradient id="cb" x1="0" y1="0" x2="0" y2="1">
<stop offset="0.0000" stop-color="#d73027"/>
<stop offset="0.1984" stop-color="#fc8d59"/>
<stop offset="0.3508" stop-color="#fee090"/>
<stop offset="0.5034" stop-color="#ffffbf"/>
<stop offset="0.6561" stop-color="#e0f3f8"/>
<stop offset="0.8085" stop-color="#91bfdb"/>
<stop offset="1.0000" stop-color="#4575b4"/>
</linearGradient></defs>
<rect x="534.70" y="15.00" width="10.20" height="157.60" fill="url(#cb)"/>
<text x="548.40" y="24.30" font-size="7.2" fill="#1a1a1a">2</text>
<text x="548.40" y="60.30" font-size="7.2" fill="#1a1a1a">1</text>
<text x="548.40" y="96.30" font-size="7.2" fill="#1a1a1a">0</text>
<text x="547.90" y="132.30" font-size="7.2" fill="#1a1a1a">–1</text>
<text x="547.90" y="168.30" font-size="7.2" fill="#1a1a1a">–2</text>
<text x="561.70" y="20.30" font-size="8.8" textLength="24.6" lengthAdjust="spacingAndGlyphs" fill="#1a1a1a">Group</text>
<rect x="562.40" y="26.10" width="7.80" height="7.60" fill="#0000ff"/>
<text x="574.80" y="32.90" font-size="8.4" textLength="43.0" lengthAdjust="spacingAndGlyphs" fill="#1a1a1a">AAV-AGXT</text>
<rect x="562.40" y="39.90" width="7.80" height="7.60" fill="#ff0000"/>
<text x="574.80" y="46.70" font-size="8.4" textLength="36.5" lengthAdjust="spacingAndGlyphs" fill="#1a1a1a">AAV-GFP</text>
<text x="561.70" y="64.70" font-size="8.8" textLength="101.0" lengthAdjust="spacingAndGlyphs" fill="#1a1a1a">NF-κB signalling pathway</text>
<rect x="562.40" y="70.50" width="7.80" height="7.60" fill="#ff3d97"/>
<text x="574.80" y="77.30" font-size="8.4" textLength="14.5" lengthAdjust="spacingAndGlyphs" fill="#1a1a1a">Yes</text>
<rect x="562.40" y="84.10" width="7.80" height="7.60" fill="#fff" stroke="#999" stroke-width="0.6"/>
<text x="574.80" y="90.90" font-size="8.4" textLength="11.5" lengthAdjust="spacingAndGlyphs" fill="#1a1a1a">No</text>
<text x="561.70" y="108.90" font-size="8.8" textLength="92.5" lengthAdjust="spacingAndGlyphs" fill="#1a1a1a">TNF signalling pathway</text>
<rect x="562.40" y="114.60" width="7.80" height="7.60" fill="#ff3d97"/>
<text x="574.80" y="121.40" font-size="8.4" textLength="14.5" lengthAdjust="spacingAndGlyphs" fill="#1a1a1a">Yes</text>
<rect x="562.40" y="128.10" width="7.80" height="7.60" fill="#fff" stroke="#999" stroke-width="0.6"/>
<text x="574.80" y="134.90" font-size="8.4" textLength="11.5" lengthAdjust="spacingAndGlyphs" fill="#1a1a1a">No</text>
<text x="561.70" y="152.90" font-size="8.8" textLength="123.0" lengthAdjust="spacingAndGlyphs" fill="#1a1a1a">Chemokine signalling pathway</text>
<rect x="562.40" y="158.80" width="7.80" height="7.60" fill="#ff3d97"/>
<text x="574.80" y="165.60" font-size="8.4" textLength="14.5" lengthAdjust="spacingAndGlyphs" fill="#1a1a1a">Yes</text>
<rect x="562.40" y="172.30" width="7.80" height="7.60" fill="#fff" stroke="#999" stroke-width="0.6"/>
<text x="574.80" y="179.10" font-size="8.4" textLength="11.5" lengthAdjust="spacingAndGlyphs" fill="#1a1a1a">No</text>
<text x="561.70" y="195.00" font-size="8.8" textLength="110.5" lengthAdjust="spacingAndGlyphs" fill="#1a1a1a">Cytokine–cytokine receptor</text>
<text x="561.70" y="204.80" font-size="8.8" textLength="44.0" lengthAdjust="spacingAndGlyphs" fill="#1a1a1a">interaction</text>
<rect x="562.40" y="209.90" width="7.80" height="7.60" fill="#ff3d97"/>
<text x="574.80" y="216.70" font-size="8.4" textLength="14.5" lengthAdjust="spacingAndGlyphs" fill="#1a1a1a">Yes</text>
<rect x="562.40" y="223.70" width="7.80" height="7.60" fill="#fff" stroke="#999" stroke-width="0.6"/>
<text x="574.80" y="230.50" font-size="8.4" textLength="11.5" lengthAdjust="spacingAndGlyphs" fill="#1a1a1a">No</text>
<text x="364.30" y="453.90" font-size="8.9" text-anchor="end" transform="rotate(-90 364.30 453.90)" textLength="103.0" lengthAdjust="spacingAndGlyphs" fill="#1a1a1a">NF-κ B signalling pathway</text>
<text x="374.70" y="453.90" font-size="8.9" text-anchor="end" transform="rotate(-90 374.70 453.90)" textLength="93.0" lengthAdjust="spacingAndGlyphs" fill="#1a1a1a">TNF signalling pathway</text>
<text x="385.40" y="453.90" font-size="8.9" text-anchor="end" transform="rotate(-90 385.40 453.90)" textLength="123.0" lengthAdjust="spacingAndGlyphs" fill="#1a1a1a">Chemokine signalling pathway</text>
<text x="395.80" y="453.90" font-size="8.9" text-anchor="end" transform="rotate(-90 395.80 453.90)" textLength="156.6" lengthAdjust="spacingAndGlyphs" fill="#1a1a1a">Cytokine–cytokine receptor interaction</text>
<text x="409.88" y="453.90" font-size="8.3" text-anchor="end" transform="rotate(-90 409.88 453.90)" textLength="42.0" lengthAdjust="spacingAndGlyphs" fill="#1a1a1a">AAV-GFP-1</text>
<text x="422.62" y="453.90" font-size="8.3" text-anchor="end" transform="rotate(-90 422.62 453.90)" textLength="42.0" lengthAdjust="spacingAndGlyphs" fill="#1a1a1a">AAV-GFP-2</text>
<text x="435.38" y="453.90" font-size="8.3" text-anchor="end" transform="rotate(-90 435.38 453.90)" textLength="42.0" lengthAdjust="spacingAndGlyphs" fill="#1a1a1a">AAV-GFP-3</text>
<text x="448.12" y="453.90" font-size="8.3" text-anchor="end" transform="rotate(-90 448.12 453.90)" textLength="42.0" lengthAdjust="spacingAndGlyphs" fill="#1a1a1a">AAV-GFP-4</text>
<text x="460.88" y="453.90" font-size="8.3" text-anchor="end" transform="rotate(-90 460.88 453.90)" textLength="49.6" lengthAdjust="spacingAndGlyphs" fill="#1a1a1a">AAV-AGXT-1</text>
<text x="473.62" y="453.90" font-size="8.3" text-anchor="end" transform="rotate(-90 473.62 453.90)" textLength="49.6" lengthAdjust="spacingAndGlyphs" fill="#1a1a1a">AAV-AGXT-2</text>
<text x="486.38" y="453.90" font-size="8.3" text-anchor="end" transform="rotate(-90 486.38 453.90)" textLength="49.6" lengthAdjust="spacingAndGlyphs" fill="#1a1a1a">AAV-AGXT-3</text>
<text x="499.12" y="453.90" font-size="8.3" text-anchor="end" transform="rotate(-90 499.12 453.90)" textLength="49.6" lengthAdjust="spacingAndGlyphs" fill="#1a1a1a">AAV-AGXT-4</text>
</svg>
</body></html>
